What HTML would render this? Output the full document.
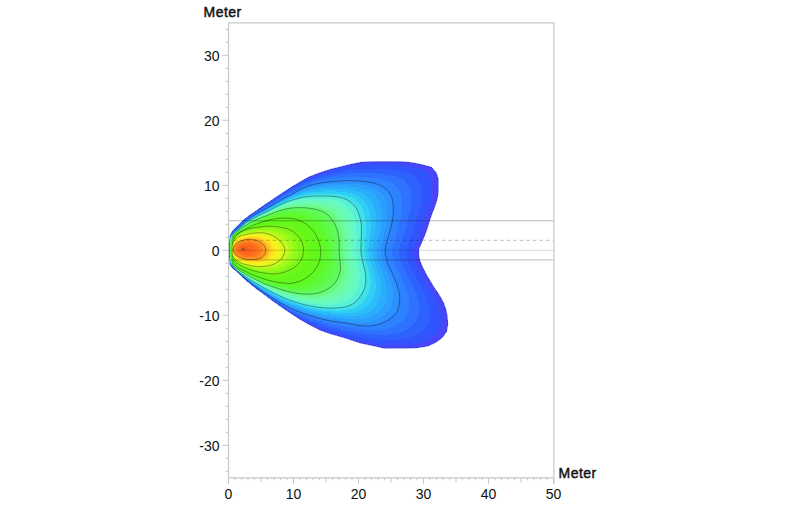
<!DOCTYPE html>
<html><head><meta charset="utf-8"><title>Isolux</title>
<style>
html,body{margin:0;padding:0;background:#fff;}
body{width:800px;height:506px;overflow:hidden;font-family:"Liberation Sans",sans-serif;}
svg{display:block;}
text{font-family:"Liberation Sans",sans-serif;font-size:14px;fill:#111;}
.t{font-weight:normal;stroke:#111;stroke-width:0.45px;letter-spacing:0.5px;}
</style></head><body>
<svg width="800" height="506" viewBox="0 0 800 506">
<rect width="800" height="506" fill="#fff"/>
<defs><clipPath id="cl"><path d="M231.8,0H800V506H231.8Z"/></clipPath><clipPath id="cp"><rect x="229.0" y="22.80000000000001" width="325.0" height="455.0"/></clipPath></defs>
<g clip-path="url(#cp)">
<g shape-rendering="crispEdges">
<path d="M229.3,250.0 229.3,249.7 229.3,249.3 229.3,249.0 229.3,248.6 229.3,248.3 229.2,247.9 229.2,247.6 229.2,247.2 229.2,246.9 229.2,246.5 229.2,246.1 229.2,245.7 229.2,245.3 229.2,244.9 229.2,244.5 229.3,244.1 229.3,243.7 229.4,243.2 229.4,242.8 229.5,242.3 229.5,241.8 229.5,241.3 229.5,240.7 229.5,240.2 229.5,239.5 229.6,238.9 229.7,238.3 229.8,237.6 229.9,236.9 230.0,236.3 230.2,235.6 230.4,234.9 230.7,234.2 231.0,233.6 231.3,233.0 231.7,232.4 232.1,231.8 232.6,231.2 233.0,230.6 233.5,230.0 234.0,229.5 234.6,228.9 235.2,228.3 235.7,227.7 236.4,227.1 237.0,226.5 237.7,225.8 238.4,225.1 239.2,224.3 240.0,223.5 240.9,222.7 241.8,221.8 242.8,220.9 243.8,219.9 244.9,218.9 246.1,218.0 247.4,217.0 248.7,216.0 250.2,215.0 251.7,213.9 253.4,212.8 255.2,211.5 257.3,210.1 259.5,208.5 262.1,206.7 264.9,204.7 268.1,202.6 271.6,200.2 275.7,197.4 280.5,194.3 286.2,190.5 292.6,186.4 299.8,182.2 308.3,177.3 315.7,174.3 323.6,171.5 331.7,169.1 340.3,167.0 350.2,164.5 360.7,162.3 369.9,161.8 379.3,161.6 389.4,161.6 400.6,161.7 411.5,162.6 421.5,164.6 431.4,167.2 436.1,172.4 438.2,178.7 438.3,185.6 438.2,192.4 437.1,199.4 434.8,206.5 432.1,213.3 429.8,219.9 427.9,226.3 425.8,232.4 423.4,238.5 420.8,244.3 418.5,250.0 418.8,255.6 420.0,261.3 422.6,267.3 425.8,273.5 429.5,280.0 433.8,287.0 438.9,294.5 443.3,302.2 446.0,309.9 447.4,317.4 447.7,324.8 446.5,331.7 442.3,337.6 436.0,342.2 428.3,345.9 417.8,347.7 405.8,348.1 394.5,348.1 384.5,348.2 371.1,345.2 359.7,342.9 346.9,338.5 337.1,335.6 328.5,333.1 320.0,330.0 310.7,325.3 302.1,320.5 294.4,315.7 287.4,311.1 281.3,306.8 276.1,303.2 271.8,300.1 268.0,297.3 264.6,294.7 261.7,292.6 259.2,290.7 256.9,289.1 254.9,287.5 253.0,286.0 251.2,284.6 249.7,283.3 248.3,282.2 246.9,281.1 245.7,280.0 244.6,279.0 243.5,278.1 242.6,277.1 241.6,276.2 240.8,275.3 240.0,274.5 239.3,273.7 238.6,273.0 237.9,272.4 237.2,271.9 236.6,271.4 236.0,270.9 235.4,270.4 234.9,270.0 234.3,269.6 233.8,269.1 233.3,268.7 232.8,268.2 232.3,267.8 231.9,267.3 231.5,266.8 231.1,266.2 230.7,265.7 230.4,265.1 230.2,264.5 230.0,263.8 229.9,263.1 229.8,262.4 229.7,261.7 229.6,261.1 229.5,260.5 229.5,259.8 229.5,259.3 229.5,258.7 229.5,258.2 229.5,257.7 229.4,257.2 229.4,256.8 229.3,256.3 229.3,255.9 229.2,255.5 229.2,255.1 229.2,254.7 229.2,254.3 229.2,253.9 229.2,253.5 229.2,253.1 229.2,252.8 229.2,252.4 229.2,252.1 229.3,251.7 229.3,251.4 229.3,251.0 229.3,250.7 229.3,250.3Z" fill="#4a46f8"/>
<path d="M229.3,250.0 229.3,249.7 229.3,249.3 229.3,249.0 229.3,248.6 229.3,248.3 229.3,248.0 229.3,247.6 229.2,247.2 229.2,246.9 229.2,246.5 229.2,246.1 229.2,245.7 229.2,245.3 229.2,244.9 229.3,244.5 229.3,244.1 229.3,243.7 229.4,243.3 229.5,242.8 229.5,242.4 229.5,241.9 229.5,241.3 229.5,240.8 229.5,240.2 229.6,239.6 229.6,238.9 229.7,238.3 229.8,237.7 229.9,237.0 230.1,236.3 230.2,235.6 230.5,235.0 230.7,234.4 231.1,233.7 231.4,233.1 231.8,232.5 232.2,231.9 232.6,231.4 233.1,230.8 233.6,230.2 234.1,229.7 234.6,229.1 235.2,228.5 235.8,228.0 236.4,227.4 237.1,226.7 237.7,226.1 238.5,225.4 239.2,224.7 240.0,223.9 240.8,223.1 241.8,222.2 242.7,221.3 243.7,220.3 244.9,219.4 246.0,218.4 247.3,217.4 248.6,216.4 250.1,215.4 251.6,214.4 253.2,213.3 255.0,212.0 257.0,210.7 259.2,209.2 261.7,207.4 264.4,205.6 267.5,203.5 270.9,201.3 274.9,198.6 279.5,195.6 285.0,192.0 291.2,188.1 298.1,184.1 306.2,179.5 313.7,176.3 321.6,173.4 329.5,171.1 337.8,169.1 347.2,166.8 357.2,164.9 366.1,164.3 375.3,164.2 385.1,164.2 395.7,164.4 406.2,165.3 415.7,167.3 425.0,169.9 429.6,174.9 431.8,180.9 432.2,187.6 432.2,194.2 431.3,200.9 429.3,207.7 426.8,214.4 424.7,220.8 422.9,226.9 420.9,232.9 418.6,238.8 416.2,244.5 414.1,250.0 414.5,255.5 415.6,261.0 418.1,266.8 421.1,272.9 424.6,279.2 428.6,286.0 433.3,293.2 437.3,300.7 439.8,308.1 441.0,315.3 441.1,322.4 439.8,329.1 435.7,334.7 429.6,339.2 422.1,342.8 412.2,344.7 400.8,345.1 389.8,345.0 379.6,344.9 366.8,342.1 356.0,340.0 343.9,336.0 334.4,333.2 326.1,330.8 317.8,327.8 309.0,323.4 300.8,319.0 293.4,314.5 286.6,310.1 280.7,306.1 275.7,302.5 271.4,299.5 267.7,296.8 264.4,294.4 261.5,292.2 259.0,290.4 256.8,288.8 254.7,287.3 252.9,285.8 251.2,284.4 249.6,283.1 248.2,282.0 246.9,280.9 245.7,279.8 244.6,278.9 243.5,277.9 242.6,277.0 241.6,276.1 240.8,275.2 240.0,274.4 239.3,273.7 238.6,273.0 237.9,272.4 237.2,271.9 236.6,271.3 236.0,270.9 235.4,270.4 234.9,269.9 234.3,269.5 233.8,269.1 233.3,268.6 232.8,268.1 232.4,267.7 231.9,267.2 231.5,266.7 231.1,266.1 230.8,265.6 230.5,265.0 230.2,264.4 230.0,263.7 229.9,263.0 229.8,262.3 229.7,261.7 229.6,261.1 229.6,260.4 229.6,259.8 229.5,259.2 229.5,258.7 229.5,258.1 229.5,257.6 229.5,257.2 229.4,256.7 229.3,256.3 229.3,255.9 229.3,255.5 229.2,255.1 229.2,254.7 229.2,254.3 229.2,253.9 229.2,253.5 229.2,253.1 229.2,252.8 229.3,252.4 229.3,252.0 229.3,251.7 229.3,251.4 229.3,251.0 229.3,250.7 229.3,250.3Z" fill="#3154ff"/>
<path d="M229.4,250.0 229.4,249.7 229.4,249.3 229.4,249.0 229.4,248.7 229.4,248.3 229.3,248.0 229.3,247.6 229.3,247.3 229.3,246.9 229.3,246.5 229.3,246.1 229.3,245.8 229.3,245.4 229.3,245.0 229.3,244.6 229.4,244.2 229.4,243.7 229.5,243.3 229.5,242.9 229.6,242.4 229.6,241.9 229.6,241.4 229.6,240.8 229.6,240.2 229.6,239.6 229.7,239.0 229.8,238.4 229.9,237.8 230.0,237.1 230.2,236.5 230.3,235.8 230.6,235.2 230.9,234.5 231.2,233.9 231.5,233.4 231.9,232.8 232.3,232.2 232.7,231.7 233.2,231.1 233.7,230.6 234.2,230.0 234.7,229.5 235.3,229.0 235.9,228.4 236.5,227.8 237.1,227.2 237.8,226.6 238.5,226.0 239.2,225.3 240.0,224.5 240.8,223.7 241.7,222.9 242.6,222.0 243.7,221.1 244.7,220.1 245.9,219.1 247.1,218.1 248.4,217.2 249.8,216.2 251.3,215.2 252.9,214.1 254.7,213.0 256.6,211.7 258.7,210.3 261.0,208.7 263.6,207.1 266.5,205.2 269.7,203.2 273.4,200.8 277.8,198.0 282.9,194.7 288.7,191.2 295.1,187.6 302.6,183.3 310.2,179.8 318.0,176.8 325.5,174.6 333.3,172.8 342.0,170.9 351.0,169.4 359.4,168.8 368.2,168.6 377.4,168.7 387.2,169.1 396.9,170.0 405.6,172.1 413.8,174.8 418.3,179.4 420.7,184.9 421.4,191.1 421.6,197.2 421.0,203.5 419.5,209.9 417.5,216.1 415.7,222.2 414.0,228.0 412.2,233.7 410.1,239.3 408.0,244.7 406.3,250.0 406.7,255.2 407.8,260.6 410.0,266.1 412.8,271.8 416.0,277.9 419.6,284.3 423.5,291.0 426.8,298.0 428.9,304.9 429.8,311.7 429.5,318.2 428.1,324.5 424.1,329.7 418.4,333.9 411.4,337.3 402.5,339.3 392.1,339.9 381.4,339.7 371.0,339.0 359.3,336.7 349.4,334.9 338.6,331.5 329.6,329.0 321.7,326.7 313.9,323.9 305.9,320.2 298.4,316.3 291.6,312.3 285.3,308.4 279.7,304.7 274.9,301.4 270.8,298.5 267.2,296.0 264.0,293.7 261.2,291.6 258.8,289.9 256.6,288.3 254.6,286.8 252.7,285.3 251.0,284.0 249.5,282.7 248.1,281.6 246.8,280.5 245.6,279.5 244.5,278.5 243.5,277.7 242.5,276.8 241.6,275.9 240.8,275.1 240.0,274.3 239.3,273.6 238.6,273.0 237.9,272.4 237.2,271.8 236.6,271.3 236.0,270.8 235.5,270.3 234.9,269.9 234.4,269.4 233.8,268.9 233.4,268.5 232.9,268.0 232.4,267.5 232.0,267.0 231.6,266.5 231.2,266.0 230.9,265.4 230.6,264.8 230.3,264.2 230.1,263.6 230.0,262.9 229.9,262.2 229.8,261.6 229.7,261.0 229.6,260.4 229.6,259.8 229.6,259.2 229.6,258.6 229.6,258.1 229.6,257.6 229.5,257.1 229.5,256.7 229.4,256.3 229.4,255.8 229.3,255.4 229.3,255.0 229.3,254.6 229.3,254.2 229.3,253.9 229.3,253.5 229.3,253.1 229.3,252.7 229.3,252.4 229.3,252.0 229.4,251.7 229.4,251.3 229.4,251.0 229.4,250.7 229.4,250.3Z" fill="#2e62ff"/>
<path d="M229.5,250.0 229.5,249.7 229.5,249.3 229.5,249.0 229.4,248.7 229.4,248.3 229.4,248.0 229.4,247.6 229.4,247.3 229.4,246.9 229.4,246.5 229.4,246.2 229.4,245.8 229.4,245.4 229.4,245.0 229.4,244.6 229.4,244.2 229.5,243.8 229.5,243.3 229.6,242.9 229.6,242.5 229.7,242.0 229.7,241.4 229.7,240.9 229.7,240.3 229.7,239.7 229.7,239.1 229.8,238.4 229.9,237.8 230.1,237.2 230.3,236.6 230.5,236.0 230.7,235.3 231.0,234.7 231.3,234.2 231.6,233.6 232.0,233.0 232.4,232.5 232.9,232.0 233.3,231.4 233.8,230.9 234.3,230.4 234.8,229.9 235.4,229.4 236.0,228.8 236.6,228.3 237.2,227.7 237.8,227.2 238.5,226.5 239.2,225.9 240.0,225.2 240.8,224.4 241.7,223.6 242.6,222.7 243.6,221.8 244.6,220.8 245.7,219.9 247.0,218.9 248.2,217.9 249.6,217.0 251.0,216.0 252.6,215.0 254.3,213.9 256.1,212.7 258.2,211.4 260.4,210.0 262.8,208.5 265.5,206.9 268.5,205.0 272.0,202.9 276.1,200.3 280.9,197.2 286.3,194.1 292.2,190.8 299.3,186.9 306.9,183.1 314.6,180.0 321.7,178.0 329.0,176.4 336.9,174.8 345.1,173.6 353.1,173.1 361.5,172.9 370.2,173.0 379.2,173.5 388.2,174.5 396.1,176.5 403.4,179.3 407.6,183.7 410.2,188.7 411.2,194.4 411.6,200.1 411.3,206.0 410.2,212.0 408.6,217.8 407.1,223.5 405.6,229.1 403.9,234.5 402.1,239.8 400.3,245.0 398.9,250.0 399.3,255.0 400.3,260.1 402.3,265.3 404.9,270.8 407.8,276.6 410.9,282.6 414.2,288.9 416.9,295.4 418.6,301.9 419.1,308.2 418.6,314.3 417.1,320.1 413.1,324.9 407.8,329.0 401.3,332.2 393.3,334.3 383.8,335.0 373.5,334.7 362.9,333.5 352.3,331.6 343.2,330.0 333.5,327.4 325.1,325.1 317.5,322.8 310.2,320.2 302.9,317.0 296.1,313.7 289.8,310.2 284.0,306.7 278.7,303.3 274.1,300.2 270.2,297.5 266.7,295.1 263.6,293.0 260.9,291.0 258.5,289.3 256.3,287.7 254.4,286.3 252.6,284.9 250.9,283.6 249.4,282.3 248.0,281.2 246.7,280.1 245.6,279.1 244.5,278.2 243.5,277.4 242.5,276.6 241.6,275.8 240.8,275.0 240.0,274.3 239.3,273.6 238.6,273.0 237.9,272.4 237.2,271.8 236.6,271.3 236.0,270.8 235.5,270.3 234.9,269.8 234.4,269.3 233.9,268.8 233.4,268.3 232.9,267.9 232.5,267.4 232.1,266.9 231.7,266.3 231.3,265.8 231.0,265.3 230.7,264.7 230.4,264.1 230.2,263.4 230.1,262.8 229.9,262.2 229.8,261.6 229.7,260.9 229.7,260.3 229.7,259.7 229.7,259.1 229.7,258.6 229.7,258.0 229.6,257.5 229.6,257.1 229.5,256.7 229.5,256.2 229.4,255.8 229.4,255.4 229.4,255.0 229.4,254.6 229.4,254.2 229.4,253.8 229.4,253.5 229.4,253.1 229.4,252.7 229.4,252.4 229.4,252.0 229.4,251.7 229.4,251.3 229.5,251.0 229.5,250.7 229.5,250.3Z" fill="#2e72ff"/>
<path d="M229.5,250.0 229.5,249.7 229.5,249.3 229.5,249.0 229.5,248.7 229.5,248.3 229.5,248.0 229.5,247.6 229.4,247.3 229.4,246.9 229.4,246.6 229.4,246.2 229.4,245.8 229.4,245.4 229.4,245.0 229.5,244.6 229.5,244.2 229.5,243.8 229.6,243.4 229.6,243.0 229.7,242.5 229.7,242.0 229.7,241.5 229.7,240.9 229.7,240.3 229.7,239.7 229.8,239.1 229.9,238.5 230.0,237.9 230.2,237.3 230.3,236.7 230.6,236.1 230.8,235.5 231.1,234.9 231.4,234.4 231.8,233.8 232.1,233.3 232.5,232.8 233.0,232.2 233.4,231.7 233.9,231.2 234.4,230.8 234.9,230.3 235.5,229.8 236.0,229.3 236.6,228.8 237.2,228.2 237.9,227.7 238.6,227.1 239.3,226.5 240.0,225.8 240.8,225.1 241.6,224.2 242.5,223.4 243.5,222.5 244.5,221.5 245.6,220.6 246.8,219.6 248.0,218.7 249.4,217.7 250.8,216.8 252.3,215.8 253.9,214.8 255.7,213.7 257.7,212.5 259.8,211.2 262.0,209.9 264.6,208.5 267.4,206.8 270.6,204.9 274.5,202.5 279.1,199.6 284.0,196.8 289.5,193.9 296.0,190.3 303.8,186.2 311.3,183.1 318.1,181.2 324.9,179.7 332.2,178.5 339.6,177.6 347.2,177.2 355.2,176.9 363.3,177.1 371.6,177.7 379.9,178.7 387.2,180.7 393.5,183.6 397.5,187.6 400.3,192.3 401.7,197.5 402.1,202.9 402.1,208.4 401.4,213.9 400.2,219.4 398.9,224.8 397.6,230.1 396.0,235.3 394.4,240.3 392.9,245.2 391.8,250.0 392.2,254.8 393.2,259.6 394.9,264.6 397.4,269.9 400.0,275.3 402.7,281.0 405.4,287.0 407.5,293.0 408.9,299.1 409.1,304.9 408.3,310.6 406.7,316.0 402.9,320.5 397.8,324.3 391.9,327.4 384.6,329.5 375.9,330.4 366.0,330.0 355.3,328.4 345.7,326.8 337.3,325.5 328.7,323.4 320.9,321.3 313.6,319.1 306.7,316.7 300.1,314.0 293.9,311.2 288.2,308.2 282.8,305.1 277.8,302.0 273.4,299.1 269.5,296.6 266.2,294.3 263.2,292.3 260.6,290.4 258.2,288.7 256.1,287.2 254.2,285.8 252.4,284.4 250.8,283.2 249.3,281.9 247.9,280.8 246.7,279.8 245.5,278.8 244.4,277.9 243.4,277.1 242.5,276.3 241.6,275.6 240.8,274.9 240.0,274.2 239.3,273.6 238.6,272.9 237.9,272.4 237.2,271.8 236.6,271.2 236.0,270.7 235.5,270.2 234.9,269.7 234.4,269.2 233.9,268.7 233.4,268.2 233.0,267.7 232.6,267.2 232.1,266.7 231.8,266.2 231.4,265.6 231.1,265.1 230.8,264.5 230.5,263.9 230.3,263.3 230.2,262.7 230.0,262.1 229.9,261.5 229.8,260.9 229.7,260.3 229.7,259.6 229.7,259.1 229.7,258.5 229.7,258.0 229.7,257.5 229.6,257.0 229.6,256.6 229.5,256.2 229.5,255.8 229.5,255.4 229.4,255.0 229.4,254.6 229.4,254.2 229.4,253.8 229.4,253.4 229.4,253.1 229.4,252.7 229.5,252.4 229.5,252.0 229.5,251.7 229.5,251.3 229.5,251.0 229.5,250.7 229.5,250.3Z" fill="#2d82ff"/>
<path d="M229.6,250.0 229.6,249.7 229.6,249.3 229.6,249.0 229.6,248.7 229.6,248.3 229.5,248.0 229.5,247.7 229.5,247.3 229.5,246.9 229.5,246.6 229.5,246.2 229.5,245.8 229.5,245.5 229.5,245.1 229.5,244.7 229.5,244.3 229.6,243.8 229.6,243.4 229.7,243.0 229.8,242.6 229.8,242.1 229.8,241.5 229.8,241.0 229.8,240.4 229.8,239.8 229.8,239.2 229.9,238.6 230.1,238.0 230.2,237.4 230.4,236.8 230.7,236.3 230.9,235.7 231.2,235.1 231.5,234.6 231.9,234.0 232.2,233.5 232.7,233.0 233.1,232.5 233.5,232.0 234.0,231.6 234.5,231.1 235.0,230.6 235.6,230.2 236.1,229.7 236.7,229.2 237.3,228.7 237.9,228.2 238.6,227.6 239.3,227.1 240.0,226.4 240.8,225.7 241.6,224.9 242.5,224.0 243.4,223.1 244.4,222.2 245.5,221.3 246.6,220.3 247.9,219.4 249.2,218.5 250.5,217.6 252.0,216.6 253.6,215.6 255.3,214.6 257.2,213.5 259.1,212.4 261.3,211.3 263.7,210.0 266.3,208.5 269.3,206.8 273.0,204.6 277.3,202.0 281.9,199.4 286.9,196.8 293.0,193.5 300.8,189.2 308.1,186.0 314.6,184.2 321.0,183.0 327.7,182.0 334.4,181.4 341.5,181.0 349.1,180.7 356.8,180.9 364.4,181.6 372.1,182.7 378.7,184.7 384.3,187.6 388.1,191.4 391.0,195.6 392.6,200.4 393.2,205.5 393.4,210.6 393.1,215.8 392.2,221.0 391.2,226.1 389.9,231.1 388.5,236.0 387.1,240.7 385.8,245.4 385.0,250.0 385.4,254.6 386.4,259.2 387.8,264.0 390.2,269.0 392.6,274.2 394.9,279.5 397.0,285.1 398.6,290.7 399.7,296.4 399.6,301.9 398.6,307.1 396.9,312.1 393.2,316.3 388.5,319.9 382.9,322.8 376.4,325.0 368.5,326.0 359.0,325.5 348.2,323.5 339.4,322.2 331.8,321.2 324.2,319.6 316.8,317.7 309.9,315.6 303.4,313.4 297.4,311.2 291.8,308.8 286.6,306.3 281.5,303.5 276.9,300.7 272.6,298.0 268.9,295.6 265.7,293.5 262.9,291.6 260.3,289.8 258.0,288.2 255.9,286.7 254.0,285.3 252.2,284.0 250.6,282.7 249.2,281.5 247.8,280.4 246.6,279.4 245.4,278.4 244.4,277.6 243.4,276.8 242.5,276.1 241.6,275.4 240.8,274.8 240.0,274.1 239.3,273.5 238.6,272.9 237.9,272.3 237.2,271.8 236.6,271.2 236.1,270.7 235.5,270.1 235.0,269.6 234.5,269.1 234.0,268.6 233.5,268.1 233.0,267.6 232.6,267.1 232.2,266.5 231.8,266.0 231.5,265.5 231.2,264.9 230.9,264.4 230.6,263.8 230.4,263.2 230.2,262.6 230.1,262.0 229.9,261.4 229.9,260.8 229.8,260.2 229.8,259.6 229.8,259.0 229.8,258.5 229.8,257.9 229.8,257.4 229.7,257.0 229.6,256.6 229.6,256.2 229.5,255.7 229.5,255.3 229.5,254.9 229.5,254.5 229.5,254.2 229.5,253.8 229.5,253.4 229.5,253.1 229.5,252.7 229.5,252.3 229.5,252.0 229.6,251.7 229.6,251.3 229.6,251.0 229.6,250.7 229.6,250.3Z" fill="#2c91fe"/>
<path d="M229.7,250.0 229.6,249.7 229.6,249.3 229.6,249.0 229.6,248.7 229.6,248.4 229.6,248.0 229.6,247.7 229.6,247.3 229.5,247.0 229.5,246.6 229.5,246.2 229.5,245.9 229.5,245.5 229.5,245.1 229.6,244.7 229.6,244.3 229.6,243.9 229.7,243.5 229.7,243.0 229.8,242.6 229.8,242.1 229.8,241.6 229.8,241.0 229.8,240.5 229.9,239.9 229.9,239.3 230.0,238.7 230.1,238.1 230.3,237.5 230.5,236.9 230.7,236.4 231.0,235.8 231.3,235.2 231.6,234.7 231.9,234.2 232.3,233.7 232.7,233.2 233.1,232.7 233.6,232.2 234.1,231.8 234.6,231.3 235.1,230.8 235.6,230.4 236.2,229.9 236.7,229.4 237.3,229.0 238.0,228.4 238.6,227.9 239.3,227.3 240.0,226.7 240.8,226.0 241.6,225.2 242.4,224.4 243.3,223.5 244.3,222.6 245.4,221.7 246.5,220.8 247.7,219.9 249.0,219.0 250.4,218.1 251.8,217.2 253.4,216.2 255.0,215.2 256.9,214.2 258.8,213.1 260.9,212.0 263.2,210.8 265.8,209.4 268.7,207.8 272.2,205.7 276.2,203.3 280.7,200.8 285.6,198.3 291.4,195.3 298.6,191.4 305.5,188.5 311.7,186.8 317.9,185.6 324.2,184.7 330.7,184.1 337.5,183.8 344.7,183.6 352.0,183.8 359.3,184.4 366.6,185.5 372.8,187.5 378.0,190.3 381.7,193.9 384.6,197.9 386.2,202.5 386.9,207.3 387.3,212.2 387.2,217.1 386.6,222.0 385.8,226.9 384.7,231.7 383.6,236.4 382.4,241.0 381.3,245.6 380.7,250.0 381.1,254.4 382.0,258.9 383.3,263.5 385.4,268.4 387.5,273.4 389.5,278.5 391.3,283.8 392.5,289.2 393.3,294.5 393.0,299.7 391.8,304.6 390.0,309.4 386.5,313.4 382.0,316.8 376.7,319.6 370.3,321.6 362.8,322.6 353.9,322.3 344.0,320.7 335.7,319.5 328.3,318.5 321.0,317.0 313.9,315.2 307.2,313.1 301.0,311.0 295.3,308.9 289.9,306.6 284.8,304.1 280.0,301.6 275.6,298.9 271.6,296.5 268.1,294.2 265.0,292.3 262.2,290.5 259.8,288.8 257.5,287.3 255.5,285.9 253.7,284.6 252.0,283.3 250.4,282.1 249.0,281.0 247.7,279.9 246.5,279.0 245.4,278.1 244.3,277.2 243.3,276.5 242.4,275.8 241.6,275.1 240.8,274.5 240.0,273.9 239.3,273.3 238.6,272.7 237.9,272.2 237.3,271.6 236.7,271.1 236.1,270.5 235.5,270.0 235.0,269.5 234.5,268.9 234.0,268.4 233.5,267.9 233.1,267.4 232.7,266.9 232.3,266.4 231.9,265.9 231.6,265.4 231.2,264.8 231.0,264.2 230.7,263.7 230.5,263.1 230.3,262.5 230.1,261.9 230.0,261.3 229.9,260.7 229.9,260.1 229.8,259.5 229.8,259.0 229.8,258.4 229.8,257.9 229.8,257.4 229.7,257.0 229.7,256.5 229.6,256.1 229.6,255.7 229.6,255.3 229.5,254.9 229.5,254.5 229.5,254.1 229.5,253.8 229.5,253.4 229.5,253.0 229.6,252.7 229.6,252.3 229.6,252.0 229.6,251.6 229.6,251.3 229.6,251.0 229.6,250.7 229.6,250.3Z" fill="#2c9ffe"/>
<path d="M229.7,250.0 229.7,249.7 229.7,249.4 229.7,249.0 229.7,248.7 229.7,248.4 229.6,248.0 229.6,247.7 229.6,247.3 229.6,247.0 229.6,246.6 229.6,246.2 229.6,245.9 229.6,245.5 229.6,245.1 229.6,244.7 229.6,244.3 229.7,243.9 229.7,243.5 229.8,243.1 229.8,242.6 229.9,242.1 229.9,241.6 229.9,241.1 229.9,240.5 229.9,239.9 230.0,239.3 230.1,238.7 230.2,238.2 230.4,237.6 230.6,237.0 230.8,236.5 231.1,235.9 231.3,235.4 231.7,234.8 232.0,234.3 232.4,233.8 232.8,233.3 233.2,232.9 233.7,232.4 234.1,231.9 234.6,231.5 235.1,231.0 235.7,230.6 236.2,230.1 236.8,229.7 237.4,229.2 238.0,228.7 238.6,228.2 239.3,227.6 240.0,227.0 240.7,226.3 241.5,225.6 242.4,224.7 243.3,223.9 244.3,223.0 245.3,222.1 246.4,221.2 247.6,220.3 248.9,219.5 250.2,218.6 251.6,217.7 253.1,216.8 254.8,215.8 256.5,214.8 258.4,213.8 260.5,212.7 262.7,211.6 265.2,210.3 268.0,208.8 271.4,206.8 275.3,204.6 279.6,202.1 284.3,199.7 289.8,196.9 296.5,193.5 302.9,190.9 308.9,189.2 314.9,188.1 321.0,187.2 327.1,186.7 333.6,186.4 340.4,186.3 347.4,186.5 354.4,187.1 361.3,188.2 367.2,190.2 372.0,192.9 375.6,196.3 378.4,200.2 380.0,204.5 380.9,209.1 381.5,213.7 381.5,218.4 381.1,223.1 380.5,227.7 379.7,232.3 378.8,236.9 377.8,241.3 377.0,245.7 376.4,250.0 376.8,254.3 377.7,258.7 378.9,263.1 380.8,267.8 382.7,272.6 384.4,277.5 385.8,282.6 386.7,287.7 387.2,292.8 386.6,297.6 385.3,302.3 383.3,306.7 380.0,310.6 375.7,313.9 370.7,316.6 364.5,318.5 357.3,319.4 349.0,319.2 339.9,317.9 332.0,316.9 324.9,315.9 317.9,314.5 311.1,312.7 304.7,310.8 298.7,308.7 293.2,306.6 288.0,304.4 283.1,302.1 278.5,299.6 274.3,297.2 270.5,294.9 267.2,292.9 264.3,291.1 261.6,289.4 259.3,287.8 257.1,286.4 255.2,285.1 253.4,283.9 251.8,282.7 250.2,281.5 248.9,280.5 247.6,279.5 246.4,278.5 245.3,277.7 244.3,276.9 243.3,276.2 242.4,275.5 241.6,274.9 240.8,274.3 240.0,273.7 239.3,273.1 238.6,272.5 237.9,272.0 237.3,271.5 236.7,270.9 236.1,270.4 235.6,269.8 235.0,269.3 234.5,268.8 234.1,268.3 233.6,267.8 233.2,267.3 232.7,266.8 232.3,266.3 232.0,265.8 231.6,265.2 231.3,264.7 231.0,264.1 230.8,263.6 230.6,263.0 230.4,262.4 230.2,261.8 230.1,261.3 230.0,260.7 229.9,260.1 229.9,259.5 229.9,258.9 229.9,258.4 229.9,257.9 229.8,257.4 229.8,256.9 229.7,256.5 229.7,256.1 229.6,255.7 229.6,255.3 229.6,254.9 229.6,254.5 229.6,254.1 229.6,253.8 229.6,253.4 229.6,253.0 229.6,252.7 229.6,252.3 229.6,252.0 229.7,251.6 229.7,251.3 229.7,251.0 229.7,250.6 229.7,250.3Z" fill="#2aadfc"/>
<path d="M229.8,250.0 229.7,249.7 229.7,249.4 229.7,249.0 229.7,248.7 229.7,248.4 229.7,248.0 229.7,247.7 229.7,247.3 229.6,247.0 229.6,246.6 229.6,246.3 229.6,245.9 229.6,245.5 229.6,245.1 229.7,244.7 229.7,244.3 229.7,243.9 229.8,243.5 229.8,243.1 229.9,242.7 229.9,242.2 229.9,241.7 229.9,241.1 229.9,240.6 230.0,240.0 230.0,239.4 230.1,238.8 230.3,238.2 230.4,237.7 230.6,237.1 230.9,236.6 231.1,236.0 231.4,235.5 231.7,235.0 232.1,234.5 232.5,234.0 232.9,233.5 233.3,233.0 233.7,232.6 234.2,232.1 234.7,231.7 235.2,231.2 235.7,230.8 236.3,230.4 236.8,229.9 237.4,229.4 238.0,229.0 238.6,228.5 239.3,227.9 240.0,227.3 240.7,226.6 241.5,225.9 242.4,225.1 243.3,224.3 244.2,223.4 245.2,222.5 246.3,221.6 247.5,220.8 248.7,219.9 250.0,219.1 251.4,218.2 252.9,217.4 254.5,216.4 256.2,215.5 258.1,214.5 260.1,213.5 262.3,212.3 264.7,211.1 267.4,209.7 270.6,207.9 274.3,205.8 278.5,203.5 283.1,201.1 288.3,198.6 294.4,195.6 300.5,193.2 306.2,191.6 312.0,190.5 317.8,189.7 323.7,189.2 329.8,189.0 336.3,188.9 343.0,189.1 349.7,189.7 356.2,190.8 361.8,192.7 366.2,195.4 369.7,198.7 372.5,202.3 374.1,206.4 375.2,210.7 375.9,215.1 376.1,219.6 375.9,224.1 375.5,228.5 374.9,233.0 374.2,237.3 373.5,241.6 372.8,245.8 372.3,250.0 372.7,254.2 373.5,258.4 374.7,262.7 376.2,267.2 378.0,271.8 379.4,276.6 380.5,281.4 381.1,286.2 381.3,291.0 380.5,295.7 379.0,300.0 377.0,304.2 373.8,307.9 369.8,311.1 365.0,313.7 359.0,315.4 352.1,316.3 344.3,316.2 336.0,315.2 328.6,314.3 321.7,313.4 315.0,312.0 308.5,310.4 302.3,308.5 296.5,306.5 291.2,304.5 286.1,302.3 281.4,300.1 277.1,297.8 273.1,295.5 269.5,293.5 266.4,291.6 263.6,289.9 261.1,288.3 258.8,286.8 256.7,285.5 254.8,284.3 253.1,283.1 251.5,282.0 250.1,280.9 248.7,279.9 247.4,279.0 246.3,278.1 245.2,277.3 244.2,276.5 243.3,275.9 242.4,275.2 241.5,274.6 240.8,274.0 240.0,273.5 239.3,272.9 238.6,272.4 237.9,271.8 237.3,271.3 236.7,270.8 236.1,270.2 235.6,269.7 235.1,269.2 234.6,268.7 234.1,268.2 233.6,267.7 233.2,267.2 232.8,266.7 232.4,266.2 232.0,265.6 231.7,265.1 231.4,264.6 231.1,264.0 230.9,263.5 230.6,262.9 230.4,262.3 230.3,261.8 230.1,261.2 230.0,260.6 230.0,260.0 230.0,259.4 229.9,258.9 229.9,258.3 229.9,257.8 229.9,257.3 229.8,256.9 229.8,256.5 229.7,256.1 229.7,255.7 229.7,255.3 229.6,254.9 229.6,254.5 229.6,254.1 229.6,253.7 229.6,253.4 229.6,253.0 229.7,252.7 229.7,252.3 229.7,252.0 229.7,251.6 229.7,251.3 229.7,251.0 229.7,250.6 229.7,250.3Z" fill="#2cbcfa"/>
<path d="M229.8,250.0 229.8,249.7 229.8,249.4 229.8,249.0 229.8,248.7 229.8,248.4 229.7,248.0 229.7,247.7 229.7,247.4 229.7,247.0 229.7,246.6 229.7,246.3 229.7,245.9 229.7,245.5 229.7,245.1 229.7,244.8 229.7,244.4 229.8,244.0 229.8,243.5 229.9,243.1 229.9,242.7 230.0,242.2 230.0,241.7 230.0,241.2 230.0,240.6 230.0,240.0 230.1,239.4 230.2,238.9 230.3,238.3 230.5,237.8 230.7,237.2 230.9,236.7 231.2,236.1 231.5,235.6 231.8,235.1 232.2,234.6 232.5,234.1 232.9,233.6 233.3,233.2 233.8,232.7 234.3,232.3 234.7,231.9 235.2,231.4 235.8,231.0 236.3,230.6 236.9,230.1 237.4,229.7 238.0,229.2 238.7,228.7 239.3,228.2 240.0,227.6 240.7,226.9 241.5,226.2 242.3,225.4 243.2,224.6 244.2,223.8 245.2,222.9 246.2,222.0 247.4,221.2 248.6,220.4 249.9,219.6 251.3,218.7 252.7,217.9 254.3,217.0 255.9,216.1 257.8,215.1 259.7,214.2 261.8,213.1 264.2,211.9 266.8,210.6 269.8,209.0 273.4,207.0 277.4,204.7 281.9,202.5 286.8,200.1 292.5,197.5 298.1,195.4 303.7,193.9 309.2,192.8 314.8,192.0 320.4,191.6 326.2,191.4 332.4,191.4 338.8,191.6 345.2,192.2 351.4,193.3 356.6,195.1 360.7,197.8 364.1,200.9 366.8,204.3 368.5,208.3 369.6,212.3 370.5,216.5 370.9,220.7 370.8,225.0 370.6,229.3 370.3,233.5 369.8,237.7 369.2,241.9 368.7,246.0 368.4,250.0 368.7,254.0 369.5,258.1 370.5,262.3 371.9,266.7 373.4,271.1 374.7,275.7 375.4,280.3 375.8,284.9 375.7,289.4 374.7,293.8 373.0,297.9 370.9,301.8 367.9,305.4 364.1,308.4 359.5,310.9 353.7,312.5 347.1,313.4 339.9,313.4 332.2,312.7 325.2,311.9 318.6,310.9 312.1,309.7 305.9,308.1 299.9,306.3 294.4,304.4 289.2,302.4 284.4,300.4 279.9,298.2 275.7,296.0 271.9,293.9 268.6,292.0 265.6,290.3 262.9,288.7 260.5,287.2 258.3,285.9 256.3,284.7 254.5,283.5 252.8,282.4 251.3,281.4 249.9,280.4 248.5,279.4 247.3,278.5 246.2,277.7 245.1,276.9 244.1,276.2 243.2,275.6 242.4,274.9 241.5,274.4 240.7,273.8 240.0,273.2 239.3,272.7 238.6,272.2 238.0,271.7 237.3,271.1 236.7,270.6 236.2,270.1 235.6,269.6 235.1,269.0 234.6,268.5 234.1,268.0 233.7,267.5 233.3,267.0 232.8,266.5 232.5,266.0 232.1,265.5 231.8,265.0 231.5,264.4 231.2,263.9 230.9,263.4 230.7,262.8 230.5,262.3 230.3,261.7 230.2,261.1 230.1,260.6 230.0,260.0 230.0,259.4 230.0,258.8 230.0,258.3 230.0,257.8 229.9,257.3 229.9,256.9 229.8,256.5 229.8,256.0 229.7,255.6 229.7,255.2 229.7,254.9 229.7,254.5 229.7,254.1 229.7,253.7 229.7,253.4 229.7,253.0 229.7,252.6 229.7,252.3 229.7,252.0 229.8,251.6 229.8,251.3 229.8,251.0 229.8,250.6 229.8,250.3Z" fill="#30cdf5"/>
<path d="M229.9,250.0 229.8,249.7 229.8,249.4 229.8,249.0 229.8,248.7 229.8,248.4 229.8,248.1 229.8,247.7 229.8,247.4 229.7,247.0 229.7,246.7 229.7,246.3 229.7,245.9 229.7,245.6 229.7,245.2 229.8,244.8 229.8,244.4 229.8,244.0 229.9,243.6 229.9,243.2 230.0,242.7 230.0,242.3 230.0,241.8 230.0,241.2 230.1,240.7 230.1,240.1 230.1,239.5 230.2,238.9 230.4,238.4 230.6,237.8 230.8,237.3 231.0,236.8 231.3,236.2 231.6,235.7 231.9,235.2 232.2,234.7 232.6,234.3 233.0,233.8 233.4,233.3 233.8,232.9 234.3,232.5 234.8,232.1 235.3,231.6 235.8,231.2 236.3,230.8 236.9,230.4 237.5,229.9 238.1,229.5 238.7,229.0 239.3,228.5 240.0,227.9 240.7,227.2 241.5,226.5 242.3,225.8 243.2,225.0 244.1,224.1 245.1,223.3 246.2,222.5 247.3,221.6 248.5,220.8 249.7,220.0 251.1,219.3 252.5,218.4 254.0,217.6 255.7,216.7 257.4,215.8 259.3,214.8 261.4,213.8 263.6,212.7 266.2,211.5 269.0,210.0 272.5,208.2 276.4,206.0 280.7,203.8 285.4,201.6 290.6,199.4 295.9,197.5 301.2,196.1 306.5,195.0 311.8,194.3 317.2,193.9 322.8,193.7 328.6,193.7 334.8,194.0 340.9,194.5 346.7,195.6 351.7,197.5 355.4,200.0 358.7,203.0 361.4,206.3 363.0,210.0 364.3,213.9 365.3,217.8 365.9,221.9 366.0,226.0 365.9,230.1 365.8,234.1 365.5,238.1 365.1,242.1 364.7,246.1 364.5,250.0 364.9,253.9 365.6,257.9 366.5,262.0 367.7,266.1 369.0,270.4 370.0,274.8 370.5,279.2 370.6,283.5 370.2,287.8 369.1,291.9 367.3,295.8 365.1,299.5 362.3,302.9 358.6,305.8 354.3,308.2 348.6,309.7 342.4,310.5 335.6,310.7 328.6,310.2 322.0,309.6 315.6,308.6 309.4,307.4 303.4,305.9 297.7,304.2 292.3,302.3 287.4,300.5 282.7,298.4 278.4,296.4 274.4,294.3 270.8,292.4 267.6,290.7 264.8,289.1 262.2,287.6 259.9,286.2 257.8,285.0 255.9,283.8 254.2,282.8 252.6,281.7 251.1,280.8 249.7,279.8 248.4,278.9 247.2,278.1 246.1,277.3 245.1,276.5 244.1,275.9 243.2,275.2 242.3,274.7 241.5,274.1 240.7,273.6 240.0,273.0 239.3,272.5 238.6,272.0 238.0,271.5 237.3,271.0 236.8,270.5 236.2,269.9 235.7,269.4 235.1,268.9 234.7,268.4 234.2,267.9 233.7,267.4 233.3,266.9 232.9,266.4 232.5,265.9 232.2,265.4 231.8,264.9 231.5,264.3 231.3,263.8 231.0,263.3 230.8,262.7 230.6,262.2 230.4,261.6 230.2,261.1 230.1,260.5 230.1,259.9 230.1,259.3 230.1,258.8 230.0,258.2 230.0,257.7 230.0,257.3 229.9,256.8 229.9,256.4 229.8,256.0 229.8,255.6 229.8,255.2 229.7,254.8 229.7,254.4 229.7,254.1 229.7,253.7 229.7,253.3 229.7,253.0 229.8,252.6 229.8,252.3 229.8,251.9 229.8,251.6 229.8,251.3 229.8,251.0 229.8,250.6 229.8,250.3Z" fill="#40e0e8"/>
<path d="M229.9,250.0 229.9,249.7 229.9,249.4 229.9,249.0 229.9,248.7 229.9,248.4 229.8,248.1 229.8,247.7 229.8,247.4 229.8,247.0 229.8,246.7 229.8,246.3 229.8,245.9 229.8,245.6 229.8,245.2 229.8,244.8 229.8,244.4 229.9,244.0 229.9,243.6 230.0,243.2 230.0,242.8 230.1,242.3 230.1,241.8 230.1,241.3 230.1,240.7 230.1,240.1 230.2,239.6 230.3,239.0 230.4,238.5 230.6,237.9 230.8,237.4 231.1,236.9 231.3,236.4 231.6,235.8 231.9,235.3 232.3,234.9 232.7,234.4 233.1,233.9 233.5,233.5 233.9,233.1 234.4,232.7 234.8,232.2 235.3,231.8 235.8,231.4 236.4,231.0 236.9,230.6 237.5,230.2 238.1,229.7 238.7,229.2 239.3,228.7 240.0,228.2 240.7,227.5 241.5,226.8 242.3,226.1 243.1,225.3 244.0,224.5 245.0,223.7 246.1,222.9 247.2,222.1 248.3,221.3 249.6,220.5 250.9,219.8 252.3,219.0 253.8,218.2 255.4,217.3 257.1,216.4 259.0,215.5 261.0,214.6 263.1,213.5 265.6,212.4 268.3,211.1 271.6,209.3 275.4,207.2 279.6,205.1 284.0,203.1 288.8,201.2 293.7,199.6 298.8,198.2 303.9,197.1 309.0,196.4 314.2,196.1 319.5,196.0 325.0,196.0 330.9,196.3 336.7,196.8 342.2,197.9 346.9,199.7 350.4,202.2 353.6,205.0 356.2,208.2 357.9,211.7 359.2,215.4 360.4,219.1 361.1,222.9 361.3,226.9 361.4,230.8 361.4,234.7 361.3,238.5 361.1,242.4 360.9,246.2 360.8,250.0 361.1,253.8 361.9,257.7 362.6,261.6 363.6,265.6 364.7,269.8 365.6,274.0 365.7,278.1 365.6,282.3 365.0,286.3 363.7,290.2 361.8,293.9 359.6,297.3 356.9,300.6 353.4,303.4 349.3,305.7 343.8,307.1 337.8,307.8 331.5,308.1 325.1,307.9 318.9,307.3 312.7,306.4 306.8,305.2 301.0,303.8 295.5,302.1 290.4,300.4 285.6,298.6 281.1,296.6 276.9,294.6 273.1,292.7 269.7,290.9 266.7,289.3 264.0,287.9 261.6,286.5 259.4,285.2 257.4,284.1 255.5,283.0 253.9,282.0 252.3,281.1 250.9,280.1 249.5,279.2 248.3,278.4 247.1,277.6 246.0,276.9 245.0,276.2 244.0,275.5 243.2,274.9 242.3,274.4 241.5,273.8 240.7,273.3 240.0,272.8 239.3,272.3 238.6,271.8 238.0,271.3 237.4,270.8 236.8,270.3 236.2,269.8 235.7,269.3 235.2,268.8 234.7,268.3 234.2,267.8 233.8,267.3 233.4,266.8 233.0,266.3 232.6,265.8 232.2,265.2 231.9,264.7 231.6,264.2 231.3,263.7 231.1,263.1 230.8,262.6 230.6,262.1 230.4,261.6 230.3,261.0 230.2,260.4 230.2,259.8 230.1,259.3 230.1,258.7 230.1,258.2 230.1,257.7 230.0,257.2 230.0,256.8 229.9,256.4 229.9,256.0 229.8,255.6 229.8,255.2 229.8,254.8 229.8,254.4 229.8,254.1 229.8,253.7 229.8,253.3 229.8,253.0 229.8,252.6 229.8,252.3 229.8,251.9 229.9,251.6 229.9,251.3 229.9,251.0 229.9,250.6 229.9,250.3Z" fill="#55f1d8"/>
<path d="M230.0,250.0 230.0,249.7 230.0,249.4 229.9,249.0 229.9,248.7 229.9,248.4 229.9,248.1 229.9,247.7 229.9,247.4 229.9,247.1 229.8,246.7 229.8,246.3 229.8,246.0 229.8,245.6 229.9,245.2 229.9,244.8 229.9,244.4 229.9,244.0 230.0,243.6 230.0,243.2 230.1,242.8 230.2,242.4 230.2,241.9 230.2,241.4 230.2,240.8 230.2,240.2 230.3,239.7 230.4,239.1 230.5,238.6 230.7,238.0 230.9,237.5 231.2,237.0 231.4,236.5 231.7,236.0 232.0,235.5 232.4,235.1 232.8,234.6 233.1,234.2 233.6,233.7 234.0,233.3 234.4,232.9 234.9,232.5 235.4,232.1 235.9,231.7 236.4,231.2 237.0,230.8 237.5,230.4 238.1,229.9 238.7,229.5 239.3,229.0 240.0,228.4 240.7,227.8 241.4,227.2 242.2,226.5 243.1,225.7 244.0,225.0 244.9,224.2 245.9,223.4 247.0,222.6 248.2,221.9 249.4,221.2 250.6,220.4 252.0,219.7 253.5,218.9 255.0,218.1 256.7,217.2 258.5,216.3 260.4,215.4 262.5,214.5 264.9,213.4 267.5,212.2 270.5,210.6 274.1,208.8 278.0,206.9 282.2,205.1 286.7,203.3 291.3,201.8 296.1,200.5 301.0,199.5 305.8,198.9 310.7,198.6 315.7,198.6 320.9,198.7 326.4,198.9 331.8,199.5 337.0,200.6 341.4,202.3 344.9,204.6 348.0,207.3 350.5,210.2 352.3,213.5 353.7,217.0 354.9,220.5 355.7,224.1 356.2,227.8 356.3,231.6 356.5,235.3 356.5,239.0 356.4,242.7 356.2,246.3 356.1,250.0 356.4,253.7 357.0,257.4 357.7,261.1 358.5,265.0 359.4,268.9 360.1,272.9 360.1,276.8 359.8,280.8 359.0,284.6 357.7,288.2 355.7,291.7 353.4,294.9 350.7,297.9 347.2,300.5 343.2,302.6 338.1,303.9 332.5,304.7 326.6,305.0 320.7,304.8 314.7,304.3 308.9,303.4 303.3,302.3 297.8,301.0 292.6,299.4 287.8,297.8 283.3,296.1 279.1,294.4 275.3,292.6 271.7,290.9 268.6,289.3 265.7,287.9 263.2,286.5 260.8,285.2 258.7,284.1 256.8,283.0 255.1,282.0 253.5,281.1 251.9,280.2 250.5,279.3 249.2,278.5 248.0,277.7 246.9,276.9 245.9,276.2 244.9,275.6 244.0,275.0 243.1,274.4 242.3,273.9 241.5,273.4 240.7,272.9 240.0,272.4 239.3,271.9 238.7,271.4 238.0,271.0 237.4,270.5 236.8,270.0 236.3,269.5 235.7,269.0 235.2,268.5 234.8,268.0 234.3,267.5 233.9,267.0 233.4,266.6 233.1,266.1 232.7,265.6 232.3,265.1 232.0,264.5 231.7,264.0 231.4,263.5 231.2,263.0 230.9,262.5 230.7,262.0 230.5,261.4 230.4,260.9 230.3,260.3 230.2,259.8 230.2,259.2 230.2,258.6 230.2,258.1 230.2,257.6 230.1,257.2 230.0,256.8 230.0,256.4 229.9,256.0 229.9,255.6 229.9,255.2 229.9,254.8 229.8,254.4 229.8,254.0 229.8,253.7 229.8,253.3 229.9,252.9 229.9,252.6 229.9,252.3 229.9,251.9 229.9,251.6 229.9,251.3 229.9,251.0 230.0,250.6 230.0,250.3Z" fill="#65f9c6"/>
<path d="M230.0,250.0 230.0,249.7 230.0,249.4 230.0,249.1 230.0,248.7 230.0,248.4 230.0,248.1 229.9,247.8 229.9,247.4 229.9,247.1 229.9,246.7 229.9,246.4 229.9,246.0 229.9,245.6 229.9,245.3 229.9,244.9 230.0,244.5 230.0,244.1 230.1,243.7 230.1,243.3 230.2,242.9 230.2,242.4 230.3,241.9 230.3,241.4 230.3,240.9 230.3,240.3 230.4,239.8 230.5,239.2 230.6,238.7 230.8,238.2 231.0,237.7 231.3,237.2 231.5,236.7 231.8,236.2 232.1,235.7 232.5,235.2 232.8,234.8 233.2,234.4 233.6,233.9 234.1,233.5 234.5,233.1 235.0,232.7 235.5,232.3 235.9,231.9 236.5,231.5 237.0,231.0 237.6,230.6 238.1,230.2 238.7,229.7 239.3,229.2 240.0,228.7 240.7,228.1 241.4,227.5 242.2,226.8 243.0,226.1 243.9,225.4 244.8,224.7 245.8,223.9 246.9,223.2 248.0,222.5 249.2,221.8 250.4,221.1 251.7,220.4 253.1,219.6 254.7,218.8 256.3,218.0 258.1,217.1 259.9,216.3 262.0,215.4 264.2,214.4 266.7,213.3 269.5,211.9 272.8,210.3 276.5,208.6 280.4,206.9 284.7,205.3 289.0,204.0 293.6,202.8 298.2,201.9 302.8,201.3 307.4,201.0 312.1,201.0 317.0,201.2 322.1,201.5 327.1,202.1 332.0,203.1 336.2,204.7 339.6,206.9 342.6,209.4 345.1,212.1 347.0,215.2 348.5,218.5 349.7,221.8 350.7,225.3 351.2,228.8 351.5,232.3 351.8,235.9 351.9,239.4 351.8,243.0 351.7,246.5 351.6,250.0 351.9,253.5 352.4,257.1 353.0,260.7 353.6,264.3 354.4,268.1 354.9,271.9 354.7,275.6 354.2,279.3 353.3,282.9 351.9,286.4 349.9,289.6 347.5,292.6 344.7,295.3 341.4,297.7 337.4,299.6 332.7,300.9 327.5,301.7 322.0,302.0 316.4,301.9 310.8,301.4 305.3,300.7 300.0,299.6 294.8,298.3 289.9,296.9 285.4,295.4 281.2,293.8 277.3,292.3 273.7,290.7 270.4,289.2 267.4,287.8 264.8,286.4 262.3,285.2 260.1,284.0 258.1,282.9 256.3,282.0 254.6,281.0 253.1,280.2 251.6,279.3 250.3,278.5 249.0,277.7 247.8,276.9 246.7,276.2 245.7,275.6 244.8,275.0 243.9,274.4 243.0,273.9 242.2,273.4 241.4,272.9 240.7,272.4 240.0,272.0 239.3,271.5 238.7,271.1 238.0,270.6 237.5,270.2 236.9,269.7 236.3,269.2 235.8,268.8 235.3,268.3 234.8,267.8 234.4,267.3 233.9,266.8 233.5,266.3 233.1,265.8 232.8,265.4 232.4,264.9 232.1,264.4 231.8,263.9 231.5,263.4 231.3,262.9 231.0,262.4 230.8,261.8 230.6,261.3 230.5,260.8 230.4,260.2 230.3,259.7 230.3,259.1 230.3,258.6 230.3,258.1 230.2,257.6 230.2,257.1 230.1,256.7 230.1,256.3 230.0,255.9 230.0,255.5 229.9,255.1 229.9,254.7 229.9,254.4 229.9,254.0 229.9,253.6 229.9,253.3 229.9,252.9 229.9,252.6 229.9,252.2 230.0,251.9 230.0,251.6 230.0,251.3 230.0,250.9 230.0,250.6 230.0,250.3Z" fill="#6bfbb4"/>
<path d="M230.1,250.0 230.1,249.7 230.1,249.4 230.1,249.1 230.1,248.7 230.0,248.4 230.0,248.1 230.0,247.8 230.0,247.4 230.0,247.1 230.0,246.7 230.0,246.4 230.0,246.0 230.0,245.7 230.0,245.3 230.0,244.9 230.0,244.5 230.1,244.1 230.1,243.7 230.2,243.3 230.3,242.9 230.3,242.5 230.3,242.0 230.4,241.5 230.4,241.0 230.4,240.4 230.5,239.9 230.6,239.3 230.7,238.8 230.9,238.3 231.1,237.8 231.4,237.3 231.6,236.8 231.9,236.4 232.2,235.9 232.6,235.4 232.9,235.0 233.3,234.6 233.7,234.1 234.1,233.7 234.6,233.3 235.0,232.9 235.5,232.5 236.0,232.1 236.5,231.7 237.0,231.3 237.6,230.8 238.1,230.4 238.7,229.9 239.4,229.5 240.0,228.9 240.7,228.4 241.4,227.8 242.2,227.1 243.0,226.5 243.8,225.8 244.7,225.2 245.7,224.5 246.7,223.8 247.8,223.1 248.9,222.5 250.2,221.8 251.5,221.1 252.8,220.3 254.3,219.5 255.9,218.7 257.6,217.9 259.4,217.1 261.4,216.3 263.5,215.4 265.9,214.4 268.5,213.2 271.6,211.8 275.0,210.3 278.8,208.7 282.7,207.3 286.9,206.0 291.1,204.9 295.5,204.1 299.9,203.6 304.2,203.3 308.7,203.3 313.2,203.5 318.0,203.9 322.6,204.6 327.2,205.6 331.3,207.1 334.6,209.1 337.6,211.4 340.0,214.0 341.9,216.9 343.5,219.9 344.8,223.1 345.8,226.3 346.5,229.7 346.9,233.1 347.2,236.5 347.4,239.8 347.4,243.2 347.4,246.6 347.3,250.0 347.5,253.4 347.9,256.8 348.4,260.2 348.9,263.8 349.6,267.4 349.9,271.0 349.5,274.5 348.9,278.0 347.9,281.4 346.4,284.6 344.3,287.6 342.0,290.4 339.2,292.9 335.8,295.1 332.0,296.9 327.5,298.1 322.7,298.9 317.6,299.3 312.4,299.2 307.1,298.8 301.9,298.0 296.8,297.0 292.0,295.8 287.3,294.4 283.0,293.0 279.1,291.7 275.5,290.3 272.2,288.9 269.1,287.6 266.4,286.3 263.8,285.1 261.5,283.9 259.4,282.8 257.5,281.9 255.8,280.9 254.2,280.1 252.7,279.3 251.3,278.5 250.0,277.7 248.7,276.9 247.6,276.2 246.6,275.6 245.6,274.9 244.6,274.4 243.8,273.8 243.0,273.4 242.2,272.9 241.4,272.4 240.7,272.0 240.0,271.6 239.3,271.2 238.7,270.7 238.1,270.3 237.5,269.9 236.9,269.4 236.4,269.0 235.9,268.5 235.4,268.0 234.9,267.5 234.5,267.1 234.0,266.6 233.6,266.1 233.2,265.6 232.9,265.1 232.5,264.7 232.2,264.2 231.9,263.7 231.6,263.2 231.4,262.7 231.1,262.2 230.9,261.7 230.7,261.2 230.6,260.7 230.5,260.1 230.4,259.6 230.4,259.0 230.4,258.5 230.3,258.0 230.3,257.5 230.3,257.1 230.2,256.7 230.1,256.3 230.1,255.9 230.0,255.5 230.0,255.1 230.0,254.7 230.0,254.3 230.0,254.0 230.0,253.6 230.0,253.3 230.0,252.9 230.0,252.6 230.0,252.2 230.0,251.9 230.0,251.6 230.1,251.3 230.1,250.9 230.1,250.6 230.1,250.3Z" fill="#6cfc9d"/>
<path d="M230.1,250.0 230.1,249.7 230.1,249.4 230.1,249.1 230.1,248.8 230.1,248.4 230.1,248.1 230.1,247.8 230.1,247.4 230.1,247.1 230.0,246.8 230.0,246.4 230.0,246.1 230.1,245.7 230.1,245.3 230.1,245.0 230.1,244.6 230.2,244.2 230.2,243.8 230.3,243.4 230.4,243.0 230.4,242.6 230.4,242.1 230.4,241.6 230.5,241.0 230.5,240.5 230.6,239.9 230.7,239.4 230.8,238.9 231.0,238.4 231.2,237.9 231.5,237.5 231.7,237.0 232.0,236.5 232.3,236.1 232.7,235.6 233.0,235.2 233.4,234.7 233.8,234.3 234.2,233.9 234.6,233.5 235.1,233.1 235.6,232.7 236.0,232.3 236.5,231.9 237.1,231.5 237.6,231.1 238.2,230.6 238.8,230.2 239.4,229.7 240.0,229.2 240.7,228.6 241.4,228.1 242.1,227.5 242.9,226.9 243.8,226.3 244.6,225.6 245.6,225.0 246.6,224.4 247.6,223.7 248.7,223.1 249.9,222.4 251.2,221.7 252.6,221.0 254.0,220.2 255.6,219.5 257.2,218.7 259.0,217.9 260.9,217.1 262.9,216.3 265.1,215.4 267.6,214.4 270.4,213.2 273.6,211.9 277.1,210.4 280.9,209.1 284.8,208.0 288.8,207.0 293.0,206.2 297.1,205.7 301.2,205.5 305.4,205.6 309.7,205.8 314.1,206.2 318.4,206.9 322.7,207.9 326.6,209.3 329.8,211.1 332.8,213.3 335.2,215.7 337.1,218.5 338.7,221.3 340.0,224.3 341.2,227.4 342.0,230.5 342.5,233.8 342.9,237.0 343.2,240.2 343.2,243.5 343.2,246.8 343.2,250.0 343.3,253.2 343.7,256.5 344.0,259.8 344.4,263.2 344.9,266.6 345.2,270.1 344.6,273.4 343.8,276.7 342.7,279.9 341.1,282.9 339.1,285.7 336.7,288.3 333.9,290.6 330.6,292.6 326.9,294.3 322.7,295.5 318.2,296.3 313.5,296.6 308.6,296.6 303.6,296.2 298.7,295.5 293.9,294.5 289.3,293.4 284.9,292.1 280.8,290.8 277.2,289.6 273.8,288.4 270.8,287.2 267.9,286.0 265.3,284.9 262.9,283.8 260.7,282.7 258.7,281.7 256.9,280.8 255.3,280.0 253.7,279.2 252.3,278.4 250.9,277.6 249.7,276.9 248.5,276.2 247.4,275.5 246.4,274.9 245.4,274.3 244.5,273.8 243.7,273.3 242.9,272.9 242.1,272.4 241.4,272.0 240.7,271.6 240.0,271.2 239.3,270.8 238.7,270.4 238.1,270.0 237.5,269.6 237.0,269.1 236.4,268.7 235.9,268.2 235.4,267.8 235.0,267.3 234.5,266.8 234.1,266.4 233.7,265.9 233.3,265.4 233.0,264.9 232.6,264.5 232.3,264.0 232.0,263.5 231.7,263.0 231.5,262.6 231.2,262.1 231.0,261.6 230.8,261.1 230.7,260.6 230.6,260.0 230.5,259.5 230.5,258.9 230.4,258.4 230.4,257.9 230.4,257.4 230.4,257.0 230.3,256.6 230.2,256.2 230.2,255.8 230.1,255.4 230.1,255.0 230.1,254.7 230.1,254.3 230.0,253.9 230.0,253.6 230.0,253.2 230.1,252.9 230.1,252.6 230.1,252.2 230.1,251.9 230.1,251.6 230.1,251.2 230.1,250.9 230.1,250.6 230.1,250.3Z" fill="#66fb7d"/>
<path d="M230.2,250.0 230.2,249.7 230.2,249.4 230.2,249.1 230.2,248.8 230.2,248.4 230.2,248.1 230.1,247.8 230.1,247.5 230.1,247.1 230.1,246.8 230.1,246.4 230.1,246.1 230.1,245.7 230.1,245.4 230.2,245.0 230.2,244.6 230.2,244.2 230.3,243.8 230.4,243.4 230.4,243.0 230.5,242.6 230.5,242.1 230.5,241.6 230.5,241.1 230.6,240.6 230.6,240.0 230.8,239.5 230.9,239.0 231.1,238.5 231.3,238.0 231.6,237.6 231.8,237.1 232.1,236.7 232.4,236.2 232.8,235.8 233.1,235.4 233.5,234.9 233.9,234.5 234.3,234.1 234.7,233.7 235.2,233.3 235.6,232.9 236.1,232.5 236.6,232.1 237.1,231.7 237.6,231.3 238.2,230.8 238.8,230.4 239.4,229.9 240.0,229.4 240.7,228.9 241.4,228.4 242.1,227.8 242.9,227.2 243.7,226.7 244.6,226.1 245.5,225.5 246.4,224.9 247.5,224.3 248.5,223.7 249.7,223.1 250.9,222.4 252.3,221.7 253.7,220.9 255.2,220.2 256.8,219.4 258.5,218.7 260.3,218.0 262.3,217.2 264.4,216.4 266.7,215.6 269.3,214.6 272.3,213.4 275.6,212.1 279.1,210.9 282.8,209.8 286.6,208.9 290.5,208.2 294.4,207.8 298.3,207.6 302.3,207.7 306.3,207.9 310.4,208.4 314.4,209.1 318.4,210.0 322.1,211.4 325.3,213.1 328.2,215.1 330.5,217.4 332.5,220.0 334.1,222.7 335.5,225.5 336.7,228.4 337.7,231.4 338.2,234.4 338.7,237.5 339.1,240.6 339.2,243.8 339.2,246.9 339.2,250.0 339.3,253.1 339.6,256.3 339.8,259.4 340.1,262.6 340.5,265.9 340.6,269.2 339.9,272.3 339.0,275.4 337.8,278.4 336.2,281.2 334.1,283.9 331.7,286.3 328.8,288.4 325.6,290.3 322.0,291.8 318.1,293.0 314.0,293.8 309.6,294.1 305.0,294.2 300.3,293.8 295.6,293.1 291.0,292.2 286.7,291.2 282.5,290.0 278.7,288.7 275.3,287.6 272.2,286.6 269.4,285.5 266.8,284.5 264.3,283.5 262.1,282.5 260.0,281.5 258.1,280.6 256.4,279.8 254.8,279.0 253.3,278.3 251.9,277.5 250.6,276.8 249.4,276.1 248.3,275.5 247.2,274.9 246.2,274.3 245.3,273.7 244.4,273.2 243.6,272.8 242.8,272.4 242.1,272.0 241.4,271.6 240.7,271.2 240.0,270.8 239.4,270.4 238.7,270.0 238.1,269.7 237.6,269.3 237.0,268.8 236.5,268.4 236.0,268.0 235.5,267.5 235.0,267.1 234.6,266.6 234.2,266.2 233.8,265.7 233.4,265.2 233.1,264.8 232.7,264.3 232.4,263.8 232.1,263.3 231.8,262.9 231.6,262.4 231.3,262.0 231.1,261.5 230.9,261.0 230.8,260.5 230.7,260.0 230.6,259.4 230.6,258.9 230.5,258.3 230.5,257.9 230.5,257.4 230.4,257.0 230.4,256.6 230.3,256.2 230.2,255.8 230.2,255.4 230.2,255.0 230.1,254.6 230.1,254.3 230.1,253.9 230.1,253.6 230.1,253.2 230.1,252.9 230.1,252.5 230.1,252.2 230.2,251.9 230.2,251.6 230.2,251.2 230.2,250.9 230.2,250.6 230.2,250.3Z" fill="#60fa5c"/>
<path d="M230.4,250.0 230.4,249.7 230.3,249.4 230.3,249.1 230.3,248.8 230.3,248.5 230.3,248.2 230.3,247.8 230.3,247.5 230.3,247.2 230.3,246.8 230.3,246.5 230.3,246.1 230.3,245.8 230.3,245.4 230.3,245.1 230.4,244.7 230.4,244.3 230.5,243.9 230.5,243.6 230.6,243.2 230.6,242.7 230.7,242.3 230.7,241.8 230.7,241.3 230.8,240.8 230.9,240.3 231.0,239.8 231.1,239.3 231.3,238.8 231.5,238.4 231.8,237.9 232.1,237.5 232.3,237.1 232.6,236.6 233.0,236.2 233.3,235.8 233.7,235.4 234.0,234.9 234.4,234.6 234.9,234.2 235.3,233.8 235.7,233.4 236.2,233.0 236.7,232.6 237.2,232.2 237.7,231.8 238.2,231.4 238.8,231.0 239.4,230.6 240.0,230.1 240.6,229.7 241.3,229.2 242.0,228.7 242.8,228.2 243.5,227.7 244.4,227.2 245.2,226.6 246.1,226.1 247.1,225.5 248.1,224.9 249.2,224.3 250.4,223.7 251.7,223.0 253.0,222.3 254.4,221.7 256.0,221.0 257.6,220.3 259.3,219.6 261.1,218.9 263.1,218.2 265.3,217.4 267.7,216.5 270.4,215.5 273.5,214.3 276.7,213.3 280.0,212.4 283.5,211.7 287.1,211.0 290.7,210.7 294.3,210.5 298.0,210.6 301.7,210.8 305.5,211.3 309.2,211.9 312.9,212.9 316.3,214.1 319.3,215.7 322.0,217.5 324.3,219.7 326.2,222.0 327.9,224.5 329.4,227.0 330.7,229.7 331.8,232.5 332.5,235.3 333.1,238.2 333.6,241.1 334.0,244.1 334.2,247.0 334.2,250.0 334.3,253.0 334.4,255.9 334.5,258.9 334.5,261.9 334.6,265.0 334.4,268.0 333.5,270.9 332.4,273.7 331.1,276.5 329.4,279.1 327.4,281.5 325.0,283.7 322.3,285.6 319.4,287.4 316.1,288.8 312.5,289.9 308.8,290.7 304.8,291.1 300.6,291.2 296.2,290.9 292.0,290.3 287.8,289.5 283.9,288.7 280.1,287.7 276.6,286.6 273.5,285.7 270.6,284.7 267.9,283.8 265.5,282.8 263.2,281.9 261.1,281.0 259.1,280.1 257.3,279.3 255.7,278.5 254.2,277.9 252.8,277.2 251.5,276.5 250.2,275.8 249.1,275.2 248.0,274.6 247.0,274.0 246.0,273.5 245.1,273.0 244.3,272.5 243.5,272.1 242.7,271.7 242.0,271.3 241.3,271.0 240.6,270.6 240.0,270.3 239.4,269.9 238.8,269.5 238.2,269.2 237.6,268.8 237.1,268.4 236.6,268.0 236.1,267.6 235.6,267.1 235.2,266.7 234.7,266.2 234.3,265.7 234.0,265.3 233.6,264.8 233.3,264.3 232.9,263.9 232.6,263.4 232.3,263.0 232.0,262.5 231.8,262.1 231.5,261.6 231.3,261.2 231.1,260.7 231.0,260.2 230.9,259.7 230.8,259.2 230.7,258.7 230.7,258.2 230.7,257.7 230.6,257.3 230.6,256.8 230.5,256.4 230.5,256.1 230.4,255.7 230.4,255.3 230.3,254.9 230.3,254.6 230.3,254.2 230.3,253.9 230.3,253.5 230.3,253.2 230.3,252.8 230.3,252.5 230.3,252.2 230.3,251.8 230.3,251.5 230.3,251.2 230.3,250.9 230.3,250.6 230.4,250.3Z" fill="#5efa44"/>
<path d="M230.5,250.0 230.5,249.7 230.5,249.4 230.5,249.1 230.5,248.8 230.5,248.5 230.5,248.2 230.4,247.9 230.4,247.5 230.4,247.2 230.4,246.9 230.4,246.6 230.4,246.2 230.4,245.9 230.5,245.5 230.5,245.2 230.5,244.8 230.6,244.4 230.6,244.1 230.7,243.7 230.8,243.3 230.8,242.9 230.9,242.4 230.9,242.0 230.9,241.5 231.0,241.0 231.1,240.5 231.2,240.0 231.3,239.5 231.5,239.1 231.8,238.7 232.0,238.2 232.3,237.8 232.5,237.4 232.8,237.0 233.2,236.6 233.5,236.2 233.8,235.8 234.2,235.4 234.6,235.0 235.0,234.6 235.4,234.2 235.9,233.8 236.3,233.5 236.8,233.1 237.3,232.7 237.8,232.4 238.3,232.0 238.8,231.6 239.4,231.2 240.0,230.8 240.6,230.4 241.3,230.0 241.9,229.5 242.6,229.1 243.4,228.6 244.2,228.2 245.0,227.7 245.9,227.2 246.8,226.7 247.8,226.1 248.8,225.6 249.9,225.0 251.1,224.3 252.4,223.7 253.7,223.1 255.2,222.4 256.7,221.8 258.3,221.2 260.0,220.5 261.9,219.9 263.9,219.1 266.2,218.3 268.7,217.4 271.5,216.5 274.4,215.6 277.4,214.9 280.6,214.2 283.9,213.7 287.2,213.4 290.6,213.2 294.0,213.3 297.5,213.5 301.0,213.9 304.4,214.6 307.8,215.5 310.8,216.7 313.7,218.1 316.2,219.8 318.5,221.7 320.4,223.9 322.2,226.1 323.7,228.5 325.1,231.0 326.2,233.5 327.1,236.2 327.9,238.9 328.5,241.6 329.0,244.4 329.3,247.2 329.5,250.0 329.5,252.8 329.5,255.6 329.5,258.5 329.3,261.3 329.1,264.1 328.6,266.9 327.5,269.6 326.3,272.2 324.9,274.7 323.2,277.0 321.1,279.2 318.8,281.2 316.3,283.0 313.6,284.6 310.5,285.9 307.3,287.0 303.9,287.8 300.3,288.3 296.5,288.4 292.5,288.1 288.6,287.7 284.8,287.0 281.2,286.3 277.8,285.5 274.6,284.6 271.7,283.8 269.0,282.9 266.5,282.1 264.2,281.2 262.1,280.4 260.1,279.5 258.2,278.8 256.6,278.0 255.0,277.4 253.6,276.7 252.3,276.1 251.0,275.5 249.9,274.9 248.8,274.3 247.7,273.8 246.8,273.2 245.8,272.7 245.0,272.3 244.2,271.9 243.4,271.5 242.7,271.1 242.0,270.7 241.3,270.4 240.6,270.1 240.0,269.7 239.4,269.4 238.8,269.1 238.2,268.7 237.7,268.3 237.2,268.0 236.7,267.6 236.2,267.1 235.7,266.7 235.3,266.2 234.9,265.8 234.5,265.3 234.1,264.8 233.8,264.4 233.5,263.9 233.1,263.5 232.8,263.0 232.5,262.6 232.3,262.2 232.0,261.8 231.8,261.3 231.5,260.9 231.3,260.5 231.2,260.0 231.1,259.5 231.0,259.0 230.9,258.5 230.9,258.0 230.9,257.6 230.8,257.1 230.8,256.7 230.7,256.3 230.6,255.9 230.6,255.6 230.5,255.2 230.5,254.8 230.5,254.5 230.4,254.1 230.4,253.8 230.4,253.4 230.4,253.1 230.4,252.8 230.4,252.5 230.4,252.1 230.5,251.8 230.5,251.5 230.5,251.2 230.5,250.9 230.5,250.6 230.5,250.3Z" fill="#5efa30"/>
<path d="M230.7,250.0 230.7,249.7 230.6,249.4 230.6,249.1 230.6,248.8 230.6,248.5 230.6,248.2 230.6,247.9 230.6,247.6 230.6,247.3 230.6,246.9 230.6,246.6 230.6,246.3 230.6,245.9 230.6,245.6 230.6,245.2 230.7,244.9 230.7,244.5 230.8,244.2 230.9,243.8 230.9,243.4 231.0,243.0 231.0,242.6 231.1,242.1 231.1,241.7 231.2,241.2 231.3,240.7 231.4,240.3 231.6,239.8 231.8,239.4 232.0,239.0 232.2,238.5 232.5,238.1 232.7,237.7 233.0,237.3 233.3,236.9 233.7,236.5 234.0,236.1 234.4,235.8 234.7,235.4 235.1,235.0 235.5,234.6 236.0,234.3 236.4,233.9 236.9,233.6 237.3,233.2 237.8,232.9 238.3,232.5 238.9,232.2 239.4,231.8 240.0,231.5 240.6,231.1 241.2,230.7 241.9,230.4 242.5,230.0 243.2,229.6 244.0,229.2 244.8,228.7 245.6,228.2 246.5,227.8 247.4,227.3 248.4,226.7 249.4,226.2 250.6,225.6 251.8,225.0 253.0,224.4 254.4,223.8 255.8,223.2 257.4,222.6 259.0,222.1 260.7,221.4 262.7,220.8 264.8,220.0 267.1,219.2 269.6,218.5 272.3,217.7 275.0,217.1 277.9,216.6 280.9,216.2 284.0,215.9 287.1,215.7 290.3,215.8 293.5,216.0 296.8,216.4 299.9,217.0 303.0,217.9 305.8,219.0 308.4,220.4 310.9,221.9 313.1,223.7 315.0,225.6 316.8,227.7 318.4,229.9 319.8,232.2 321.0,234.5 322.1,237.0 322.9,239.5 323.7,242.1 324.3,244.7 324.8,247.3 325.1,250.0 325.0,252.7 324.9,255.3 324.7,258.0 324.4,260.7 323.9,263.3 323.1,265.9 321.9,268.3 320.6,270.7 319.1,273.0 317.3,275.1 315.3,277.1 313.1,278.9 310.7,280.6 308.2,282.1 305.4,283.3 302.5,284.3 299.4,285.1 296.1,285.6 292.7,285.8 289.0,285.6 285.4,285.2 282.0,284.7 278.7,284.1 275.6,283.5 272.7,282.7 270.1,282.0 267.6,281.3 265.2,280.5 263.0,279.7 261.0,278.9 259.1,278.2 257.4,277.5 255.9,276.8 254.4,276.3 253.1,275.7 251.8,275.1 250.6,274.5 249.5,274.0 248.4,273.5 247.5,272.9 246.5,272.5 245.7,272.0 244.8,271.6 244.0,271.2 243.3,270.8 242.6,270.5 241.9,270.2 241.2,269.9 240.6,269.5 240.0,269.2 239.4,268.9 238.8,268.6 238.3,268.2 237.7,267.9 237.2,267.5 236.7,267.1 236.3,266.7 235.8,266.3 235.4,265.9 235.0,265.4 234.6,264.9 234.3,264.4 234.0,264.0 233.6,263.5 233.3,263.1 233.0,262.7 232.8,262.3 232.5,261.9 232.2,261.5 232.0,261.0 231.8,260.6 231.6,260.2 231.4,259.7 231.3,259.3 231.2,258.8 231.1,258.3 231.1,257.9 231.0,257.4 231.0,257.0 230.9,256.6 230.9,256.2 230.8,255.8 230.7,255.5 230.7,255.1 230.6,254.8 230.6,254.4 230.6,254.1 230.6,253.7 230.6,253.4 230.6,253.1 230.6,252.7 230.6,252.4 230.6,252.1 230.6,251.8 230.6,251.5 230.6,251.2 230.6,250.9 230.6,250.6 230.7,250.3Z" fill="#60f823"/>
<path d="M230.8,250.0 230.8,249.7 230.8,249.4 230.8,249.1 230.8,248.8 230.8,248.5 230.8,248.2 230.7,247.9 230.7,247.6 230.7,247.3 230.7,247.0 230.7,246.7 230.7,246.3 230.7,246.0 230.8,245.7 230.8,245.3 230.8,245.0 230.9,244.6 230.9,244.3 231.0,243.9 231.1,243.5 231.1,243.1 231.2,242.7 231.2,242.3 231.3,241.8 231.4,241.4 231.5,240.9 231.6,240.5 231.8,240.1 232.0,239.6 232.2,239.2 232.4,238.8 232.7,238.5 232.9,238.1 233.2,237.7 233.5,237.3 233.8,236.9 234.2,236.5 234.5,236.1 234.9,235.8 235.3,235.4 235.7,235.1 236.1,234.7 236.5,234.4 237.0,234.0 237.4,233.7 237.9,233.4 238.4,233.1 238.9,232.8 239.4,232.4 240.0,232.1 240.6,231.8 241.2,231.5 241.8,231.1 242.4,230.8 243.1,230.5 243.8,230.1 244.5,229.7 245.3,229.3 246.2,228.8 247.0,228.3 248.0,227.8 249.0,227.3 250.1,226.8 251.2,226.2 252.4,225.7 253.7,225.1 255.0,224.6 256.5,224.0 258.0,223.5 259.7,222.9 261.5,222.3 263.5,221.6 265.6,221.0 267.9,220.3 270.2,219.8 272.7,219.3 275.4,218.8 278.1,218.5 281.0,218.2 283.9,218.1 286.8,218.2 289.8,218.4 292.8,218.7 295.8,219.3 298.5,220.2 301.1,221.2 303.6,222.5 305.9,223.9 308.0,225.5 309.9,227.3 311.7,229.2 313.4,231.2 314.9,233.3 316.2,235.5 317.3,237.8 318.3,240.1 319.1,242.5 319.8,245.0 320.5,247.5 320.8,250.0 320.7,252.5 320.5,255.1 320.2,257.6 319.8,260.1 319.0,262.5 318.0,264.9 316.7,267.1 315.2,269.3 313.7,271.4 311.9,273.4 309.9,275.2 307.8,276.8 305.5,278.4 303.2,279.7 300.6,280.9 298.0,281.9 295.2,282.6 292.3,283.2 289.1,283.4 285.7,283.2 282.4,282.9 279.3,282.5 276.4,282.1 273.6,281.5 270.9,280.9 268.5,280.3 266.2,279.7 264.0,279.0 261.9,278.3 260.0,277.5 258.3,276.9 256.7,276.2 255.2,275.7 253.8,275.2 252.6,274.6 251.3,274.1 250.2,273.6 249.1,273.1 248.1,272.6 247.2,272.2 246.3,271.7 245.5,271.3 244.7,270.9 243.9,270.6 243.2,270.2 242.5,269.9 241.9,269.6 241.2,269.3 240.6,269.0 240.0,268.7 239.4,268.4 238.9,268.1 238.3,267.8 237.8,267.5 237.3,267.1 236.8,266.7 236.3,266.3 235.9,265.9 235.5,265.5 235.1,265.0 234.8,264.5 234.4,264.0 234.1,263.6 233.8,263.1 233.5,262.7 233.2,262.3 233.0,261.9 232.7,261.5 232.4,261.1 232.2,260.8 232.0,260.4 231.8,259.9 231.6,259.5 231.5,259.1 231.4,258.6 231.3,258.2 231.2,257.7 231.2,257.3 231.1,256.9 231.1,256.5 231.0,256.1 230.9,255.7 230.9,255.4 230.8,255.0 230.8,254.7 230.8,254.3 230.7,254.0 230.7,253.7 230.7,253.3 230.7,253.0 230.7,252.7 230.7,252.4 230.7,252.1 230.8,251.8 230.8,251.5 230.8,251.2 230.8,250.9 230.8,250.6 230.8,250.3Z" fill="#63f81b"/>
<path d="M231.0,250.0 231.0,249.7 231.0,249.4 231.0,249.1 231.0,248.9 230.9,248.6 230.9,248.3 230.9,248.0 230.9,247.7 230.9,247.4 230.9,247.1 230.9,246.7 230.9,246.4 231.0,246.1 231.0,245.8 231.0,245.4 231.1,245.1 231.1,244.7 231.2,244.4 231.2,244.1 231.3,243.7 231.4,243.3 231.4,242.9 231.5,242.5 231.6,242.1 231.7,241.7 231.8,241.2 231.9,240.8 232.1,240.4 232.2,240.0 232.4,239.6 232.7,239.2 232.9,238.8 233.2,238.4 233.4,238.0 233.7,237.6 234.0,237.2 234.3,236.8 234.6,236.5 235.0,236.1 235.4,235.7 235.7,235.3 236.1,235.0 236.6,234.6 237.0,234.3 237.5,233.9 237.9,233.6 238.4,233.2 238.9,232.9 239.5,232.5 240.0,232.2 240.6,231.9 241.2,231.5 241.8,231.2 242.4,230.8 243.1,230.5 243.8,230.2 244.5,229.8 245.3,229.4 246.1,229.0 247.0,228.6 247.9,228.1 248.8,227.7 249.8,227.3 250.9,226.8 252.0,226.4 253.2,225.9 254.5,225.5 255.9,225.0 257.3,224.6 258.8,224.1 260.4,223.6 262.2,223.1 264.2,222.6 266.2,222.1 268.4,221.6 270.7,221.2 273.0,220.9 275.6,220.6 278.1,220.4 280.8,220.4 283.4,220.5 286.2,220.7 288.9,221.1 291.7,221.6 294.3,222.3 296.9,223.2 299.4,224.3 301.6,225.6 303.7,227.1 305.6,228.7 307.4,230.4 309.0,232.3 310.5,234.2 311.8,236.3 312.9,238.5 313.8,240.7 314.6,242.9 315.2,245.3 315.8,247.6 316.1,250.0 316.0,252.4 315.8,254.8 315.4,257.1 314.9,259.5 314.2,261.7 313.1,263.9 311.8,266.0 310.3,268.0 308.7,270.0 306.9,271.8 305.0,273.4 302.8,274.9 300.6,276.2 298.3,277.4 295.9,278.5 293.4,279.3 290.7,280.0 288.0,280.5 285.2,280.7 282.2,280.6 279.1,280.4 276.3,280.0 273.6,279.6 271.1,279.2 268.7,278.7 266.4,278.2 264.4,277.6 262.4,277.0 260.5,276.4 258.8,275.8 257.2,275.2 255.7,274.7 254.3,274.2 253.0,273.7 251.8,273.3 250.7,272.8 249.7,272.3 248.7,271.9 247.7,271.4 246.8,271.0 246.0,270.6 245.2,270.2 244.4,269.9 243.7,269.6 243.0,269.2 242.4,268.9 241.8,268.6 241.2,268.3 240.6,268.0 240.0,267.8 239.5,267.5 238.9,267.2 238.4,266.8 237.9,266.5 237.4,266.2 237.0,265.8 236.5,265.4 236.1,265.0 235.7,264.6 235.4,264.2 235.0,263.8 234.7,263.3 234.4,262.9 234.1,262.5 233.8,262.1 233.5,261.8 233.3,261.4 233.0,261.0 232.7,260.7 232.5,260.3 232.3,259.9 232.1,259.6 231.9,259.1 231.8,258.7 231.7,258.3 231.6,257.9 231.5,257.5 231.5,257.1 231.4,256.7 231.3,256.3 231.2,255.9 231.2,255.6 231.1,255.3 231.1,254.9 231.0,254.6 231.0,254.2 231.0,253.9 230.9,253.6 230.9,253.3 230.9,253.0 230.9,252.6 230.9,252.3 230.9,252.0 230.9,251.7 230.9,251.4 231.0,251.1 231.0,250.9 231.0,250.6 231.0,250.3Z" fill="#64f81a"/>
<path d="M231.2,250.0 231.2,249.7 231.2,249.4 231.1,249.2 231.1,248.9 231.1,248.6 231.1,248.3 231.1,248.0 231.1,247.7 231.1,247.4 231.1,247.1 231.1,246.8 231.1,246.5 231.2,246.2 231.2,245.9 231.2,245.5 231.3,245.2 231.3,244.9 231.4,244.5 231.5,244.2 231.5,243.9 231.6,243.5 231.7,243.1 231.8,242.7 231.9,242.3 231.9,241.9 232.1,241.5 232.2,241.1 232.3,240.7 232.5,240.3 232.7,239.9 232.9,239.5 233.1,239.2 233.4,238.8 233.6,238.4 233.9,238.0 234.1,237.6 234.4,237.2 234.8,236.8 235.1,236.4 235.4,236.0 235.8,235.6 236.2,235.2 236.6,234.8 237.0,234.5 237.5,234.1 237.9,233.7 238.4,233.4 238.9,233.0 239.5,232.6 240.0,232.3 240.6,231.9 241.2,231.6 241.8,231.2 242.4,230.9 243.1,230.6 243.8,230.2 244.5,229.9 245.3,229.5 246.0,229.2 246.9,228.8 247.8,228.5 248.7,228.1 249.6,227.7 250.6,227.4 251.7,227.0 252.8,226.7 254.0,226.3 255.3,226.0 256.6,225.6 257.9,225.3 259.5,224.9 261.1,224.5 262.8,224.1 264.7,223.7 266.7,223.3 268.7,223.0 270.9,222.8 273.2,222.6 275.5,222.5 277.8,222.5 280.3,222.6 282.8,222.9 285.3,223.2 287.9,223.7 290.4,224.3 293.0,225.1 295.4,226.0 297.6,227.2 299.6,228.5 301.5,230.0 303.3,231.6 304.9,233.3 306.3,235.2 307.7,237.1 308.8,239.1 309.7,241.2 310.4,243.3 311.0,245.5 311.4,247.8 311.6,250.0 311.5,252.2 311.3,254.5 310.9,256.7 310.4,258.9 309.6,261.0 308.5,263.1 307.2,265.0 305.7,266.9 304.1,268.6 302.3,270.3 300.4,271.7 298.2,273.1 296.0,274.3 293.8,275.3 291.5,276.2 289.1,277.0 286.6,277.6 284.1,278.0 281.6,278.2 278.8,278.2 276.1,278.0 273.6,277.8 271.1,277.4 268.8,277.0 266.6,276.6 264.5,276.1 262.7,275.7 260.9,275.2 259.2,274.7 257.6,274.2 256.1,273.7 254.8,273.3 253.5,272.8 252.3,272.4 251.2,271.9 250.1,271.5 249.1,271.1 248.2,270.7 247.3,270.3 246.5,269.9 245.7,269.6 244.9,269.2 244.2,268.9 243.5,268.6 242.9,268.3 242.3,268.0 241.7,267.7 241.1,267.4 240.5,267.1 240.0,266.8 239.5,266.5 239.0,266.2 238.5,265.9 238.0,265.6 237.6,265.3 237.2,264.9 236.7,264.6 236.3,264.2 236.0,263.8 235.6,263.5 235.3,263.1 235.0,262.7 234.7,262.3 234.4,261.9 234.1,261.6 233.8,261.2 233.5,260.9 233.3,260.6 233.0,260.2 232.8,259.9 232.6,259.5 232.4,259.2 232.2,258.8 232.1,258.4 232.0,258.0 231.9,257.6 231.8,257.2 231.7,256.9 231.6,256.5 231.6,256.1 231.5,255.8 231.4,255.5 231.3,255.1 231.3,254.8 231.2,254.5 231.2,254.1 231.2,253.8 231.1,253.5 231.1,253.2 231.1,252.9 231.1,252.6 231.1,252.3 231.1,252.0 231.1,251.7 231.1,251.4 231.1,251.1 231.1,250.8 231.2,250.6 231.2,250.3Z" fill="#67f819"/>
<path d="M231.3,250.0 231.3,249.7 231.3,249.5 231.3,249.2 231.3,248.9 231.3,248.6 231.3,248.3 231.3,248.1 231.3,247.8 231.3,247.5 231.3,247.2 231.3,246.9 231.3,246.6 231.4,246.3 231.4,246.0 231.4,245.6 231.5,245.3 231.5,245.0 231.6,244.7 231.7,244.4 231.8,244.0 231.9,243.7 231.9,243.3 232.0,243.0 232.1,242.6 232.2,242.2 232.3,241.8 232.4,241.4 232.6,241.0 232.7,240.7 232.9,240.3 233.1,239.9 233.3,239.5 233.6,239.1 233.8,238.7 234.0,238.3 234.3,237.9 234.6,237.5 234.9,237.1 235.2,236.7 235.5,236.3 235.9,235.9 236.3,235.5 236.7,235.1 237.1,234.7 237.5,234.3 238.0,233.9 238.4,233.5 238.9,233.1 239.5,232.7 240.0,232.4 240.6,232.0 241.2,231.6 241.8,231.3 242.4,231.0 243.1,230.6 243.8,230.3 244.5,230.0 245.2,229.7 246.0,229.4 246.8,229.1 247.6,228.8 248.5,228.5 249.4,228.2 250.4,227.9 251.4,227.7 252.4,227.4 253.5,227.1 254.7,226.9 255.9,226.6 257.1,226.4 258.5,226.1 260.0,225.8 261.6,225.5 263.3,225.2 265.1,224.9 266.9,224.7 268.9,224.5 270.9,224.4 273.0,224.4 275.1,224.5 277.3,224.6 279.6,224.9 281.9,225.2 284.3,225.6 286.8,226.2 289.4,226.8 291.7,227.6 293.8,228.7 295.8,229.9 297.7,231.3 299.4,232.7 301.0,234.3 302.4,236.0 303.8,237.8 304.9,239.7 305.8,241.7 306.4,243.7 306.9,245.8 307.3,247.9 307.4,250.0 307.3,252.1 307.1,254.2 306.6,256.3 306.1,258.3 305.3,260.3 304.2,262.2 302.9,264.1 301.4,265.8 299.8,267.4 298.0,268.9 296.1,270.2 294.0,271.4 291.8,272.4 289.7,273.4 287.5,274.2 285.2,274.8 282.9,275.4 280.6,275.7 278.2,276.0 275.8,276.0 273.4,275.9 271.0,275.6 268.7,275.3 266.6,275.0 264.6,274.6 262.8,274.3 261.1,273.9 259.5,273.5 258.0,273.1 256.5,272.7 255.2,272.3 253.9,271.9 252.7,271.5 251.6,271.1 250.6,270.7 249.6,270.3 248.6,270.0 247.8,269.6 246.9,269.2 246.1,268.9 245.4,268.6 244.7,268.3 244.0,268.0 243.4,267.7 242.8,267.4 242.2,267.1 241.6,266.8 241.0,266.5 240.5,266.3 240.0,266.0 239.5,265.7 239.0,265.4 238.6,265.1 238.1,264.8 237.7,264.4 237.3,264.1 236.9,263.8 236.5,263.4 236.2,263.1 235.9,262.8 235.5,262.4 235.2,262.1 234.9,261.7 234.6,261.4 234.4,261.1 234.1,260.8 233.8,260.4 233.6,260.1 233.3,259.8 233.1,259.5 232.9,259.2 232.7,258.8 232.5,258.5 232.4,258.1 232.3,257.7 232.1,257.4 232.0,257.0 231.9,256.7 231.9,256.3 231.8,256.0 231.7,255.6 231.6,255.3 231.5,255.0 231.5,254.7 231.4,254.4 231.4,254.1 231.4,253.7 231.3,253.4 231.3,253.1 231.3,252.8 231.3,252.5 231.3,252.2 231.3,251.9 231.3,251.7 231.3,251.4 231.3,251.1 231.3,250.8 231.3,250.5 231.3,250.3Z" fill="#71f819"/>
<path d="M231.5,250.0 231.5,249.7 231.5,249.5 231.5,249.2 231.5,248.9 231.5,248.7 231.5,248.4 231.5,248.1 231.5,247.8 231.5,247.5 231.5,247.2 231.5,246.9 231.5,246.6 231.6,246.3 231.6,246.0 231.6,245.7 231.7,245.4 231.7,245.1 231.8,244.8 231.9,244.5 232.0,244.2 232.1,243.9 232.2,243.5 232.3,243.2 232.4,242.8 232.5,242.5 232.6,242.1 232.7,241.7 232.8,241.3 233.0,241.0 233.2,240.6 233.3,240.2 233.5,239.8 233.7,239.4 234.0,239.0 234.2,238.6 234.4,238.2 234.7,237.8 235.0,237.4 235.3,236.9 235.6,236.5 236.0,236.1 236.3,235.7 236.7,235.3 237.1,234.9 237.5,234.5 238.0,234.1 238.5,233.6 238.9,233.2 239.5,232.9 240.0,232.5 240.6,232.1 241.2,231.7 241.8,231.3 242.4,231.0 243.1,230.7 243.7,230.4 244.5,230.1 245.2,229.8 245.9,229.6 246.7,229.3 247.5,229.1 248.4,228.9 249.2,228.7 250.1,228.5 251.1,228.3 252.0,228.1 253.1,227.9 254.1,227.8 255.2,227.6 256.4,227.4 257.6,227.3 259.0,227.1 260.4,226.9 261.9,226.7 263.5,226.5 265.2,226.3 267.0,226.2 268.8,226.2 270.7,226.2 272.6,226.3 274.6,226.5 276.7,226.7 278.8,227.0 281.1,227.4 283.4,227.9 286.0,228.4 288.3,229.1 290.3,230.1 292.3,231.2 294.1,232.4 295.8,233.8 297.3,235.3 298.8,236.9 300.1,238.5 301.2,240.3 302.1,242.2 302.6,244.1 303.1,246.0 303.4,248.0 303.5,250.0 303.4,252.0 303.1,254.0 302.6,255.9 302.1,257.8 301.3,259.7 300.2,261.5 298.8,263.2 297.3,264.7 295.8,266.2 294.0,267.6 292.1,268.8 290.0,269.8 287.9,270.7 285.8,271.6 283.7,272.3 281.6,272.9 279.4,273.3 277.3,273.7 275.2,273.9 273.0,274.0 270.8,273.9 268.6,273.7 266.6,273.4 264.6,273.1 262.8,272.8 261.2,272.5 259.6,272.3 258.2,272.0 256.8,271.7 255.5,271.3 254.3,271.0 253.1,270.6 252.0,270.3 250.9,269.9 250.0,269.5 249.0,269.2 248.2,268.9 247.3,268.5 246.6,268.2 245.8,267.9 245.1,267.6 244.5,267.4 243.8,267.1 243.2,266.8 242.6,266.5 242.1,266.3 241.5,266.0 241.0,265.7 240.5,265.4 240.0,265.1 239.5,264.9 239.1,264.6 238.7,264.3 238.2,264.0 237.8,263.6 237.5,263.3 237.1,263.0 236.7,262.7 236.4,262.4 236.1,262.1 235.8,261.8 235.5,261.5 235.2,261.2 234.9,260.9 234.6,260.6 234.3,260.3 234.1,260.0 233.8,259.7 233.6,259.4 233.4,259.1 233.2,258.8 233.0,258.5 232.8,258.1 232.7,257.8 232.5,257.5 232.4,257.1 232.3,256.8 232.2,256.5 232.1,256.1 232.0,255.8 231.9,255.5 231.8,255.2 231.7,254.9 231.7,254.6 231.6,254.3 231.6,254.0 231.5,253.7 231.5,253.4 231.5,253.1 231.5,252.8 231.5,252.5 231.5,252.2 231.5,251.9 231.5,251.6 231.5,251.3 231.5,251.1 231.5,250.8 231.5,250.5 231.5,250.3Z" fill="#7ff819"/>
<path d="M231.7,250.0 231.7,249.7 231.7,249.5 231.7,249.2 231.7,248.9 231.7,248.7 231.7,248.4 231.7,248.1 231.7,247.9 231.7,247.6 231.7,247.3 231.7,247.0 231.7,246.7 231.7,246.4 231.8,246.1 231.8,245.8 231.9,245.5 231.9,245.2 232.0,244.9 232.1,244.6 232.2,244.3 232.3,244.0 232.3,243.7 232.4,243.3 232.5,243.0 232.6,242.6 232.7,242.3 232.9,241.9 233.0,241.5 233.2,241.2 233.3,240.8 233.5,240.4 233.7,240.1 233.9,239.7 234.1,239.3 234.4,238.9 234.6,238.6 234.9,238.2 235.2,237.8 235.5,237.4 235.8,237.0 236.1,236.7 236.5,236.3 236.9,235.9 237.2,235.6 237.7,235.2 238.1,234.8 238.5,234.5 239.0,234.1 239.5,233.8 240.0,233.5 240.5,233.1 241.1,232.8 241.7,232.5 242.2,232.2 242.9,232.0 243.5,231.7 244.1,231.5 244.8,231.2 245.5,231.0 246.2,230.8 247.0,230.6 247.7,230.4 248.5,230.2 249.4,230.1 250.2,229.9 251.1,229.7 252.1,229.6 253.1,229.4 254.1,229.2 255.2,229.1 256.4,228.9 257.6,228.7 258.9,228.6 260.3,228.4 261.8,228.2 263.3,228.1 264.9,228.1 266.6,228.0 268.3,228.1 270.0,228.2 271.8,228.4 273.7,228.6 275.6,228.9 277.6,229.3 279.6,229.8 281.8,230.3 283.8,231.0 285.7,231.9 287.4,232.9 289.1,234.1 290.6,235.3 292.1,236.6 293.4,238.1 294.6,239.6 295.7,241.2 296.6,242.9 297.2,244.6 297.7,246.4 298.1,248.2 298.2,250.0 298.1,251.8 297.8,253.6 297.3,255.4 296.7,257.2 296.0,258.9 295.0,260.5 293.8,262.0 292.4,263.5 290.9,264.8 289.3,266.0 287.5,267.1 285.6,268.1 283.7,268.9 281.8,269.7 279.9,270.3 277.9,270.8 275.9,271.2 273.9,271.5 272.0,271.7 270.1,271.8 268.1,271.8 266.2,271.7 264.4,271.5 262.7,271.3 261.0,271.0 259.5,270.8 258.1,270.6 256.8,270.3 255.5,270.0 254.4,269.8 253.2,269.5 252.2,269.2 251.2,268.9 250.2,268.6 249.3,268.3 248.5,268.0 247.7,267.7 246.9,267.4 246.2,267.2 245.5,266.9 244.8,266.7 244.2,266.4 243.6,266.2 243.0,265.9 242.5,265.7 242.0,265.5 241.4,265.2 240.9,265.0 240.5,264.7 240.0,264.4 239.6,264.2 239.1,263.9 238.7,263.6 238.3,263.4 237.9,263.1 237.6,262.8 237.2,262.5 236.9,262.2 236.5,261.9 236.2,261.7 235.9,261.4 235.6,261.1 235.3,260.8 235.1,260.5 234.8,260.2 234.5,260.0 234.3,259.7 234.0,259.4 233.8,259.1 233.6,258.8 233.4,258.5 233.2,258.2 233.0,257.9 232.9,257.6 232.7,257.3 232.6,256.9 232.5,256.6 232.4,256.3 232.3,256.0 232.2,255.7 232.1,255.4 232.0,255.1 232.0,254.8 231.9,254.5 231.8,254.2 231.8,253.9 231.7,253.6 231.7,253.3 231.7,253.0 231.7,252.7 231.7,252.4 231.7,252.1 231.7,251.9 231.7,251.6 231.7,251.3 231.7,251.1 231.7,250.8 231.7,250.5 231.7,250.3Z" fill="#92fa19"/>
<path d="M231.9,250.0 231.9,249.7 231.9,249.5 231.9,249.2 231.8,249.0 231.8,248.7 231.8,248.4 231.8,248.2 231.8,247.9 231.9,247.6 231.9,247.4 231.9,247.1 231.9,246.8 231.9,246.5 232.0,246.2 232.0,245.9 232.1,245.6 232.1,245.3 232.2,245.0 232.3,244.7 232.3,244.4 232.4,244.1 232.5,243.8 232.6,243.5 232.7,243.1 232.8,242.8 232.9,242.4 233.0,242.1 233.2,241.7 233.3,241.4 233.5,241.0 233.7,240.7 233.8,240.3 234.1,240.0 234.3,239.6 234.5,239.3 234.8,238.9 235.0,238.6 235.3,238.2 235.6,237.9 235.9,237.5 236.3,237.2 236.6,236.9 237.0,236.5 237.4,236.2 237.8,235.9 238.2,235.6 238.6,235.3 239.1,235.0 239.5,234.7 240.0,234.4 240.5,234.1 241.0,233.9 241.5,233.6 242.1,233.4 242.7,233.2 243.2,233.0 243.9,232.8 244.5,232.6 245.1,232.4 245.8,232.2 246.5,232.0 247.2,231.9 247.9,231.7 248.7,231.6 249.5,231.4 250.3,231.2 251.2,231.1 252.1,230.9 253.1,230.7 254.1,230.6 255.2,230.4 256.3,230.3 257.5,230.1 258.8,230.0 260.1,229.9 261.5,229.8 262.9,229.8 264.5,229.7 266.1,229.8 267.7,229.9 269.3,230.1 271.0,230.4 272.7,230.7 274.4,231.1 276.2,231.6 278.0,232.1 279.8,232.8 281.4,233.6 283.0,234.5 284.6,235.5 286.0,236.6 287.3,237.9 288.5,239.2 289.6,240.5 290.7,242.0 291.6,243.5 292.3,245.1 292.8,246.7 293.2,248.3 293.3,250.0 293.2,251.7 292.9,253.3 292.5,255.0 291.9,256.6 291.2,258.1 290.3,259.6 289.2,261.0 287.9,262.3 286.5,263.5 285.0,264.6 283.3,265.6 281.6,266.5 279.9,267.3 278.1,267.9 276.3,268.5 274.5,269.0 272.7,269.3 270.9,269.6 269.1,269.8 267.4,269.9 265.7,269.9 264.0,269.9 262.4,269.8 260.9,269.6 259.4,269.4 258.0,269.2 256.8,269.0 255.5,268.8 254.4,268.6 253.3,268.3 252.3,268.0 251.3,267.8 250.4,267.5 249.5,267.3 248.7,267.1 247.9,266.9 247.2,266.6 246.5,266.4 245.8,266.2 245.2,266.0 244.6,265.8 244.0,265.6 243.4,265.3 242.9,265.1 242.4,264.9 241.9,264.7 241.4,264.5 240.9,264.2 240.4,264.0 240.0,263.8 239.6,263.5 239.2,263.3 238.8,263.0 238.4,262.8 238.0,262.5 237.7,262.3 237.3,262.0 237.0,261.8 236.7,261.5 236.3,261.2 236.0,261.0 235.8,260.7 235.5,260.4 235.2,260.2 235.0,259.9 234.7,259.6 234.5,259.4 234.2,259.1 234.0,258.8 233.8,258.5 233.6,258.3 233.4,258.0 233.2,257.7 233.1,257.4 232.9,257.1 232.8,256.7 232.7,256.4 232.6,256.1 232.5,255.8 232.4,255.5 232.3,255.2 232.2,254.9 232.2,254.6 232.1,254.3 232.0,254.1 232.0,253.8 231.9,253.5 231.9,253.2 231.9,252.9 231.9,252.6 231.9,252.4 231.9,252.1 231.8,251.8 231.8,251.6 231.8,251.3 231.8,251.0 231.9,250.8 231.9,250.5 231.9,250.3Z" fill="#a8fa1a"/>
<path d="M232.0,250.0 232.0,249.7 232.0,249.5 232.0,249.2 232.0,249.0 232.0,248.7 232.0,248.5 232.0,248.2 232.0,248.0 232.0,247.7 232.0,247.4 232.1,247.1 232.1,246.9 232.1,246.6 232.1,246.3 232.2,246.0 232.2,245.7 232.3,245.4 232.4,245.1 232.4,244.9 232.5,244.6 232.6,244.3 232.7,243.9 232.8,243.6 232.9,243.3 233.0,243.0 233.1,242.6 233.2,242.3 233.3,241.9 233.5,241.6 233.6,241.2 233.8,240.9 234.0,240.5 234.2,240.2 234.4,239.9 234.7,239.6 234.9,239.2 235.2,238.9 235.5,238.6 235.8,238.3 236.1,238.0 236.4,237.7 236.8,237.4 237.1,237.1 237.5,236.8 237.9,236.6 238.3,236.3 238.7,236.0 239.1,235.8 239.5,235.5 240.0,235.3 240.5,235.1 241.0,234.9 241.4,234.7 242.0,234.5 242.5,234.3 243.0,234.1 243.6,234.0 244.2,233.8 244.7,233.7 245.4,233.5 246.0,233.4 246.6,233.2 247.3,233.1 248.0,232.9 248.8,232.8 249.6,232.6 250.4,232.5 251.2,232.3 252.1,232.2 253.1,232.0 254.1,231.9 255.1,231.7 256.2,231.6 257.4,231.5 258.6,231.4 259.8,231.4 261.2,231.3 262.6,231.3 264.0,231.4 265.5,231.5 267.0,231.7 268.4,231.9 270.0,232.3 271.5,232.7 273.0,233.2 274.6,233.7 276.1,234.4 277.6,235.1 279.0,235.9 280.4,236.9 281.8,237.9 283.0,239.0 284.1,240.1 285.1,241.4 286.1,242.7 287.0,244.1 287.7,245.5 288.3,247.0 288.7,248.5 288.9,250.0 288.8,251.5 288.5,253.0 288.0,254.5 287.4,256.0 286.7,257.4 285.9,258.8 285.0,260.1 283.8,261.2 282.5,262.3 281.0,263.3 279.5,264.2 277.9,265.0 276.4,265.7 274.8,266.4 273.1,266.9 271.4,267.3 269.8,267.6 268.1,267.8 266.5,268.0 265.0,268.1 263.5,268.2 262.0,268.2 260.6,268.2 259.2,268.1 257.9,267.9 256.7,267.8 255.5,267.6 254.4,267.4 253.3,267.2 252.3,267.0 251.4,266.7 250.5,266.5 249.7,266.3 248.9,266.1 248.1,266.0 247.4,265.8 246.8,265.6 246.1,265.4 245.5,265.3 244.9,265.1 244.3,264.9 243.8,264.7 243.2,264.5 242.7,264.3 242.2,264.1 241.8,264.0 241.3,263.8 240.9,263.6 240.4,263.3 240.0,263.1 239.6,262.9 239.2,262.7 238.8,262.5 238.5,262.2 238.1,262.0 237.8,261.8 237.4,261.6 237.1,261.3 236.8,261.1 236.5,260.8 236.2,260.6 235.9,260.3 235.6,260.1 235.4,259.8 235.1,259.6 234.9,259.3 234.6,259.1 234.4,258.8 234.2,258.5 234.0,258.3 233.8,258.0 233.6,257.7 233.4,257.4 233.3,257.2 233.1,256.9 233.0,256.6 232.9,256.3 232.8,256.0 232.7,255.7 232.6,255.4 232.5,255.1 232.4,254.8 232.4,254.5 232.3,254.2 232.2,254.0 232.2,253.7 232.1,253.4 232.1,253.1 232.1,252.9 232.1,252.6 232.0,252.3 232.0,252.0 232.0,251.8 232.0,251.5 232.0,251.3 232.0,251.0 232.0,250.8 232.0,250.5 232.0,250.3Z" fill="#c3fa1d"/>
<path d="M232.2,250.0 232.2,249.8 232.2,249.5 232.2,249.3 232.2,249.0 232.2,248.8 232.2,248.5 232.2,248.3 232.2,248.0 232.2,247.7 232.2,247.5 232.2,247.2 232.3,246.9 232.3,246.7 232.3,246.4 232.4,246.1 232.4,245.8 232.5,245.5 232.5,245.3 232.6,245.0 232.7,244.7 232.8,244.4 232.8,244.1 232.9,243.8 233.0,243.4 233.1,243.1 233.2,242.8 233.3,242.4 233.5,242.1 233.6,241.8 233.8,241.4 233.9,241.1 234.1,240.8 234.4,240.5 234.6,240.2 234.8,239.9 235.1,239.6 235.4,239.3 235.6,239.0 235.9,238.7 236.3,238.5 236.6,238.2 236.9,237.9 237.2,237.7 237.6,237.4 238.0,237.2 238.4,237.0 238.7,236.7 239.2,236.5 239.6,236.3 240.0,236.1 240.4,236.0 240.9,235.8 241.4,235.6 241.8,235.5 242.3,235.4 242.8,235.2 243.3,235.1 243.9,235.0 244.4,234.8 245.0,234.7 245.5,234.6 246.1,234.5 246.8,234.3 247.4,234.2 248.1,234.1 248.8,233.9 249.6,233.8 250.4,233.6 251.2,233.5 252.1,233.3 253.1,233.2 254.0,233.1 255.0,233.0 256.1,232.9 257.2,232.8 258.3,232.8 259.5,232.8 260.8,232.8 262.2,232.8 263.5,233.0 264.8,233.2 266.1,233.4 267.5,233.8 268.8,234.2 270.1,234.6 271.5,235.2 272.8,235.8 274.1,236.5 275.4,237.2 276.7,238.1 277.9,239.0 279.0,240.0 280.0,241.0 281.0,242.2 281.9,243.4 282.8,244.6 283.6,245.9 284.2,247.2 284.7,248.6 284.8,250.0 284.7,251.4 284.4,252.8 284.0,254.2 283.4,255.5 282.7,256.8 282.0,258.0 281.1,259.2 280.0,260.3 278.8,261.3 277.4,262.2 276.0,263.0 274.6,263.7 273.2,264.4 271.7,264.9 270.2,265.4 268.6,265.7 267.1,266.0 265.6,266.2 264.1,266.4 262.8,266.5 261.5,266.6 260.2,266.7 258.9,266.7 257.7,266.6 256.5,266.5 255.4,266.4 254.3,266.2 253.3,266.1 252.3,265.9 251.4,265.7 250.6,265.5 249.7,265.4 249.0,265.2 248.3,265.1 247.6,264.9 247.0,264.8 246.3,264.7 245.8,264.5 245.2,264.4 244.6,264.2 244.1,264.1 243.6,263.9 243.1,263.8 242.6,263.6 242.1,263.4 241.7,263.3 241.2,263.1 240.8,262.9 240.4,262.7 240.0,262.5 239.6,262.3 239.2,262.1 238.9,261.9 238.5,261.7 238.2,261.5 237.8,261.3 237.5,261.1 237.2,260.9 236.9,260.7 236.6,260.4 236.3,260.2 236.0,260.0 235.8,259.8 235.5,259.5 235.3,259.3 235.0,259.0 234.8,258.8 234.6,258.5 234.4,258.3 234.2,258.0 234.0,257.8 233.8,257.5 233.6,257.2 233.5,257.0 233.3,256.7 233.2,256.4 233.1,256.1 233.0,255.8 232.9,255.5 232.8,255.2 232.7,254.9 232.6,254.7 232.6,254.4 232.5,254.1 232.4,253.9 232.4,253.6 232.3,253.3 232.3,253.0 232.3,252.8 232.2,252.5 232.2,252.3 232.2,252.0 232.2,251.7 232.2,251.5 232.2,251.2 232.2,251.0 232.2,250.7 232.2,250.5 232.2,250.2Z" fill="#d9f91e"/>
<path d="M232.4,250.0 232.3,249.8 232.3,249.5 232.3,249.3 232.3,249.0 232.3,248.8 232.4,248.5 232.4,248.3 232.4,248.0 232.4,247.8 232.4,247.5 232.4,247.3 232.5,247.0 232.5,246.7 232.5,246.5 232.6,246.2 232.6,246.0 232.7,245.7 232.8,245.4 232.9,245.1 233.0,244.9 233.0,244.6 233.1,244.3 233.2,244.0 233.3,243.7 233.4,243.4 233.5,243.1 233.7,242.8 233.8,242.5 233.9,242.2 234.1,241.9 234.3,241.6 234.5,241.3 234.7,241.0 234.9,240.7 235.1,240.5 235.4,240.2 235.6,239.9 235.9,239.7 236.2,239.4 236.5,239.2 236.8,238.9 237.1,238.7 237.4,238.5 237.8,238.2 238.1,238.0 238.5,237.8 238.8,237.6 239.2,237.4 239.6,237.2 240.0,237.0 240.4,236.9 240.8,236.7 241.3,236.6 241.7,236.4 242.2,236.3 242.6,236.2 243.1,236.0 243.6,235.9 244.1,235.8 244.7,235.7 245.2,235.6 245.8,235.4 246.4,235.3 247.0,235.2 247.6,235.0 248.3,234.9 249.0,234.7 249.8,234.6 250.6,234.5 251.4,234.3 252.2,234.2 253.1,234.1 254.1,234.0 255.0,234.0 256.0,234.0 257.1,233.9 258.2,234.0 259.4,234.0 260.6,234.0 261.8,234.2 263.0,234.3 264.3,234.6 265.5,234.9 266.7,235.3 268.0,235.8 269.2,236.3 270.4,236.9 271.6,237.5 272.8,238.2 274.0,238.9 275.1,239.8 276.2,240.7 277.1,241.7 278.0,242.7 278.9,243.8 279.6,245.0 280.3,246.2 280.9,247.4 281.3,248.7 281.4,250.0 281.3,251.3 281.1,252.6 280.7,253.8 280.1,255.1 279.5,256.3 278.9,257.4 278.1,258.5 277.1,259.5 276.0,260.4 274.7,261.3 273.4,262.0 272.1,262.7 270.7,263.3 269.3,263.8 267.9,264.2 266.5,264.6 265.1,264.8 263.7,265.0 262.3,265.2 261.0,265.3 259.8,265.4 258.6,265.4 257.5,265.4 256.3,265.4 255.3,265.3 254.2,265.2 253.3,265.0 252.3,264.9 251.4,264.8 250.6,264.6 249.8,264.4 249.1,264.3 248.4,264.1 247.7,264.0 247.1,263.9 246.5,263.8 245.9,263.6 245.3,263.5 244.8,263.4 244.3,263.2 243.8,263.1 243.3,262.9 242.9,262.8 242.4,262.6 242.0,262.5 241.6,262.3 241.1,262.1 240.8,262.0 240.4,261.8 240.0,261.6 239.6,261.5 239.3,261.3 238.9,261.1 238.6,260.9 238.3,260.7 238.0,260.6 237.7,260.4 237.4,260.2 237.1,260.0 236.8,259.8 236.6,259.6 236.3,259.4 236.0,259.1 235.8,258.9 235.6,258.7 235.3,258.5 235.1,258.3 234.9,258.0 234.7,257.8 234.5,257.6 234.3,257.3 234.1,257.1 234.0,256.8 233.8,256.6 233.7,256.3 233.6,256.0 233.4,255.8 233.3,255.5 233.2,255.2 233.1,255.0 233.0,254.7 233.0,254.5 232.9,254.2 232.8,254.0 232.7,253.7 232.7,253.5 232.6,253.2 232.6,252.9 232.5,252.7 232.5,252.4 232.5,252.2 232.4,251.9 232.4,251.7 232.4,251.5 232.4,251.2 232.4,251.0 232.4,250.7 232.4,250.5 232.4,250.2Z" fill="#eaf61e"/>
<path d="M232.5,250.0 232.5,249.8 232.5,249.5 232.5,249.3 232.5,249.1 232.5,248.8 232.5,248.6 232.5,248.3 232.5,248.1 232.6,247.8 232.6,247.6 232.6,247.3 232.7,247.1 232.7,246.8 232.7,246.6 232.8,246.3 232.9,246.1 232.9,245.8 233.0,245.6 233.1,245.3 233.2,245.1 233.3,244.8 233.4,244.5 233.5,244.3 233.6,244.0 233.7,243.7 233.8,243.4 234.0,243.1 234.1,242.9 234.3,242.6 234.4,242.3 234.6,242.0 234.8,241.8 235.0,241.5 235.2,241.3 235.4,241.0 235.7,240.8 235.9,240.5 236.2,240.3 236.4,240.1 236.7,239.8 237.0,239.6 237.3,239.4 237.6,239.2 237.9,239.0 238.2,238.8 238.6,238.6 238.9,238.4 239.3,238.2 239.6,238.0 240.0,237.9 240.4,237.7 240.8,237.6 241.2,237.5 241.6,237.3 242.0,237.2 242.5,237.1 242.9,236.9 243.4,236.8 243.9,236.7 244.4,236.6 244.9,236.5 245.4,236.3 246.0,236.2 246.6,236.1 247.2,235.9 247.8,235.8 248.5,235.7 249.2,235.5 249.9,235.4 250.7,235.3 251.5,235.2 252.3,235.1 253.2,235.1 254.1,235.0 255.0,235.0 256.0,235.0 257.0,235.0 258.1,235.1 259.2,235.1 260.3,235.3 261.4,235.5 262.5,235.7 263.7,236.0 264.8,236.4 265.9,236.8 267.1,237.3 268.2,237.8 269.3,238.4 270.4,239.0 271.5,239.8 272.6,240.5 273.6,241.4 274.4,242.3 275.2,243.3 276.0,244.3 276.7,245.4 277.3,246.5 277.8,247.6 278.1,248.8 278.3,250.0 278.2,251.2 278.0,252.4 277.6,253.6 277.1,254.7 276.6,255.8 276.0,256.9 275.2,257.9 274.4,258.8 273.4,259.7 272.2,260.5 271.0,261.1 269.7,261.8 268.4,262.3 267.1,262.8 265.8,263.1 264.5,263.5 263.2,263.7 261.9,263.9 260.6,264.0 259.4,264.1 258.3,264.2 257.2,264.2 256.1,264.2 255.1,264.2 254.1,264.1 253.2,264.0 252.3,263.9 251.4,263.8 250.6,263.7 249.8,263.6 249.1,263.4 248.4,263.3 247.8,263.1 247.2,263.0 246.6,262.9 246.0,262.8 245.5,262.7 245.0,262.5 244.5,262.4 244.0,262.3 243.5,262.1 243.1,262.0 242.6,261.8 242.2,261.7 241.8,261.5 241.4,261.4 241.1,261.3 240.7,261.1 240.3,261.0 240.0,260.8 239.7,260.7 239.3,260.5 239.0,260.4 238.7,260.2 238.4,260.0 238.1,259.9 237.8,259.7 237.6,259.5 237.3,259.3 237.0,259.1 236.8,259.0 236.5,258.8 236.3,258.6 236.1,258.4 235.8,258.2 235.6,258.0 235.4,257.8 235.2,257.5 235.0,257.3 234.8,257.1 234.7,256.9 234.5,256.7 234.3,256.4 234.2,256.2 234.0,256.0 233.9,255.7 233.8,255.5 233.7,255.2 233.6,255.0 233.5,254.8 233.4,254.5 233.3,254.3 233.2,254.0 233.1,253.8 233.0,253.6 232.9,253.3 232.9,253.1 232.8,252.8 232.8,252.6 232.7,252.4 232.7,252.1 232.6,251.9 232.6,251.7 232.6,251.4 232.6,251.2 232.5,250.9 232.5,250.7 232.5,250.5 232.5,250.2Z" fill="#f7f11e"/>
<path d="M232.6,250.0 232.6,249.8 232.6,249.5 232.6,249.3 232.6,249.1 232.7,248.8 232.7,248.6 232.7,248.4 232.7,248.1 232.7,247.9 232.8,247.6 232.8,247.4 232.8,247.2 232.9,246.9 233.0,246.7 233.0,246.4 233.1,246.2 233.2,246.0 233.3,245.7 233.3,245.5 233.4,245.2 233.5,245.0 233.7,244.7 233.8,244.5 233.9,244.2 234.0,244.0 234.1,243.7 234.3,243.5 234.4,243.2 234.6,243.0 234.7,242.7 234.9,242.5 235.1,242.2 235.3,242.0 235.5,241.8 235.7,241.5 235.9,241.3 236.2,241.1 236.4,240.9 236.6,240.7 236.9,240.5 237.2,240.3 237.4,240.1 237.7,239.9 238.0,239.7 238.3,239.5 238.6,239.3 239.0,239.1 239.3,239.0 239.6,238.8 240.0,238.7 240.4,238.5 240.7,238.4 241.1,238.3 241.5,238.2 241.9,238.0 242.3,237.9 242.7,237.8 243.2,237.7 243.6,237.5 244.1,237.4 244.6,237.3 245.1,237.2 245.6,237.1 246.2,236.9 246.7,236.8 247.3,236.7 248.0,236.5 248.6,236.4 249.3,236.3 250.0,236.2 250.8,236.1 251.5,236.1 252.3,236.0 253.1,236.0 254.0,236.0 254.9,236.0 255.8,236.1 256.8,236.1 257.8,236.2 258.8,236.3 259.9,236.5 260.9,236.7 262.0,237.0 263.0,237.3 264.1,237.7 265.1,238.2 266.1,238.7 267.2,239.3 268.2,239.9 269.2,240.5 270.2,241.2 271.1,242.0 271.9,242.9 272.7,243.8 273.3,244.7 274.0,245.7 274.5,246.7 274.9,247.8 275.2,248.9 275.4,250.0 275.3,251.1 275.1,252.2 274.8,253.3 274.4,254.3 273.9,255.4 273.3,256.4 272.6,257.3 271.8,258.2 270.9,259.0 269.9,259.7 268.7,260.3 267.5,260.9 266.3,261.4 265.1,261.8 263.9,262.2 262.6,262.5 261.4,262.7 260.3,262.9 259.1,263.0 258.0,263.1 256.9,263.1 255.9,263.1 254.9,263.1 253.9,263.1 253.0,263.0 252.2,263.0 251.4,262.9 250.6,262.8 249.9,262.7 249.1,262.6 248.5,262.5 247.8,262.3 247.2,262.2 246.7,262.1 246.1,262.0 245.6,261.9 245.1,261.8 244.6,261.6 244.1,261.5 243.7,261.4 243.3,261.2 242.9,261.1 242.5,261.0 242.1,260.8 241.7,260.7 241.3,260.6 241.0,260.4 240.6,260.3 240.3,260.2 240.0,260.1 239.7,259.9 239.4,259.8 239.1,259.6 238.8,259.5 238.5,259.4 238.2,259.2 238.0,259.0 237.7,258.9 237.5,258.7 237.2,258.6 237.0,258.4 236.7,258.2 236.5,258.0 236.3,257.9 236.1,257.7 235.9,257.5 235.7,257.3 235.5,257.1 235.3,256.9 235.1,256.7 235.0,256.5 234.8,256.3 234.6,256.1 234.5,255.9 234.3,255.7 234.2,255.4 234.1,255.2 234.0,255.0 233.9,254.8 233.8,254.5 233.6,254.3 233.5,254.1 233.4,253.9 233.4,253.7 233.3,253.4 233.2,253.2 233.1,253.0 233.0,252.8 233.0,252.5 232.9,252.3 232.9,252.1 232.8,251.8 232.8,251.6 232.8,251.4 232.7,251.2 232.7,250.9 232.7,250.7 232.7,250.5 232.7,250.2Z" fill="#fce61f"/>
<path d="M232.8,250.0 232.8,249.8 232.8,249.5 232.8,249.3 232.8,249.1 232.8,248.9 232.8,248.6 232.8,248.4 232.9,248.2 232.9,247.9 232.9,247.7 233.0,247.5 233.0,247.2 233.1,247.0 233.2,246.8 233.2,246.5 233.3,246.3 233.4,246.1 233.5,245.9 233.6,245.6 233.7,245.4 233.8,245.2 233.9,245.0 234.0,244.7 234.1,244.5 234.3,244.3 234.4,244.0 234.5,243.8 234.7,243.6 234.8,243.3 235.0,243.1 235.2,242.9 235.4,242.7 235.5,242.5 235.7,242.3 235.9,242.0 236.2,241.8 236.4,241.6 236.6,241.4 236.8,241.3 237.1,241.1 237.3,240.9 237.6,240.7 237.9,240.5 238.2,240.3 238.4,240.2 238.7,240.0 239.0,239.8 239.4,239.7 239.7,239.5 240.0,239.4 240.3,239.3 240.7,239.2 241.0,239.0 241.4,238.9 241.8,238.8 242.2,238.7 242.6,238.6 243.0,238.5 243.4,238.3 243.8,238.2 244.3,238.1 244.8,238.0 245.3,237.8 245.8,237.7 246.3,237.6 246.9,237.5 247.5,237.4 248.1,237.3 248.7,237.2 249.4,237.1 250.1,237.0 250.8,236.9 251.5,236.9 252.3,236.9 253.1,236.9 253.9,237.0 254.7,237.0 255.6,237.1 256.6,237.1 257.5,237.3 258.5,237.5 259.4,237.7 260.4,237.9 261.4,238.3 262.3,238.6 263.3,239.1 264.2,239.5 265.2,240.0 266.1,240.6 267.1,241.2 268.0,241.9 268.8,242.6 269.6,243.4 270.3,244.2 270.9,245.1 271.4,246.0 271.9,247.0 272.3,248.0 272.6,249.0 272.7,250.0 272.6,251.0 272.5,252.0 272.2,253.0 271.8,254.0 271.3,255.0 270.8,255.9 270.2,256.8 269.5,257.6 268.7,258.3 267.7,259.0 266.6,259.6 265.5,260.1 264.4,260.5 263.2,260.9 262.1,261.2 260.9,261.5 259.8,261.7 258.7,261.9 257.7,262.0 256.6,262.1 255.6,262.1 254.7,262.1 253.7,262.1 252.9,262.1 252.0,262.0 251.3,262.0 250.5,262.0 249.8,261.9 249.1,261.8 248.5,261.7 247.9,261.6 247.3,261.5 246.7,261.4 246.2,261.3 245.7,261.2 245.2,261.0 244.7,260.9 244.3,260.8 243.8,260.7 243.4,260.6 243.0,260.4 242.6,260.3 242.3,260.2 241.9,260.1 241.6,259.9 241.2,259.8 240.9,259.7 240.6,259.6 240.3,259.5 240.0,259.3 239.7,259.2 239.4,259.1 239.2,259.0 238.9,258.9 238.6,258.7 238.4,258.6 238.1,258.5 237.9,258.3 237.6,258.2 237.4,258.0 237.2,257.9 237.0,257.7 236.7,257.5 236.5,257.4 236.3,257.2 236.1,257.0 235.9,256.9 235.8,256.7 235.6,256.5 235.4,256.3 235.2,256.1 235.1,255.9 234.9,255.7 234.8,255.6 234.6,255.4 234.5,255.2 234.4,254.9 234.3,254.7 234.1,254.5 234.0,254.3 233.9,254.1 233.8,253.9 233.7,253.7 233.6,253.5 233.5,253.3 233.4,253.1 233.4,252.9 233.3,252.7 233.2,252.4 233.1,252.2 233.1,252.0 233.0,251.8 233.0,251.6 232.9,251.3 232.9,251.1 232.9,250.9 232.8,250.7 232.8,250.5 232.8,250.2Z" fill="#ffd720"/>
<path d="M232.9,250.0 232.9,249.8 232.9,249.6 232.9,249.3 232.9,249.1 232.9,248.9 233.0,248.7 233.0,248.4 233.0,248.2 233.1,248.0 233.1,247.8 233.2,247.5 233.2,247.3 233.3,247.1 233.4,246.9 233.4,246.7 233.5,246.4 233.6,246.2 233.7,246.0 233.8,245.8 233.9,245.6 234.0,245.4 234.1,245.2 234.3,244.9 234.4,244.7 234.5,244.5 234.7,244.3 234.8,244.1 234.9,243.9 235.1,243.7 235.3,243.5 235.4,243.3 235.6,243.1 235.8,242.9 236.0,242.7 236.2,242.5 236.4,242.3 236.6,242.1 236.8,242.0 237.0,241.8 237.3,241.6 237.5,241.4 237.8,241.3 238.0,241.1 238.3,240.9 238.5,240.8 238.8,240.6 239.1,240.5 239.4,240.4 239.7,240.2 240.0,240.1 240.3,240.0 240.6,239.9 241.0,239.8 241.3,239.7 241.7,239.5 242.0,239.4 242.4,239.3 242.8,239.2 243.2,239.1 243.6,239.0 244.0,238.8 244.5,238.7 244.9,238.6 245.4,238.5 245.9,238.4 246.5,238.2 247.0,238.1 247.6,238.0 248.2,237.9 248.8,237.9 249.5,237.8 250.1,237.8 250.8,237.8 251.5,237.8 252.2,237.8 253.0,237.8 253.7,237.9 254.6,237.9 255.4,238.0 256.3,238.2 257.1,238.3 258.0,238.6 258.9,238.8 259.8,239.1 260.7,239.5 261.6,239.8 262.4,240.3 263.3,240.8 264.2,241.3 265.1,241.8 265.9,242.5 266.7,243.1 267.5,243.9 268.1,244.6 268.6,245.5 269.1,246.3 269.5,247.2 269.8,248.1 270.1,249.1 270.2,250.0 270.2,250.9 270.0,251.9 269.8,252.8 269.4,253.7 269.0,254.6 268.5,255.4 268.0,256.3 267.3,257.0 266.6,257.7 265.7,258.3 264.7,258.9 263.6,259.4 262.5,259.8 261.5,260.1 260.4,260.4 259.4,260.6 258.3,260.9 257.3,261.0 256.3,261.1 255.4,261.2 254.4,261.2 253.5,261.2 252.7,261.2 251.9,261.2 251.1,261.1 250.4,261.1 249.8,261.1 249.1,261.0 248.5,260.9 247.9,260.9 247.3,260.8 246.8,260.7 246.3,260.6 245.8,260.5 245.3,260.4 244.8,260.3 244.4,260.1 244.0,260.0 243.6,259.9 243.2,259.8 242.8,259.7 242.5,259.6 242.1,259.4 241.8,259.3 241.5,259.2 241.1,259.1 240.8,259.0 240.6,258.9 240.3,258.8 240.0,258.7 239.7,258.6 239.5,258.5 239.2,258.4 239.0,258.3 238.7,258.1 238.5,258.0 238.2,257.9 238.0,257.8 237.8,257.6 237.6,257.5 237.4,257.4 237.1,257.2 236.9,257.1 236.7,256.9 236.6,256.8 236.4,256.6 236.2,256.4 236.0,256.3 235.8,256.1 235.7,255.9 235.5,255.8 235.4,255.6 235.2,255.4 235.1,255.2 234.9,255.1 234.8,254.9 234.7,254.7 234.5,254.5 234.4,254.3 234.3,254.1 234.2,253.9 234.1,253.8 234.0,253.6 233.9,253.4 233.8,253.2 233.7,253.0 233.6,252.8 233.5,252.6 233.4,252.4 233.3,252.2 233.3,252.0 233.2,251.7 233.2,251.5 233.1,251.3 233.1,251.1 233.0,250.9 233.0,250.7 233.0,250.4 232.9,250.2Z" fill="#ffc121"/>
<path d="M233.1,250.0 233.1,249.8 233.1,249.6 233.1,249.3 233.1,249.1 233.1,248.9 233.1,248.7 233.1,248.5 233.2,248.2 233.2,248.0 233.3,247.8 233.3,247.6 233.4,247.4 233.5,247.2 233.5,247.0 233.6,246.8 233.7,246.5 233.8,246.3 233.9,246.1 234.0,245.9 234.1,245.7 234.2,245.5 234.4,245.3 234.5,245.1 234.6,245.0 234.8,244.8 234.9,244.6 235.1,244.4 235.2,244.2 235.4,244.0 235.5,243.8 235.7,243.7 235.9,243.5 236.0,243.3 236.2,243.1 236.4,243.0 236.6,242.8 236.8,242.6 237.0,242.5 237.2,242.3 237.4,242.1 237.7,242.0 237.9,241.8 238.1,241.7 238.4,241.5 238.6,241.4 238.9,241.2 239.2,241.1 239.4,241.0 239.7,240.9 240.0,240.7 240.3,240.6 240.6,240.5 240.9,240.4 241.2,240.3 241.5,240.2 241.9,240.1 242.2,240.0 242.6,239.9 243.0,239.8 243.4,239.7 243.8,239.5 244.2,239.4 244.6,239.3 245.1,239.2 245.6,239.1 246.1,239.0 246.6,238.9 247.1,238.8 247.7,238.7 248.3,238.6 248.9,238.6 249.5,238.5 250.1,238.5 250.7,238.6 251.4,238.6 252.1,238.6 252.8,238.7 253.6,238.8 254.3,238.9 255.1,239.0 255.9,239.2 256.7,239.4 257.6,239.6 258.4,239.9 259.2,240.2 260.0,240.6 260.8,241.0 261.6,241.4 262.4,241.9 263.3,242.4 264.0,243.0 264.8,243.6 265.5,244.3 266.0,245.0 266.5,245.8 266.9,246.6 267.3,247.4 267.6,248.3 267.8,249.1 267.9,250.0 267.9,250.9 267.8,251.7 267.5,252.6 267.2,253.4 266.8,254.3 266.4,255.0 265.9,255.8 265.3,256.5 264.7,257.2 263.8,257.7 262.9,258.2 261.9,258.7 260.9,259.0 259.8,259.3 258.9,259.6 257.9,259.8 257.0,260.0 256.0,260.2 255.1,260.3 254.2,260.3 253.3,260.3 252.5,260.3 251.7,260.3 251.0,260.3 250.3,260.3 249.6,260.3 249.0,260.2 248.4,260.2 247.9,260.2 247.3,260.1 246.8,260.0 246.3,259.9 245.8,259.8 245.4,259.7 244.9,259.6 244.5,259.5 244.1,259.4 243.7,259.3 243.3,259.2 243.0,259.1 242.6,259.0 242.3,258.9 242.0,258.8 241.6,258.6 241.4,258.5 241.1,258.4 240.8,258.3 240.5,258.2 240.3,258.2 240.0,258.1 239.7,258.0 239.5,257.9 239.3,257.8 239.0,257.7 238.8,257.6 238.6,257.5 238.4,257.4 238.1,257.3 237.9,257.1 237.7,257.0 237.5,256.9 237.3,256.8 237.1,256.6 236.9,256.5 236.8,256.3 236.6,256.2 236.4,256.1 236.3,255.9 236.1,255.8 235.9,255.6 235.8,255.4 235.6,255.3 235.5,255.1 235.3,255.0 235.2,254.8 235.1,254.6 234.9,254.5 234.8,254.3 234.7,254.1 234.6,253.9 234.5,253.8 234.3,253.6 234.2,253.4 234.1,253.2 234.0,253.1 233.9,252.9 233.8,252.7 233.7,252.5 233.6,252.3 233.5,252.1 233.5,251.9 233.4,251.7 233.3,251.5 233.3,251.3 233.2,251.1 233.2,250.9 233.1,250.6 233.1,250.4 233.1,250.2Z" fill="#ffab22"/>
<path d="M233.2,250.0 233.2,249.8 233.2,249.6 233.2,249.4 233.2,249.1 233.2,248.9 233.3,248.7 233.3,248.5 233.3,248.3 233.4,248.1 233.4,247.9 233.5,247.7 233.6,247.5 233.6,247.2 233.7,247.0 233.8,246.8 233.9,246.7 234.0,246.5 234.1,246.3 234.2,246.1 234.3,245.9 234.5,245.7 234.6,245.5 234.7,245.3 234.9,245.2 235.0,245.0 235.1,244.8 235.3,244.7 235.4,244.5 235.6,244.3 235.8,244.2 235.9,244.0 236.1,243.8 236.3,243.7 236.4,243.5 236.6,243.4 236.8,243.2 237.0,243.1 237.2,242.9 237.4,242.8 237.6,242.6 237.8,242.5 238.0,242.3 238.3,242.2 238.5,242.1 238.7,241.9 239.0,241.8 239.2,241.7 239.5,241.6 239.7,241.4 240.0,241.3 240.3,241.2 240.6,241.1 240.8,241.0 241.1,241.0 241.4,240.9 241.8,240.8 242.1,240.7 242.4,240.5 242.8,240.4 243.1,240.3 243.5,240.2 243.9,240.1 244.3,240.0 244.8,239.8 245.2,239.7 245.7,239.6 246.2,239.5 246.7,239.4 247.2,239.4 247.8,239.3 248.3,239.3 248.9,239.3 249.5,239.3 250.0,239.3 250.7,239.3 251.3,239.4 251.9,239.5 252.6,239.6 253.3,239.7 254.1,239.8 254.8,239.9 255.5,240.1 256.3,240.4 257.1,240.6 257.8,240.9 258.6,241.3 259.3,241.7 260.0,242.1 260.8,242.5 261.5,243.0 262.3,243.5 263.0,244.1 263.6,244.7 264.1,245.4 264.6,246.1 264.9,246.9 265.2,247.6 265.5,248.4 265.7,249.2 265.8,250.0 265.8,250.8 265.7,251.6 265.5,252.4 265.2,253.2 264.8,253.9 264.4,254.7 264.0,255.4 263.5,256.0 262.9,256.6 262.1,257.2 261.2,257.6 260.3,258.0 259.3,258.4 258.3,258.6 257.4,258.9 256.6,259.1 255.7,259.3 254.8,259.4 254.0,259.5 253.1,259.5 252.3,259.5 251.5,259.5 250.8,259.5 250.1,259.5 249.5,259.5 248.9,259.5 248.4,259.5 247.8,259.5 247.3,259.4 246.8,259.4 246.3,259.3 245.9,259.2 245.4,259.2 245.0,259.1 244.6,259.0 244.2,258.9 243.8,258.8 243.4,258.6 243.1,258.5 242.7,258.4 242.4,258.3 242.1,258.2 241.8,258.1 241.5,258.0 241.3,257.9 241.0,257.8 240.7,257.7 240.5,257.6 240.2,257.6 240.0,257.5 239.8,257.4 239.5,257.4 239.3,257.3 239.1,257.2 238.9,257.1 238.7,257.0 238.5,256.9 238.3,256.8 238.1,256.7 237.9,256.6 237.7,256.4 237.5,256.3 237.3,256.2 237.1,256.1 237.0,256.0 236.8,255.8 236.6,255.7 236.5,255.6 236.3,255.4 236.2,255.3 236.0,255.1 235.9,255.0 235.7,254.8 235.6,254.7 235.5,254.5 235.3,254.4 235.2,254.2 235.1,254.1 234.9,253.9 234.8,253.8 234.7,253.6 234.6,253.4 234.5,253.3 234.3,253.1 234.2,252.9 234.1,252.8 234.0,252.6 233.9,252.4 233.8,252.2 233.7,252.0 233.7,251.8 233.6,251.6 233.5,251.5 233.4,251.3 233.4,251.0 233.3,250.8 233.3,250.6 233.2,250.4 233.2,250.2Z" fill="#ff9822"/>
<path d="M234.5,249.9 234.5,249.8 234.5,249.6 234.5,249.4 234.5,249.2 234.5,249.0 234.5,248.8 234.6,248.6 234.6,248.4 234.6,248.3 234.7,248.1 234.7,247.9 234.8,247.7 234.9,247.5 234.9,247.4 235.0,247.2 235.1,247.0 235.2,246.8 235.3,246.7 235.4,246.5 235.5,246.3 235.6,246.2 235.7,246.0 235.8,245.9 235.9,245.7 236.1,245.6 236.2,245.4 236.3,245.3 236.5,245.1 236.6,245.0 236.7,244.8 236.9,244.7 237.0,244.5 237.2,244.4 237.3,244.3 237.5,244.1 237.6,244.0 237.8,243.9 238.0,243.7 238.2,243.6 238.3,243.5 238.5,243.4 238.7,243.2 238.9,243.1 239.1,243.0 239.3,242.9 239.5,242.8 239.7,242.7 240.0,242.6 240.2,242.5 240.4,242.4 240.7,242.3 240.9,242.2 241.2,242.1 241.4,242.0 241.7,241.9 242.0,241.9 242.3,241.8 242.6,241.7 242.9,241.6 243.2,241.5 243.5,241.4 243.9,241.2 244.2,241.1 244.6,241.0 245.0,240.9 245.4,240.9 245.9,240.8 246.3,240.7 246.8,240.6 247.2,240.6 247.7,240.6 248.2,240.5 248.7,240.6 249.2,240.6 249.8,240.6 250.3,240.7 250.9,240.7 251.5,240.8 252.1,240.9 252.7,241.0 253.4,241.1 254.0,241.3 254.7,241.5 255.4,241.7 256.0,242.0 256.7,242.3 257.3,242.6 258.0,243.0 258.6,243.4 259.3,243.8 259.9,244.3 260.5,244.8 261.1,245.3 261.6,245.9 261.9,246.5 262.2,247.2 262.5,247.9 262.7,248.5 262.9,249.2 263.0,249.9 263.0,250.6 262.9,251.4 262.7,252.0 262.5,252.7 262.2,253.4 261.8,254.0 261.4,254.6 261.0,255.2 260.5,255.8 259.8,256.2 259.0,256.6 258.2,257.0 257.3,257.2 256.5,257.5 255.7,257.7 254.9,257.9 254.2,258.1 253.4,258.2 252.7,258.2 251.9,258.3 251.2,258.3 250.5,258.3 249.9,258.3 249.3,258.3 248.8,258.3 248.2,258.3 247.8,258.2 247.3,258.2 246.8,258.2 246.4,258.1 246.0,258.1 245.6,258.0 245.2,257.9 244.8,257.9 244.4,257.8 244.1,257.7 243.8,257.6 243.4,257.5 243.1,257.4 242.8,257.3 242.6,257.2 242.3,257.1 242.0,257.0 241.8,256.9 241.5,256.9 241.3,256.8 241.1,256.7 240.9,256.6 240.6,256.6 240.4,256.5 240.2,256.4 240.0,256.4 239.8,256.3 239.6,256.2 239.5,256.1 239.3,256.1 239.1,256.0 238.9,255.9 238.7,255.8 238.6,255.7 238.4,255.6 238.2,255.5 238.1,255.4 237.9,255.3 237.8,255.1 237.6,255.0 237.5,254.9 237.4,254.8 237.2,254.7 237.1,254.6 237.0,254.4 236.8,254.3 236.7,254.2 236.6,254.0 236.5,253.9 236.3,253.8 236.2,253.6 236.1,253.5 236.0,253.4 235.9,253.2 235.8,253.1 235.7,252.9 235.6,252.8 235.5,252.7 235.4,252.5 235.3,252.4 235.2,252.2 235.1,252.0 235.0,251.9 235.0,251.7 234.9,251.6 234.8,251.4 234.8,251.2 234.7,251.0 234.6,250.9 234.6,250.7 234.6,250.5 234.5,250.3 234.5,250.1Z" fill="#fe8820"/>
<path d="M235.8,249.9 235.8,249.7 235.8,249.6 235.8,249.4 235.8,249.2 235.8,249.1 235.8,248.9 235.8,248.8 235.9,248.6 235.9,248.4 236.0,248.3 236.0,248.1 236.1,248.0 236.1,247.8 236.2,247.7 236.2,247.5 236.3,247.4 236.4,247.2 236.5,247.1 236.5,246.9 236.6,246.8 236.7,246.7 236.8,246.5 236.9,246.4 237.0,246.3 237.1,246.1 237.2,246.0 237.3,245.9 237.5,245.7 237.6,245.6 237.7,245.5 237.8,245.4 237.9,245.3 238.1,245.1 238.2,245.0 238.3,244.9 238.5,244.8 238.6,244.7 238.8,244.6 238.9,244.4 239.1,244.3 239.2,244.2 239.4,244.1 239.6,244.0 239.7,243.9 239.9,243.8 240.1,243.7 240.3,243.6 240.5,243.5 240.7,243.5 240.9,243.4 241.1,243.3 241.3,243.2 241.5,243.2 241.7,243.1 242.0,243.0 242.2,242.9 242.4,242.9 242.7,242.8 243.0,242.7 243.2,242.6 243.5,242.5 243.8,242.4 244.1,242.3 244.5,242.3 244.8,242.2 245.2,242.1 245.5,242.0 245.9,242.0 246.3,241.9 246.7,241.9 247.1,241.8 247.5,241.8 248.0,241.8 248.4,241.9 248.9,241.9 249.3,241.9 249.8,242.0 250.3,242.0 250.9,242.1 251.4,242.2 252.0,242.3 252.5,242.5 253.1,242.6 253.7,242.8 254.2,243.1 254.8,243.3 255.3,243.6 255.9,243.9 256.5,244.3 257.0,244.6 257.6,245.0 258.1,245.4 258.6,245.9 259.0,246.4 259.3,247.0 259.6,247.5 259.8,248.1 260.0,248.7 260.1,249.3 260.2,249.9 260.2,250.5 260.1,251.1 260.0,251.7 259.8,252.3 259.5,252.8 259.2,253.4 258.8,253.9 258.5,254.4 258.0,254.9 257.5,255.3 256.8,255.6 256.1,255.9 255.4,256.1 254.6,256.4 254.0,256.5 253.3,256.7 252.6,256.8 252.0,256.9 251.3,257.0 250.7,257.0 250.1,257.0 249.5,257.0 249.0,257.0 248.5,257.0 248.0,257.0 247.6,257.0 247.2,257.0 246.7,257.0 246.4,256.9 246.0,256.9 245.6,256.9 245.3,256.8 244.9,256.7 244.6,256.7 244.3,256.6 244.0,256.5 243.7,256.4 243.4,256.4 243.2,256.3 242.9,256.2 242.7,256.1 242.5,256.0 242.2,256.0 242.0,255.9 241.8,255.8 241.6,255.7 241.4,255.7 241.2,255.6 241.1,255.6 240.9,255.5 240.7,255.4 240.5,255.4 240.4,255.3 240.2,255.3 240.0,255.2 239.9,255.1 239.7,255.0 239.6,255.0 239.4,254.9 239.3,254.8 239.1,254.7 239.0,254.6 238.9,254.5 238.7,254.4 238.6,254.3 238.5,254.2 238.4,254.1 238.2,254.0 238.1,253.9 238.0,253.8 237.9,253.7 237.8,253.6 237.7,253.5 237.6,253.4 237.5,253.3 237.4,253.2 237.3,253.1 237.2,252.9 237.1,252.8 237.0,252.7 236.9,252.6 236.8,252.5 236.7,252.3 236.6,252.2 236.6,252.1 236.5,251.9 236.4,251.8 236.3,251.7 236.2,251.5 236.2,251.4 236.1,251.3 236.1,251.1 236.0,251.0 236.0,250.8 235.9,250.7 235.9,250.5 235.8,250.4 235.8,250.2 235.8,250.0Z" fill="#fe781f"/>
<path d="M237.1,249.8 237.1,249.7 237.1,249.5 237.1,249.4 237.1,249.3 237.1,249.1 237.1,249.0 237.1,248.9 237.1,248.7 237.2,248.6 237.2,248.5 237.2,248.3 237.3,248.2 237.3,248.1 237.4,248.0 237.4,247.8 237.5,247.7 237.6,247.6 237.6,247.5 237.7,247.4 237.8,247.2 237.9,247.1 237.9,247.0 238.0,246.9 238.1,246.8 238.2,246.7 238.3,246.6 238.4,246.5 238.5,246.4 238.6,246.3 238.7,246.2 238.8,246.1 238.9,246.0 239.0,245.9 239.1,245.8 239.2,245.7 239.3,245.6 239.4,245.5 239.6,245.4 239.7,245.3 239.8,245.2 239.9,245.1 240.1,245.0 240.2,244.9 240.4,244.9 240.5,244.8 240.7,244.7 240.8,244.6 241.0,244.5 241.1,244.5 241.3,244.4 241.5,244.3 241.7,244.3 241.8,244.2 242.0,244.2 242.2,244.1 242.4,244.0 242.6,244.0 242.8,243.9 243.1,243.8 243.3,243.8 243.5,243.7 243.8,243.6 244.0,243.5 244.3,243.5 244.6,243.4 244.9,243.3 245.2,243.3 245.5,243.2 245.8,243.2 246.2,243.1 246.5,243.1 246.9,243.1 247.2,243.1 247.6,243.1 248.0,243.2 248.4,243.2 248.8,243.2 249.2,243.3 249.6,243.3 250.1,243.4 250.6,243.5 251.0,243.6 251.5,243.8 252.0,244.0 252.4,244.1 252.9,244.4 253.4,244.6 253.8,244.9 254.3,245.1 254.8,245.4 255.2,245.8 255.7,246.1 256.1,246.5 256.4,246.9 256.7,247.4 256.9,247.8 257.1,248.3 257.2,248.8 257.4,249.3 257.4,249.8 257.4,250.3 257.4,250.8 257.2,251.3 257.1,251.8 256.8,252.3 256.6,252.7 256.3,253.2 256.0,253.6 255.6,254.0 255.1,254.3 254.6,254.6 254.0,254.8 253.4,255.0 252.8,255.2 252.2,255.4 251.7,255.5 251.1,255.6 250.6,255.7 250.0,255.7 249.5,255.8 249.0,255.8 248.5,255.8 248.1,255.8 247.6,255.8 247.3,255.8 246.9,255.8 246.5,255.7 246.2,255.7 245.9,255.7 245.6,255.7 245.3,255.6 245.0,255.6 244.7,255.5 244.4,255.5 244.2,255.4 243.9,255.4 243.7,255.3 243.5,255.2 243.2,255.2 243.0,255.1 242.8,255.0 242.6,254.9 242.4,254.9 242.3,254.8 242.1,254.8 241.9,254.7 241.8,254.6 241.6,254.6 241.5,254.5 241.3,254.5 241.2,254.5 241.0,254.4 240.9,254.4 240.7,254.3 240.6,254.2 240.5,254.2 240.3,254.1 240.2,254.1 240.1,254.0 240.0,253.9 239.9,253.8 239.7,253.8 239.6,253.7 239.5,253.6 239.4,253.5 239.3,253.5 239.2,253.4 239.1,253.3 239.0,253.2 238.9,253.1 238.8,253.0 238.7,252.9 238.6,252.8 238.6,252.7 238.5,252.7 238.4,252.6 238.3,252.5 238.2,252.4 238.2,252.3 238.1,252.2 238.0,252.1 237.9,252.0 237.8,251.9 237.8,251.8 237.7,251.6 237.6,251.5 237.6,251.4 237.5,251.3 237.5,251.2 237.4,251.1 237.3,251.0 237.3,250.8 237.3,250.7 237.2,250.6 237.2,250.5 237.1,250.3 237.1,250.2 237.1,250.1 237.1,249.9Z" fill="#fd6f1e"/>
<path d="M238.3,249.8 238.3,249.6 238.3,249.5 238.3,249.4 238.4,249.3 238.4,249.2 238.4,249.1 238.4,249.0 238.4,248.9 238.4,248.8 238.5,248.7 238.5,248.6 238.5,248.5 238.6,248.4 238.6,248.3 238.7,248.2 238.7,248.1 238.8,248.0 238.8,247.9 238.9,247.8 238.9,247.7 239.0,247.6 239.0,247.5 239.1,247.4 239.2,247.3 239.2,247.2 239.3,247.2 239.4,247.1 239.5,247.0 239.6,246.9 239.6,246.8 239.7,246.8 239.8,246.7 239.9,246.6 240.0,246.5 240.1,246.4 240.2,246.4 240.2,246.3 240.3,246.2 240.4,246.1 240.6,246.1 240.7,246.0 240.8,245.9 240.9,245.8 241.0,245.8 241.1,245.7 241.2,245.7 241.4,245.6 241.5,245.5 241.6,245.5 241.8,245.4 241.9,245.4 242.0,245.3 242.2,245.3 242.3,245.2 242.5,245.2 242.6,245.1 242.8,245.1 243.0,245.0 243.1,245.0 243.3,244.9 243.5,244.8 243.7,244.8 243.9,244.7 244.1,244.7 244.4,244.6 244.6,244.6 244.8,244.5 245.1,244.5 245.4,244.4 245.6,244.4 245.9,244.4 246.2,244.4 246.5,244.4 246.8,244.4 247.1,244.4 247.4,244.5 247.7,244.5 248.1,244.5 248.4,244.6 248.8,244.6 249.1,244.7 249.5,244.8 249.9,244.9 250.3,245.1 250.7,245.2 251.0,245.4 251.4,245.6 251.8,245.8 252.1,246.0 252.5,246.2 252.9,246.5 253.2,246.8 253.6,247.1 253.8,247.4 254.0,247.8 254.2,248.2 254.4,248.6 254.5,248.9 254.6,249.3 254.6,249.8 254.6,250.2 254.6,250.6 254.5,251.0 254.3,251.3 254.2,251.7 254.0,252.1 253.7,252.4 253.5,252.8 253.2,253.1 252.8,253.3 252.4,253.6 251.9,253.8 251.4,253.9 250.9,254.1 250.5,254.2 250.0,254.3 249.6,254.4 249.2,254.5 248.7,254.5 248.3,254.5 247.9,254.5 247.5,254.5 247.2,254.5 246.8,254.5 246.5,254.5 246.2,254.5 245.9,254.5 245.7,254.5 245.4,254.5 245.2,254.4 244.9,254.4 244.7,254.4 244.5,254.3 244.2,254.3 244.0,254.2 243.8,254.2 243.6,254.1 243.5,254.1 243.3,254.0 243.1,254.0 243.0,253.9 242.8,253.9 242.7,253.8 242.5,253.8 242.4,253.7 242.2,253.7 242.1,253.6 242.0,253.6 241.9,253.5 241.8,253.5 241.6,253.5 241.5,253.4 241.4,253.4 241.3,253.3 241.2,253.3 241.1,253.2 241.0,253.2 240.9,253.1 240.8,253.1 240.7,253.0 240.6,253.0 240.5,252.9 240.4,252.9 240.3,252.8 240.2,252.7 240.2,252.7 240.1,252.6 240.0,252.5 239.9,252.5 239.8,252.4 239.8,252.3 239.7,252.2 239.6,252.2 239.5,252.1 239.5,252.0 239.4,251.9 239.3,251.9 239.3,251.8 239.2,251.7 239.2,251.6 239.1,251.6 239.0,251.5 239.0,251.4 238.9,251.3 238.9,251.2 238.8,251.1 238.8,251.0 238.7,251.0 238.7,250.9 238.6,250.8 238.6,250.7 238.5,250.6 238.5,250.5 238.5,250.4 238.4,250.3 238.4,250.2 238.4,250.1 238.4,250.0 238.4,249.9Z" fill="#fc691d"/>
<path d="M239.6,249.7 239.6,249.6 239.6,249.5 239.6,249.4 239.6,249.4 239.6,249.3 239.7,249.2 239.7,249.1 239.7,249.0 239.7,249.0 239.7,248.9 239.7,248.8 239.8,248.7 239.8,248.7 239.8,248.6 239.9,248.5 239.9,248.4 239.9,248.4 240.0,248.3 240.0,248.2 240.1,248.1 240.1,248.1 240.2,248.0 240.2,247.9 240.3,247.9 240.3,247.8 240.4,247.7 240.4,247.7 240.5,247.6 240.5,247.6 240.6,247.5 240.7,247.4 240.7,247.4 240.8,247.3 240.9,247.3 240.9,247.2 241.0,247.1 241.1,247.1 241.1,247.0 241.2,247.0 241.3,246.9 241.4,246.9 241.4,246.8 241.5,246.8 241.6,246.7 241.7,246.7 241.8,246.6 241.9,246.6 242.0,246.5 242.1,246.5 242.2,246.4 242.3,246.4 242.4,246.4 242.5,246.3 242.6,246.3 242.7,246.3 242.8,246.2 243.0,246.2 243.1,246.1 243.2,246.1 243.4,246.1 243.5,246.0 243.7,246.0 243.8,245.9 244.0,245.9 244.2,245.8 244.3,245.8 244.5,245.8 244.7,245.7 244.9,245.7 245.1,245.7 245.3,245.7 245.5,245.7 245.7,245.7 246.0,245.7 246.2,245.7 246.4,245.7 246.7,245.7 246.9,245.8 247.2,245.8 247.5,245.9 247.7,245.9 248.0,246.0 248.3,246.1 248.6,246.2 248.9,246.3 249.1,246.4 249.4,246.6 249.7,246.7 250.0,246.9 250.3,247.1 250.5,247.3 250.8,247.5 251.0,247.7 251.2,248.0 251.4,248.2 251.5,248.5 251.6,248.8 251.7,249.1 251.8,249.4 251.9,249.7 251.9,250.0 251.8,250.3 251.7,250.6 251.6,250.9 251.5,251.2 251.3,251.4 251.2,251.7 251.0,251.9 250.8,252.2 250.5,252.4 250.1,252.6 249.8,252.7 249.4,252.8 249.1,252.9 248.7,253.0 248.4,253.1 248.1,253.2 247.7,253.2 247.4,253.2 247.1,253.3 246.8,253.3 246.5,253.3 246.2,253.3 246.0,253.3 245.8,253.3 245.5,253.3 245.3,253.2 245.1,253.2 244.9,253.2 244.7,253.2 244.6,253.2 244.4,253.2 244.2,253.1 244.1,253.1 243.9,253.0 243.8,253.0 243.6,253.0 243.5,252.9 243.3,252.9 243.2,252.8 243.1,252.8 243.0,252.8 242.9,252.7 242.8,252.7 242.7,252.7 242.6,252.6 242.5,252.6 242.4,252.6 242.3,252.5 242.2,252.5 242.1,252.5 242.0,252.4 241.9,252.4 241.8,252.4 241.8,252.3 241.7,252.3 241.6,252.3 241.5,252.2 241.5,252.2 241.4,252.1 241.3,252.1 241.2,252.1 241.2,252.0 241.1,252.0 241.1,251.9 241.0,251.9 240.9,251.8 240.9,251.8 240.8,251.7 240.8,251.7 240.7,251.6 240.6,251.6 240.6,251.5 240.5,251.4 240.5,251.4 240.4,251.3 240.4,251.3 240.3,251.2 240.3,251.2 240.2,251.1 240.2,251.0 240.2,251.0 240.1,250.9 240.1,250.9 240.0,250.8 240.0,250.7 239.9,250.7 239.9,250.6 239.9,250.5 239.8,250.5 239.8,250.4 239.8,250.3 239.8,250.2 239.7,250.2 239.7,250.1 239.7,250.0 239.7,249.9 239.7,249.8 239.6,249.8Z" fill="#fa631d"/>
<path d="M240.9,249.6 240.9,249.6 240.9,249.5 240.9,249.5 240.9,249.4 240.9,249.4 240.9,249.3 240.9,249.3 241.0,249.2 241.0,249.1 241.0,249.1 241.0,249.0 241.0,249.0 241.0,248.9 241.1,248.9 241.1,248.8 241.1,248.8 241.1,248.7 241.2,248.7 241.2,248.6 241.2,248.6 241.2,248.6 241.3,248.5 241.3,248.5 241.3,248.4 241.4,248.4 241.4,248.3 241.4,248.3 241.5,248.2 241.5,248.2 241.6,248.2 241.6,248.1 241.6,248.1 241.7,248.0 241.7,248.0 241.8,248.0 241.8,247.9 241.9,247.9 241.9,247.9 242.0,247.8 242.0,247.8 242.1,247.7 242.1,247.7 242.2,247.7 242.2,247.6 242.3,247.6 242.4,247.6 242.4,247.5 242.5,247.5 242.6,247.5 242.6,247.5 242.7,247.4 242.8,247.4 242.8,247.4 242.9,247.4 243.0,247.3 243.1,247.3 243.1,247.3 243.2,247.3 243.3,247.2 243.4,247.2 243.5,247.2 243.6,247.1 243.7,247.1 243.8,247.1 243.9,247.1 244.1,247.0 244.2,247.0 244.3,247.0 244.4,247.0 244.6,247.0 244.7,246.9 244.8,246.9 245.0,246.9 245.1,247.0 245.3,247.0 245.4,247.0 245.6,247.0 245.8,247.0 246.0,247.0 246.1,247.1 246.3,247.1 246.5,247.2 246.7,247.2 246.9,247.3 247.1,247.4 247.3,247.4 247.4,247.5 247.6,247.6 247.8,247.8 248.0,247.9 248.2,248.0 248.4,248.1 248.5,248.3 248.7,248.5 248.8,248.7 248.9,248.8 248.9,249.0 249.0,249.2 249.0,249.4 249.1,249.6 249.1,249.8 249.0,250.0 249.0,250.2 248.9,250.4 248.8,250.6 248.7,250.8 248.6,251.0 248.5,251.1 248.3,251.3 248.2,251.4 247.9,251.5 247.7,251.6 247.5,251.7 247.2,251.8 247.0,251.8 246.8,251.9 246.5,251.9 246.3,252.0 246.1,252.0 245.9,252.0 245.7,252.0 245.5,252.0 245.3,252.0 245.2,252.0 245.0,252.0 244.9,252.0 244.7,252.0 244.6,252.0 244.5,252.0 244.3,252.0 244.2,252.0 244.1,251.9 244.0,251.9 243.9,251.9 243.8,251.9 243.7,251.8 243.6,251.8 243.5,251.8 243.4,251.8 243.3,251.7 243.2,251.7 243.2,251.7 243.1,251.7 243.0,251.6 242.9,251.6 242.9,251.6 242.8,251.6 242.7,251.5 242.7,251.5 242.6,251.5 242.6,251.5 242.5,251.5 242.5,251.4 242.4,251.4 242.3,251.4 242.3,251.4 242.2,251.3 242.2,251.3 242.1,251.3 242.1,251.3 242.0,251.2 242.0,251.2 242.0,251.2 241.9,251.1 241.9,251.1 241.8,251.1 241.8,251.0 241.7,251.0 241.7,251.0 241.7,250.9 241.6,250.9 241.6,250.9 241.6,250.8 241.5,250.8 241.5,250.8 241.5,250.7 241.4,250.7 241.4,250.6 241.4,250.6 241.3,250.6 241.3,250.5 241.3,250.5 241.2,250.4 241.2,250.4 241.2,250.4 241.2,250.3 241.1,250.3 241.1,250.2 241.1,250.2 241.1,250.1 241.0,250.1 241.0,250.0 241.0,250.0 241.0,249.9 241.0,249.9 241.0,249.8 240.9,249.8 240.9,249.7 240.9,249.7Z" fill="#f95d1d"/>
<path d="M242.2,249.6 242.2,249.5 242.2,249.5 242.2,249.5 242.2,249.5 242.2,249.4 242.2,249.4 242.2,249.4 242.2,249.3 242.2,249.3 242.2,249.3 242.2,249.3 242.3,249.2 242.3,249.2 242.3,249.2 242.3,249.2 242.3,249.1 242.3,249.1 242.3,249.1 242.3,249.1 242.4,249.0 242.4,249.0 242.4,249.0 242.4,249.0 242.4,249.0 242.4,248.9 242.5,248.9 242.5,248.9 242.5,248.9 242.5,248.9 242.5,248.8 242.6,248.8 242.6,248.8 242.6,248.8 242.6,248.8 242.6,248.7 242.7,248.7 242.7,248.7 242.7,248.7 242.7,248.7 242.8,248.6 242.8,248.6 242.8,248.6 242.8,248.6 242.9,248.6 242.9,248.6 242.9,248.5 243.0,248.5 243.0,248.5 243.0,248.5 243.1,248.5 243.1,248.5 243.1,248.5 243.2,248.4 243.2,248.4 243.2,248.4 243.3,248.4 243.3,248.4 243.4,248.4 243.4,248.4 243.5,248.4 243.5,248.3 243.6,248.3 243.6,248.3 243.7,248.3 243.7,248.3 243.8,248.3 243.8,248.3 243.9,248.2 244.0,248.2 244.0,248.2 244.1,248.2 244.2,248.2 244.2,248.2 244.3,248.2 244.4,248.2 244.5,248.2 244.6,248.2 244.6,248.3 244.7,248.3 244.8,248.3 244.9,248.3 245.0,248.3 245.1,248.4 245.2,248.4 245.3,248.4 245.4,248.5 245.5,248.5 245.6,248.6 245.7,248.6 245.8,248.7 245.8,248.8 245.9,248.8 246.0,248.9 246.1,249.0 246.1,249.1 246.2,249.2 246.2,249.3 246.2,249.4 246.3,249.5 246.3,249.6 246.3,249.7 246.3,249.8 246.2,249.9 246.2,250.0 246.2,250.1 246.1,250.1 246.1,250.2 246.0,250.3 245.9,250.4 245.8,250.5 245.7,250.5 245.6,250.6 245.5,250.6 245.4,250.6 245.2,250.7 245.1,250.7 245.0,250.7 244.9,250.7 244.8,250.7 244.7,250.8 244.6,250.8 244.5,250.8 244.4,250.8 244.3,250.8 244.3,250.8 244.2,250.8 244.1,250.7 244.0,250.7 244.0,250.7 243.9,250.7 243.9,250.7 243.8,250.7 243.7,250.7 243.7,250.7 243.6,250.7 243.6,250.7 243.5,250.7 243.5,250.6 243.4,250.6 243.4,250.6 243.4,250.6 243.3,250.6 243.3,250.6 243.3,250.6 243.2,250.6 243.2,250.5 243.2,250.5 243.1,250.5 243.1,250.5 243.1,250.5 243.0,250.5 243.0,250.5 243.0,250.5 242.9,250.5 242.9,250.4 242.9,250.4 242.9,250.4 242.8,250.4 242.8,250.4 242.8,250.4 242.8,250.4 242.7,250.4 242.7,250.3 242.7,250.3 242.7,250.3 242.7,250.3 242.6,250.3 242.6,250.3 242.6,250.2 242.6,250.2 242.6,250.2 242.5,250.2 242.5,250.2 242.5,250.1 242.5,250.1 242.5,250.1 242.5,250.1 242.4,250.1 242.4,250.1 242.4,250.0 242.4,250.0 242.4,250.0 242.4,250.0 242.4,250.0 242.3,249.9 242.3,249.9 242.3,249.9 242.3,249.9 242.3,249.8 242.3,249.8 242.3,249.8 242.3,249.8 242.3,249.7 242.2,249.7 242.2,249.7 242.2,249.7 242.2,249.6 242.2,249.6 242.2,249.6Z" fill="#f8571c"/>
</g>
<path d="M229.3,250.0 229.3,249.7 229.3,249.3 229.3,249.0 229.3,248.6 229.3,248.3 229.2,247.9 229.2,247.6 229.2,247.2 229.2,246.9 229.2,246.5 229.2,246.1 229.2,245.7 229.2,245.3 229.2,244.9 229.2,244.5 229.3,244.1 229.3,243.7 229.4,243.2 229.4,242.8 229.5,242.3 229.5,241.8 229.5,241.3 229.5,240.7 229.5,240.2 229.5,239.5 229.6,238.9 229.7,238.3 229.8,237.6 229.9,236.9 230.0,236.3 230.2,235.6 230.4,234.9 230.7,234.2 231.0,233.6 231.3,233.0 231.7,232.4 232.1,231.8 232.6,231.2 233.0,230.6 233.5,230.0 234.0,229.5 234.6,228.9 235.2,228.3 235.7,227.7 236.4,227.1 237.0,226.5 237.7,225.8 238.4,225.1 239.2,224.3 240.0,223.5 240.9,222.7 241.8,221.8 242.8,220.9 243.8,219.9 244.9,218.9 246.1,218.0 247.4,217.0 248.7,216.0 250.2,215.0 251.7,213.9 253.4,212.8 255.2,211.5 257.3,210.1 259.5,208.5 262.1,206.7 264.9,204.7 268.1,202.6 271.6,200.2 275.7,197.4 280.5,194.3 286.2,190.5 292.6,186.4 299.8,182.2 308.3,177.3 315.7,174.3 323.6,171.5 331.7,169.1 340.3,167.0 350.2,164.5 360.7,162.3 369.9,161.8 379.3,161.6 389.4,161.6 400.6,161.7 411.5,162.6 421.5,164.6 431.4,167.2 436.1,172.4 438.2,178.7 438.3,185.6 438.2,192.4 437.1,199.4 434.8,206.5 432.1,213.3 429.8,219.9 427.9,226.3 425.8,232.4 423.4,238.5 420.8,244.3 418.5,250.0 418.8,255.6 420.0,261.3 422.6,267.3 425.8,273.5 429.5,280.0 433.8,287.0 438.9,294.5 443.3,302.2 446.0,309.9 447.4,317.4 447.7,324.8 446.5,331.7 442.3,337.6 436.0,342.2 428.3,345.9 417.8,347.7 405.8,348.1 394.5,348.1 384.5,348.2 371.1,345.2 359.7,342.9 346.9,338.5 337.1,335.6 328.5,333.1 320.0,330.0 310.7,325.3 302.1,320.5 294.4,315.7 287.4,311.1 281.3,306.8 276.1,303.2 271.8,300.1 268.0,297.3 264.6,294.7 261.7,292.6 259.2,290.7 256.9,289.1 254.9,287.5 253.0,286.0 251.2,284.6 249.7,283.3 248.3,282.2 246.9,281.1 245.7,280.0 244.6,279.0 243.5,278.1 242.6,277.1 241.6,276.2 240.8,275.3 240.0,274.5 239.3,273.7 238.6,273.0 237.9,272.4 237.2,271.9 236.6,271.4 236.0,270.9 235.4,270.4 234.9,270.0 234.3,269.6 233.8,269.1 233.3,268.7 232.8,268.2 232.3,267.8 231.9,267.3 231.5,266.8 231.1,266.2 230.7,265.7 230.4,265.1 230.2,264.5 230.0,263.8 229.9,263.1 229.8,262.4 229.7,261.7 229.6,261.1 229.5,260.5 229.5,259.8 229.5,259.3 229.5,258.7 229.5,258.2 229.5,257.7 229.4,257.2 229.4,256.8 229.3,256.3 229.3,255.9 229.2,255.5 229.2,255.1 229.2,254.7 229.2,254.3 229.2,253.9 229.2,253.5 229.2,253.1 229.2,252.8 229.2,252.4 229.2,252.1 229.3,251.7 229.3,251.4 229.3,251.0 229.3,250.7 229.3,250.3Z" fill="none" stroke="#2440d8" stroke-opacity="0.7" stroke-width="0.9"/>
<g fill="none" stroke="#000" stroke-opacity="0.36" stroke-width="1" clip-path="url(#cl)">
<path d="M229.6,250.0 229.6,249.7 229.6,249.3 229.6,249.0 229.6,248.7 229.6,248.3 229.5,248.0 229.5,247.7 229.5,247.3 229.5,246.9 229.5,246.6 229.5,246.2 229.5,245.8 229.5,245.5 229.5,245.1 229.5,244.7 229.5,244.3 229.6,243.8 229.6,243.4 229.7,243.0 229.8,242.6 229.8,242.1 229.8,241.5 229.8,241.0 229.8,240.4 229.8,239.8 229.8,239.2 229.9,238.6 230.1,238.0 230.2,237.4 230.4,236.8 230.7,236.3 230.9,235.7 231.2,235.1 231.5,234.6 231.9,234.0 232.2,233.5 232.7,233.0 233.1,232.5 233.5,232.0 234.0,231.6 234.5,231.1 235.0,230.6 235.6,230.2 236.1,229.7 236.7,229.2 237.3,228.7 237.9,228.2 238.6,227.6 239.3,227.1 240.0,226.4 240.8,225.7 241.6,224.9 242.5,224.0 243.4,223.1 244.4,222.2 245.5,221.3 246.6,220.3 247.9,219.4 249.2,218.5 250.5,217.6 252.0,216.6 253.6,215.6 255.3,214.6 257.2,213.5 259.1,212.4 261.3,211.3 263.7,210.0 266.3,208.5 269.3,206.8 273.0,204.6 277.3,202.0 281.9,199.4 286.9,196.8 293.0,193.5 300.8,189.2 308.1,186.0 314.6,184.2 321.0,183.0 327.7,182.0 334.4,181.4 341.5,181.0 349.1,180.7 356.8,180.9 364.4,181.6 372.1,182.7 378.7,184.7 384.3,187.6 388.1,191.4 391.0,195.6 392.6,200.4 393.2,205.5 393.4,210.6 393.1,215.8 392.2,221.0 391.2,226.1 389.9,231.1 388.5,236.0 387.1,240.7 385.8,245.4 385.0,250.0 385.4,254.6 386.4,259.2 387.8,264.0 390.2,269.0 392.6,274.2 394.9,279.5 397.0,285.1 398.6,290.7 399.7,296.4 399.6,301.9 398.6,307.1 396.9,312.1 393.2,316.3 388.5,319.9 382.9,322.8 376.4,325.0 368.5,326.0 359.0,325.5 348.2,323.5 339.4,322.2 331.8,321.2 324.2,319.6 316.8,317.7 309.9,315.6 303.4,313.4 297.4,311.2 291.8,308.8 286.6,306.3 281.5,303.5 276.9,300.7 272.6,298.0 268.9,295.6 265.7,293.5 262.9,291.6 260.3,289.8 258.0,288.2 255.9,286.7 254.0,285.3 252.2,284.0 250.6,282.7 249.2,281.5 247.8,280.4 246.6,279.4 245.4,278.4 244.4,277.6 243.4,276.8 242.5,276.1 241.6,275.4 240.8,274.8 240.0,274.1 239.3,273.5 238.6,272.9 237.9,272.3 237.2,271.8 236.6,271.2 236.1,270.7 235.5,270.1 235.0,269.6 234.5,269.1 234.0,268.6 233.5,268.1 233.0,267.6 232.6,267.1 232.2,266.5 231.8,266.0 231.5,265.5 231.2,264.9 230.9,264.4 230.6,263.8 230.4,263.2 230.2,262.6 230.1,262.0 229.9,261.4 229.9,260.8 229.8,260.2 229.8,259.6 229.8,259.0 229.8,258.5 229.8,257.9 229.8,257.4 229.7,257.0 229.6,256.6 229.6,256.2 229.5,255.7 229.5,255.3 229.5,254.9 229.5,254.5 229.5,254.2 229.5,253.8 229.5,253.4 229.5,253.1 229.5,252.7 229.5,252.3 229.5,252.0 229.6,251.7 229.6,251.3 229.6,251.0 229.6,250.7 229.6,250.3Z"/>
<path d="M229.9,250.0 229.9,249.7 229.9,249.4 229.9,249.0 229.9,248.7 229.9,248.4 229.8,248.1 229.8,247.7 229.8,247.4 229.8,247.0 229.8,246.7 229.8,246.3 229.8,245.9 229.8,245.6 229.8,245.2 229.8,244.8 229.8,244.4 229.9,244.0 229.9,243.6 230.0,243.2 230.0,242.8 230.1,242.3 230.1,241.8 230.1,241.3 230.1,240.7 230.1,240.1 230.2,239.6 230.3,239.0 230.4,238.5 230.6,237.9 230.8,237.4 231.1,236.9 231.3,236.4 231.6,235.8 231.9,235.3 232.3,234.9 232.7,234.4 233.1,233.9 233.5,233.5 233.9,233.1 234.4,232.7 234.8,232.2 235.3,231.8 235.8,231.4 236.4,231.0 236.9,230.6 237.5,230.2 238.1,229.7 238.7,229.2 239.3,228.7 240.0,228.2 240.7,227.5 241.5,226.8 242.3,226.1 243.1,225.3 244.0,224.5 245.0,223.7 246.1,222.9 247.2,222.1 248.3,221.3 249.6,220.5 250.9,219.8 252.3,219.0 253.8,218.2 255.4,217.3 257.1,216.4 259.0,215.5 261.0,214.6 263.1,213.5 265.6,212.4 268.3,211.1 271.6,209.3 275.4,207.2 279.6,205.1 284.0,203.1 288.8,201.2 293.7,199.6 298.8,198.2 303.9,197.1 309.0,196.4 314.2,196.1 319.5,196.0 325.0,196.0 330.9,196.3 336.7,196.8 342.2,197.9 346.9,199.7 350.4,202.2 353.6,205.0 356.2,208.2 357.9,211.7 359.2,215.4 360.4,219.1 361.1,222.9 361.3,226.9 361.4,230.8 361.4,234.7 361.3,238.5 361.1,242.4 360.9,246.2 360.8,250.0 361.1,253.8 361.9,257.7 362.6,261.6 363.6,265.6 364.7,269.8 365.6,274.0 365.7,278.1 365.6,282.3 365.0,286.3 363.7,290.2 361.8,293.9 359.6,297.3 356.9,300.6 353.4,303.4 349.3,305.7 343.8,307.1 337.8,307.8 331.5,308.1 325.1,307.9 318.9,307.3 312.7,306.4 306.8,305.2 301.0,303.8 295.5,302.1 290.4,300.4 285.6,298.6 281.1,296.6 276.9,294.6 273.1,292.7 269.7,290.9 266.7,289.3 264.0,287.9 261.6,286.5 259.4,285.2 257.4,284.1 255.5,283.0 253.9,282.0 252.3,281.1 250.9,280.1 249.5,279.2 248.3,278.4 247.1,277.6 246.0,276.9 245.0,276.2 244.0,275.5 243.2,274.9 242.3,274.4 241.5,273.8 240.7,273.3 240.0,272.8 239.3,272.3 238.6,271.8 238.0,271.3 237.4,270.8 236.8,270.3 236.2,269.8 235.7,269.3 235.2,268.8 234.7,268.3 234.2,267.8 233.8,267.3 233.4,266.8 233.0,266.3 232.6,265.8 232.2,265.2 231.9,264.7 231.6,264.2 231.3,263.7 231.1,263.1 230.8,262.6 230.6,262.1 230.4,261.6 230.3,261.0 230.2,260.4 230.2,259.8 230.1,259.3 230.1,258.7 230.1,258.2 230.1,257.7 230.0,257.2 230.0,256.8 229.9,256.4 229.9,256.0 229.8,255.6 229.8,255.2 229.8,254.8 229.8,254.4 229.8,254.1 229.8,253.7 229.8,253.3 229.8,253.0 229.8,252.6 229.8,252.3 229.8,251.9 229.9,251.6 229.9,251.3 229.9,251.0 229.9,250.6 229.9,250.3Z"/>
<path d="M230.2,250.0 230.2,249.7 230.2,249.4 230.2,249.1 230.2,248.8 230.2,248.4 230.2,248.1 230.1,247.8 230.1,247.5 230.1,247.1 230.1,246.8 230.1,246.4 230.1,246.1 230.1,245.7 230.1,245.4 230.2,245.0 230.2,244.6 230.2,244.2 230.3,243.8 230.4,243.4 230.4,243.0 230.5,242.6 230.5,242.1 230.5,241.6 230.5,241.1 230.6,240.6 230.6,240.0 230.8,239.5 230.9,239.0 231.1,238.5 231.3,238.0 231.6,237.6 231.8,237.1 232.1,236.7 232.4,236.2 232.8,235.8 233.1,235.4 233.5,234.9 233.9,234.5 234.3,234.1 234.7,233.7 235.2,233.3 235.6,232.9 236.1,232.5 236.6,232.1 237.1,231.7 237.6,231.3 238.2,230.8 238.8,230.4 239.4,229.9 240.0,229.4 240.7,228.9 241.4,228.4 242.1,227.8 242.9,227.2 243.7,226.7 244.6,226.1 245.5,225.5 246.4,224.9 247.5,224.3 248.5,223.7 249.7,223.1 250.9,222.4 252.3,221.7 253.7,220.9 255.2,220.2 256.8,219.4 258.5,218.7 260.3,218.0 262.3,217.2 264.4,216.4 266.7,215.6 269.3,214.6 272.3,213.4 275.6,212.1 279.1,210.9 282.8,209.8 286.6,208.9 290.5,208.2 294.4,207.8 298.3,207.6 302.3,207.7 306.3,207.9 310.4,208.4 314.4,209.1 318.4,210.0 322.1,211.4 325.3,213.1 328.2,215.1 330.5,217.4 332.5,220.0 334.1,222.7 335.5,225.5 336.7,228.4 337.7,231.4 338.2,234.4 338.7,237.5 339.1,240.6 339.2,243.8 339.2,246.9 339.2,250.0 339.3,253.1 339.6,256.3 339.8,259.4 340.1,262.6 340.5,265.9 340.6,269.2 339.9,272.3 339.0,275.4 337.8,278.4 336.2,281.2 334.1,283.9 331.7,286.3 328.8,288.4 325.6,290.3 322.0,291.8 318.1,293.0 314.0,293.8 309.6,294.1 305.0,294.2 300.3,293.8 295.6,293.1 291.0,292.2 286.7,291.2 282.5,290.0 278.7,288.7 275.3,287.6 272.2,286.6 269.4,285.5 266.8,284.5 264.3,283.5 262.1,282.5 260.0,281.5 258.1,280.6 256.4,279.8 254.8,279.0 253.3,278.3 251.9,277.5 250.6,276.8 249.4,276.1 248.3,275.5 247.2,274.9 246.2,274.3 245.3,273.7 244.4,273.2 243.6,272.8 242.8,272.4 242.1,272.0 241.4,271.6 240.7,271.2 240.0,270.8 239.4,270.4 238.7,270.0 238.1,269.7 237.6,269.3 237.0,268.8 236.5,268.4 236.0,268.0 235.5,267.5 235.0,267.1 234.6,266.6 234.2,266.2 233.8,265.7 233.4,265.2 233.1,264.8 232.7,264.3 232.4,263.8 232.1,263.3 231.8,262.9 231.6,262.4 231.3,262.0 231.1,261.5 230.9,261.0 230.8,260.5 230.7,260.0 230.6,259.4 230.6,258.9 230.5,258.3 230.5,257.9 230.5,257.4 230.4,257.0 230.4,256.6 230.3,256.2 230.2,255.8 230.2,255.4 230.2,255.0 230.1,254.6 230.1,254.3 230.1,253.9 230.1,253.6 230.1,253.2 230.1,252.9 230.1,252.5 230.1,252.2 230.2,251.9 230.2,251.6 230.2,251.2 230.2,250.9 230.2,250.6 230.2,250.3Z"/>
<path d="M230.8,250.0 230.8,249.7 230.8,249.4 230.8,249.1 230.8,248.8 230.8,248.5 230.8,248.2 230.7,247.9 230.7,247.6 230.7,247.3 230.7,247.0 230.7,246.7 230.7,246.3 230.7,246.0 230.8,245.7 230.8,245.3 230.8,245.0 230.9,244.6 230.9,244.3 231.0,243.9 231.1,243.5 231.1,243.1 231.2,242.7 231.2,242.3 231.3,241.8 231.4,241.4 231.5,240.9 231.6,240.5 231.8,240.1 232.0,239.6 232.2,239.2 232.4,238.8 232.7,238.5 232.9,238.1 233.2,237.7 233.5,237.3 233.8,236.9 234.2,236.5 234.5,236.1 234.9,235.8 235.3,235.4 235.7,235.1 236.1,234.7 236.5,234.4 237.0,234.0 237.4,233.7 237.9,233.4 238.4,233.1 238.9,232.8 239.4,232.4 240.0,232.1 240.6,231.8 241.2,231.5 241.8,231.1 242.4,230.8 243.1,230.5 243.8,230.1 244.5,229.7 245.3,229.3 246.2,228.8 247.0,228.3 248.0,227.8 249.0,227.3 250.1,226.8 251.2,226.2 252.4,225.7 253.7,225.1 255.0,224.6 256.5,224.0 258.0,223.5 259.7,222.9 261.5,222.3 263.5,221.6 265.6,221.0 267.9,220.3 270.2,219.8 272.7,219.3 275.4,218.8 278.1,218.5 281.0,218.2 283.9,218.1 286.8,218.2 289.8,218.4 292.8,218.7 295.8,219.3 298.5,220.2 301.1,221.2 303.6,222.5 305.9,223.9 308.0,225.5 309.9,227.3 311.7,229.2 313.4,231.2 314.9,233.3 316.2,235.5 317.3,237.8 318.3,240.1 319.1,242.5 319.8,245.0 320.5,247.5 320.8,250.0 320.7,252.5 320.5,255.1 320.2,257.6 319.8,260.1 319.0,262.5 318.0,264.9 316.7,267.1 315.2,269.3 313.7,271.4 311.9,273.4 309.9,275.2 307.8,276.8 305.5,278.4 303.2,279.7 300.6,280.9 298.0,281.9 295.2,282.6 292.3,283.2 289.1,283.4 285.7,283.2 282.4,282.9 279.3,282.5 276.4,282.1 273.6,281.5 270.9,280.9 268.5,280.3 266.2,279.7 264.0,279.0 261.9,278.3 260.0,277.5 258.3,276.9 256.7,276.2 255.2,275.7 253.8,275.2 252.6,274.6 251.3,274.1 250.2,273.6 249.1,273.1 248.1,272.6 247.2,272.2 246.3,271.7 245.5,271.3 244.7,270.9 243.9,270.6 243.2,270.2 242.5,269.9 241.9,269.6 241.2,269.3 240.6,269.0 240.0,268.7 239.4,268.4 238.9,268.1 238.3,267.8 237.8,267.5 237.3,267.1 236.8,266.7 236.3,266.3 235.9,265.9 235.5,265.5 235.1,265.0 234.8,264.5 234.4,264.0 234.1,263.6 233.8,263.1 233.5,262.7 233.2,262.3 233.0,261.9 232.7,261.5 232.4,261.1 232.2,260.8 232.0,260.4 231.8,259.9 231.6,259.5 231.5,259.1 231.4,258.6 231.3,258.2 231.2,257.7 231.2,257.3 231.1,256.9 231.1,256.5 231.0,256.1 230.9,255.7 230.9,255.4 230.8,255.0 230.8,254.7 230.8,254.3 230.7,254.0 230.7,253.7 230.7,253.3 230.7,253.0 230.7,252.7 230.7,252.4 230.7,252.1 230.8,251.8 230.8,251.5 230.8,251.2 230.8,250.9 230.8,250.6 230.8,250.3Z"/>
<path d="M231.5,250.0 231.5,249.7 231.5,249.5 231.5,249.2 231.5,248.9 231.5,248.7 231.5,248.4 231.5,248.1 231.5,247.8 231.5,247.5 231.5,247.2 231.5,246.9 231.5,246.6 231.6,246.3 231.6,246.0 231.6,245.7 231.7,245.4 231.7,245.1 231.8,244.8 231.9,244.5 232.0,244.2 232.1,243.9 232.2,243.5 232.3,243.2 232.4,242.8 232.5,242.5 232.6,242.1 232.7,241.7 232.8,241.3 233.0,241.0 233.2,240.6 233.3,240.2 233.5,239.8 233.7,239.4 234.0,239.0 234.2,238.6 234.4,238.2 234.7,237.8 235.0,237.4 235.3,236.9 235.6,236.5 236.0,236.1 236.3,235.7 236.7,235.3 237.1,234.9 237.5,234.5 238.0,234.1 238.5,233.6 238.9,233.2 239.5,232.9 240.0,232.5 240.6,232.1 241.2,231.7 241.8,231.3 242.4,231.0 243.1,230.7 243.7,230.4 244.5,230.1 245.2,229.8 245.9,229.6 246.7,229.3 247.5,229.1 248.4,228.9 249.2,228.7 250.1,228.5 251.1,228.3 252.0,228.1 253.1,227.9 254.1,227.8 255.2,227.6 256.4,227.4 257.6,227.3 259.0,227.1 260.4,226.9 261.9,226.7 263.5,226.5 265.2,226.3 267.0,226.2 268.8,226.2 270.7,226.2 272.6,226.3 274.6,226.5 276.7,226.7 278.8,227.0 281.1,227.4 283.4,227.9 286.0,228.4 288.3,229.1 290.3,230.1 292.3,231.2 294.1,232.4 295.8,233.8 297.3,235.3 298.8,236.9 300.1,238.5 301.2,240.3 302.1,242.2 302.6,244.1 303.1,246.0 303.4,248.0 303.5,250.0 303.4,252.0 303.1,254.0 302.6,255.9 302.1,257.8 301.3,259.7 300.2,261.5 298.8,263.2 297.3,264.7 295.8,266.2 294.0,267.6 292.1,268.8 290.0,269.8 287.9,270.7 285.8,271.6 283.7,272.3 281.6,272.9 279.4,273.3 277.3,273.7 275.2,273.9 273.0,274.0 270.8,273.9 268.6,273.7 266.6,273.4 264.6,273.1 262.8,272.8 261.2,272.5 259.6,272.3 258.2,272.0 256.8,271.7 255.5,271.3 254.3,271.0 253.1,270.6 252.0,270.3 250.9,269.9 250.0,269.5 249.0,269.2 248.2,268.9 247.3,268.5 246.6,268.2 245.8,267.9 245.1,267.6 244.5,267.4 243.8,267.1 243.2,266.8 242.6,266.5 242.1,266.3 241.5,266.0 241.0,265.7 240.5,265.4 240.0,265.1 239.5,264.9 239.1,264.6 238.7,264.3 238.2,264.0 237.8,263.6 237.5,263.3 237.1,263.0 236.7,262.7 236.4,262.4 236.1,262.1 235.8,261.8 235.5,261.5 235.2,261.2 234.9,260.9 234.6,260.6 234.3,260.3 234.1,260.0 233.8,259.7 233.6,259.4 233.4,259.1 233.2,258.8 233.0,258.5 232.8,258.1 232.7,257.8 232.5,257.5 232.4,257.1 232.3,256.8 232.2,256.5 232.1,256.1 232.0,255.8 231.9,255.5 231.8,255.2 231.7,254.9 231.7,254.6 231.6,254.3 231.6,254.0 231.5,253.7 231.5,253.4 231.5,253.1 231.5,252.8 231.5,252.5 231.5,252.2 231.5,251.9 231.5,251.6 231.5,251.3 231.5,251.1 231.5,250.8 231.5,250.5 231.5,250.3Z"/>
<path d="M232.2,250.0 232.2,249.8 232.2,249.5 232.2,249.3 232.2,249.0 232.2,248.8 232.2,248.5 232.2,248.3 232.2,248.0 232.2,247.7 232.2,247.5 232.2,247.2 232.3,246.9 232.3,246.7 232.3,246.4 232.4,246.1 232.4,245.8 232.5,245.5 232.5,245.3 232.6,245.0 232.7,244.7 232.8,244.4 232.8,244.1 232.9,243.8 233.0,243.4 233.1,243.1 233.2,242.8 233.3,242.4 233.5,242.1 233.6,241.8 233.8,241.4 233.9,241.1 234.1,240.8 234.4,240.5 234.6,240.2 234.8,239.9 235.1,239.6 235.4,239.3 235.6,239.0 235.9,238.7 236.3,238.5 236.6,238.2 236.9,237.9 237.2,237.7 237.6,237.4 238.0,237.2 238.4,237.0 238.7,236.7 239.2,236.5 239.6,236.3 240.0,236.1 240.4,236.0 240.9,235.8 241.4,235.6 241.8,235.5 242.3,235.4 242.8,235.2 243.3,235.1 243.9,235.0 244.4,234.8 245.0,234.7 245.5,234.6 246.1,234.5 246.8,234.3 247.4,234.2 248.1,234.1 248.8,233.9 249.6,233.8 250.4,233.6 251.2,233.5 252.1,233.3 253.1,233.2 254.0,233.1 255.0,233.0 256.1,232.9 257.2,232.8 258.3,232.8 259.5,232.8 260.8,232.8 262.2,232.8 263.5,233.0 264.8,233.2 266.1,233.4 267.5,233.8 268.8,234.2 270.1,234.6 271.5,235.2 272.8,235.8 274.1,236.5 275.4,237.2 276.7,238.1 277.9,239.0 279.0,240.0 280.0,241.0 281.0,242.2 281.9,243.4 282.8,244.6 283.6,245.9 284.2,247.2 284.7,248.6 284.8,250.0 284.7,251.4 284.4,252.8 284.0,254.2 283.4,255.5 282.7,256.8 282.0,258.0 281.1,259.2 280.0,260.3 278.8,261.3 277.4,262.2 276.0,263.0 274.6,263.7 273.2,264.4 271.7,264.9 270.2,265.4 268.6,265.7 267.1,266.0 265.6,266.2 264.1,266.4 262.8,266.5 261.5,266.6 260.2,266.7 258.9,266.7 257.7,266.6 256.5,266.5 255.4,266.4 254.3,266.2 253.3,266.1 252.3,265.9 251.4,265.7 250.6,265.5 249.7,265.4 249.0,265.2 248.3,265.1 247.6,264.9 247.0,264.8 246.3,264.7 245.8,264.5 245.2,264.4 244.6,264.2 244.1,264.1 243.6,263.9 243.1,263.8 242.6,263.6 242.1,263.4 241.7,263.3 241.2,263.1 240.8,262.9 240.4,262.7 240.0,262.5 239.6,262.3 239.2,262.1 238.9,261.9 238.5,261.7 238.2,261.5 237.8,261.3 237.5,261.1 237.2,260.9 236.9,260.7 236.6,260.4 236.3,260.2 236.0,260.0 235.8,259.8 235.5,259.5 235.3,259.3 235.0,259.0 234.8,258.8 234.6,258.5 234.4,258.3 234.2,258.0 234.0,257.8 233.8,257.5 233.6,257.2 233.5,257.0 233.3,256.7 233.2,256.4 233.1,256.1 233.0,255.8 232.9,255.5 232.8,255.2 232.7,254.9 232.6,254.7 232.6,254.4 232.5,254.1 232.4,253.9 232.4,253.6 232.3,253.3 232.3,253.0 232.3,252.8 232.2,252.5 232.2,252.3 232.2,252.0 232.2,251.7 232.2,251.5 232.2,251.2 232.2,251.0 232.2,250.7 232.2,250.5 232.2,250.2Z"/>
<path d="M233.2,250.0 233.2,249.8 233.2,249.6 233.2,249.4 233.2,249.1 233.2,248.9 233.3,248.7 233.3,248.5 233.3,248.3 233.4,248.1 233.4,247.9 233.5,247.7 233.6,247.5 233.6,247.2 233.7,247.0 233.8,246.8 233.9,246.7 234.0,246.5 234.1,246.3 234.2,246.1 234.3,245.9 234.5,245.7 234.6,245.5 234.7,245.3 234.9,245.2 235.0,245.0 235.1,244.8 235.3,244.7 235.4,244.5 235.6,244.3 235.8,244.2 235.9,244.0 236.1,243.8 236.3,243.7 236.4,243.5 236.6,243.4 236.8,243.2 237.0,243.1 237.2,242.9 237.4,242.8 237.6,242.6 237.8,242.5 238.0,242.3 238.3,242.2 238.5,242.1 238.7,241.9 239.0,241.8 239.2,241.7 239.5,241.6 239.7,241.4 240.0,241.3 240.3,241.2 240.6,241.1 240.8,241.0 241.1,241.0 241.4,240.9 241.8,240.8 242.1,240.7 242.4,240.5 242.8,240.4 243.1,240.3 243.5,240.2 243.9,240.1 244.3,240.0 244.8,239.8 245.2,239.7 245.7,239.6 246.2,239.5 246.7,239.4 247.2,239.4 247.8,239.3 248.3,239.3 248.9,239.3 249.5,239.3 250.0,239.3 250.7,239.3 251.3,239.4 251.9,239.5 252.6,239.6 253.3,239.7 254.1,239.8 254.8,239.9 255.5,240.1 256.3,240.4 257.1,240.6 257.8,240.9 258.6,241.3 259.3,241.7 260.0,242.1 260.8,242.5 261.5,243.0 262.3,243.5 263.0,244.1 263.6,244.7 264.1,245.4 264.6,246.1 264.9,246.9 265.2,247.6 265.5,248.4 265.7,249.2 265.8,250.0 265.8,250.8 265.7,251.6 265.5,252.4 265.2,253.2 264.8,253.9 264.4,254.7 264.0,255.4 263.5,256.0 262.9,256.6 262.1,257.2 261.2,257.6 260.3,258.0 259.3,258.4 258.3,258.6 257.4,258.9 256.6,259.1 255.7,259.3 254.8,259.4 254.0,259.5 253.1,259.5 252.3,259.5 251.5,259.5 250.8,259.5 250.1,259.5 249.5,259.5 248.9,259.5 248.4,259.5 247.8,259.5 247.3,259.4 246.8,259.4 246.3,259.3 245.9,259.2 245.4,259.2 245.0,259.1 244.6,259.0 244.2,258.9 243.8,258.8 243.4,258.6 243.1,258.5 242.7,258.4 242.4,258.3 242.1,258.2 241.8,258.1 241.5,258.0 241.3,257.9 241.0,257.8 240.7,257.7 240.5,257.6 240.2,257.6 240.0,257.5 239.8,257.4 239.5,257.4 239.3,257.3 239.1,257.2 238.9,257.1 238.7,257.0 238.5,256.9 238.3,256.8 238.1,256.7 237.9,256.6 237.7,256.4 237.5,256.3 237.3,256.2 237.1,256.1 237.0,256.0 236.8,255.8 236.6,255.7 236.5,255.6 236.3,255.4 236.2,255.3 236.0,255.1 235.9,255.0 235.7,254.8 235.6,254.7 235.5,254.5 235.3,254.4 235.2,254.2 235.1,254.1 234.9,253.9 234.8,253.8 234.7,253.6 234.6,253.4 234.5,253.3 234.3,253.1 234.2,252.9 234.1,252.8 234.0,252.6 233.9,252.4 233.8,252.2 233.7,252.0 233.7,251.8 233.6,251.6 233.5,251.5 233.4,251.3 233.4,251.0 233.3,250.8 233.3,250.6 233.2,250.4 233.2,250.2Z"/>
</g>
<path d="M241.9,247.7l2.6,2.6m0,-2.6l-2.6,2.6" stroke="#334" stroke-opacity="0.8" stroke-width="0.8" fill="none"/>
</g>
<g fill="none" stroke="#000">
<path d="M228.5,220.8H553.9" stroke-opacity="0.28" stroke-width="1"/>
<path d="M228.5,240.3H552.9" stroke-opacity="0.26" stroke-width="1" stroke-dasharray="3.5 3" stroke-dashoffset="1.2"/>
<path d="M228.5,250.2H553.9" stroke-opacity="0.16" stroke-width="1.1"/>
<path d="M228.5,259.9H553.9" stroke-opacity="0.26" stroke-width="1"/>
</g>
<g fill="none" stroke="#c2c9c9" stroke-width="1.2">
<path d="M228.5,483.8V22.80000000000001H553.9V483.8"/>
<path d="M228.5,477.8H553.9"/>
<path d="M225.5,471.30H228.5M225.5,458.30H228.5M222.5,445.30H228.5M225.5,432.30H228.5M225.5,419.30H228.5M225.5,406.30H228.5M225.5,393.30H228.5M222.5,380.30H228.5M225.5,367.30H228.5M225.5,354.30H228.5M225.5,341.30H228.5M225.5,328.30H228.5M222.5,315.30H228.5M225.5,302.30H228.5M225.5,289.30H228.5M225.5,276.30H228.5M225.5,263.30H228.5M222.5,250.30H228.5M225.5,237.30H228.5M225.5,224.30H228.5M225.5,211.30H228.5M225.5,198.30H228.5M222.5,185.30H228.5M225.5,172.30H228.5M225.5,159.30H228.5M225.5,146.30H228.5M225.5,133.30H228.5M222.5,120.30H228.5M225.5,107.30H228.5M225.5,94.30H228.5M225.5,81.30H228.5M225.5,68.30H228.5M222.5,55.30H228.5M225.5,42.30H228.5M225.5,29.30H228.5M228.50,477.8v6M235.00,477.8v2.5M241.50,477.8v2.5M248.00,477.8v2.5M254.50,477.8v2.5M261.00,477.8v4.5M267.50,477.8v2.5M274.00,477.8v2.5M280.50,477.8v2.5M287.00,477.8v2.5M293.50,477.8v6M300.00,477.8v2.5M306.50,477.8v2.5M313.00,477.8v2.5M319.50,477.8v2.5M326.00,477.8v4.5M332.50,477.8v2.5M339.00,477.8v2.5M345.50,477.8v2.5M352.00,477.8v2.5M358.50,477.8v6M365.00,477.8v2.5M371.50,477.8v2.5M378.00,477.8v2.5M384.50,477.8v2.5M391.00,477.8v4.5M397.50,477.8v2.5M404.00,477.8v2.5M410.50,477.8v2.5M417.00,477.8v2.5M423.50,477.8v6M430.00,477.8v2.5M436.50,477.8v2.5M443.00,477.8v2.5M449.50,477.8v2.5M456.00,477.8v4.5M462.50,477.8v2.5M469.00,477.8v2.5M475.50,477.8v2.5M482.00,477.8v2.5M488.50,477.8v6M495.00,477.8v2.5M501.50,477.8v2.5M508.00,477.8v2.5M514.50,477.8v2.5M521.00,477.8v4.5M527.50,477.8v2.5M534.00,477.8v2.5M540.50,477.8v2.5M547.00,477.8v2.5M553.50,477.8v6" stroke-width="1"/>
</g>
<text x="219.5" y="450.8" text-anchor="end">-30</text><text x="219.5" y="385.8" text-anchor="end">-20</text><text x="219.5" y="320.8" text-anchor="end">-10</text><text x="219.5" y="255.8" text-anchor="end">0</text><text x="219.5" y="190.8" text-anchor="end">10</text><text x="219.5" y="125.8" text-anchor="end">20</text><text x="219.5" y="60.8" text-anchor="end">30</text>
<text x="228.5" y="499.2" text-anchor="middle">0</text><text x="293.5" y="499.2" text-anchor="middle">10</text><text x="358.5" y="499.2" text-anchor="middle">20</text><text x="423.5" y="499.2" text-anchor="middle">30</text><text x="488.5" y="499.2" text-anchor="middle">40</text><text x="553.5" y="499.2" text-anchor="middle">50</text>
<text class="t" x="203.5" y="17.3">Meter</text>
<text class="t" x="558.5" y="477.6">Meter</text>
</svg>
</body></html>
